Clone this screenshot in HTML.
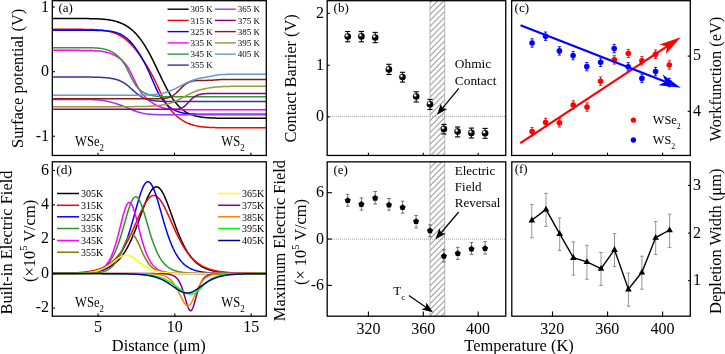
<!DOCTYPE html><html><head><meta charset="utf-8"><style>html,body{margin:0;padding:0;background:#fff;}svg{display:block;will-change:transform;}text{font-family:"Liberation Serif",serif;fill:#000;}</style></head><body>
<svg width="725" height="354" viewBox="0 0 725 354">
<rect width="725" height="354" fill="#fff"/>
<defs><pattern id="hatch" patternUnits="userSpaceOnUse" width="5.90" height="5.90"><path d="M-1.00,-8.80 L-8.80,-1.00 M-1.00,-2.90 L-2.90,-1.00 M-1.00,3.00 L3.00,-1.00 M-1.00,8.90 L8.90,-1.00 M-1.00,14.80 L14.80,-1.00 M-1.00,20.70 L20.70,-1.00" stroke="#3a3a3a" stroke-width="0.75"/></pattern><radialGradient id="ball" cx="0.38" cy="0.36" r="0.62" fx="0.34" fy="0.32"><stop offset="0" stop-color="#fff"/><stop offset="0.16" stop-color="#f4f4f4"/><stop offset="0.36" stop-color="#333"/><stop offset="0.55" stop-color="#000"/></radialGradient></defs>
<clipPath id="ca"><rect x="52.3" y="0.7" width="214.0" height="154.75"/></clipPath>
<g clip-path="url(#ca)" fill="none" stroke-width="1.5">
<path d="M52.30,18.53 L53.01,18.53 L53.73,18.53 L54.44,18.53 L55.15,18.53 L55.87,18.53 L56.58,18.53 L57.29,18.53 L58.01,18.53 L58.72,18.53 L59.43,18.53 L60.15,18.53 L60.86,18.53 L61.57,18.53 L62.29,18.53 L63.00,18.53 L63.71,18.53 L64.43,18.53 L65.14,18.53 L65.85,18.53 L66.57,18.53 L67.28,18.53 L67.99,18.53 L68.71,18.53 L69.42,18.53 L70.13,18.53 L70.85,18.53 L71.56,18.53 L72.27,18.53 L72.99,18.53 L73.70,18.53 L74.41,18.53 L75.13,18.54 L75.84,18.54 L76.55,18.54 L77.27,18.54 L77.98,18.54 L78.69,18.54 L79.41,18.55 L80.12,18.55 L80.83,18.55 L81.55,18.56 L82.26,18.56 L82.97,18.56 L83.69,18.57 L84.40,18.57 L85.11,18.58 L85.83,18.59 L86.54,18.59 L87.25,18.60 L87.97,18.61 L88.68,18.62 L89.39,18.63 L90.11,18.64 L90.82,18.65 L91.53,18.67 L92.25,18.68 L92.96,18.70 L93.67,18.72 L94.39,18.74 L95.10,18.76 L95.81,18.79 L96.53,18.81 L97.24,18.84 L97.95,18.87 L98.67,18.91 L99.38,18.95 L100.09,18.99 L100.81,19.03 L101.52,19.08 L102.23,19.13 L102.95,19.19 L103.66,19.25 L104.37,19.31 L105.09,19.38 L105.80,19.46 L106.51,19.54 L107.23,19.63 L107.94,19.72 L108.65,19.83 L109.37,19.93 L110.08,20.05 L110.79,20.18 L111.51,20.31 L112.22,20.45 L112.93,20.60 L113.65,20.76 L114.36,20.94 L115.07,21.12 L115.79,21.31 L116.50,21.52 L117.21,21.74 L117.93,21.97 L118.64,22.21 L119.35,22.47 L120.07,22.74 L120.78,23.03 L121.49,23.33 L122.21,23.65 L122.92,23.99 L123.63,24.34 L124.35,24.71 L125.06,25.10 L125.77,25.51 L126.49,25.94 L127.20,26.39 L127.91,26.86 L128.63,27.35 L129.34,27.87 L130.05,28.40 L130.77,28.96 L131.48,29.55 L132.19,30.15 L132.91,30.79 L133.62,31.45 L134.33,32.13 L135.05,32.85 L135.76,33.59 L136.47,34.36 L137.19,35.15 L137.90,35.98 L138.61,36.84 L139.33,37.72 L140.04,38.64 L140.75,39.59 L141.47,40.57 L142.18,41.57 L142.89,42.62 L143.61,43.69 L144.32,44.79 L145.03,45.92 L145.75,47.09 L146.46,48.28 L147.17,49.51 L147.89,50.76 L148.60,52.04 L149.31,53.35 L150.03,54.68 L150.74,56.04 L151.45,57.42 L152.17,58.82 L152.88,60.24 L153.59,61.68 L154.31,63.14 L155.02,64.61 L155.73,66.09 L156.45,67.58 L157.16,69.08 L157.87,70.58 L158.59,72.08 L159.30,73.59 L160.01,75.09 L160.73,76.58 L161.44,78.07 L162.15,79.54 L162.87,81.00 L163.58,82.45 L164.29,83.87 L165.01,85.28 L165.72,86.66 L166.43,88.02 L167.15,89.35 L167.86,90.65 L168.57,91.92 L169.29,93.16 L170.00,94.37 L170.71,95.54 L171.43,96.67 L172.14,97.77 L172.85,98.84 L173.57,99.86 L174.28,100.85 L174.99,101.80 L175.71,102.71 L176.42,103.59 L177.13,104.43 L177.85,105.23 L178.56,106.00 L179.27,106.73 L179.99,107.43 L180.70,108.09 L181.41,108.72 L182.13,109.32 L182.84,109.88 L183.55,110.42 L184.27,110.93 L184.98,111.41 L185.69,111.86 L186.41,112.29 L187.12,112.69 L187.83,113.07 L188.55,113.43 L189.26,113.76 L189.97,114.08 L190.69,114.38 L191.40,114.65 L192.11,114.92 L192.83,115.16 L193.54,115.39 L194.25,115.60 L194.97,115.80 L195.68,115.99 L196.39,116.16 L197.11,116.33 L197.82,116.48 L198.53,116.62 L199.25,116.75 L199.96,116.87 L200.67,116.99 L201.39,117.09 L202.10,117.19 L202.81,117.28 L203.53,117.37 L204.24,117.45 L204.95,117.52 L205.67,117.59 L206.38,117.65 L207.09,117.71 L207.81,117.76 L208.52,117.81 L209.23,117.85 L209.95,117.89 L210.66,117.93 L211.37,117.97 L212.09,118.00 L212.80,118.03 L213.51,118.06 L214.23,118.08 L214.94,118.10 L215.65,118.12 L216.37,118.14 L217.08,118.16 L217.79,118.17 L218.51,118.19 L219.22,118.20 L219.93,118.21 L220.65,118.22 L221.36,118.23 L222.07,118.24 L222.79,118.25 L223.50,118.26 L224.21,118.26 L224.93,118.27 L225.64,118.27 L226.35,118.28 L227.07,118.28 L227.78,118.29 L228.49,118.29 L229.21,118.29 L229.92,118.30 L230.63,118.30 L231.35,118.30 L232.06,118.30 L232.77,118.30 L233.49,118.31 L234.20,118.31 L234.91,118.31 L235.63,118.31 L236.34,118.31 L237.05,118.31 L237.77,118.31 L238.48,118.31 L239.19,118.31 L239.91,118.31 L240.62,118.31 L241.33,118.31 L242.05,118.31 L242.76,118.31 L243.47,118.31 L244.19,118.32 L244.90,118.32 L245.61,118.32 L246.33,118.32 L247.04,118.32 L247.75,118.32 L248.47,118.32 L249.18,118.32 L249.89,118.32 L250.61,118.32 L251.32,118.32 L252.03,118.32 L252.75,118.32 L253.46,118.32 L254.17,118.32 L254.89,118.32 L255.60,118.32 L256.31,118.32 L257.03,118.32 L257.74,118.32 L258.45,118.32 L259.17,118.32 L259.88,118.32 L260.59,118.32 L261.31,118.32 L262.02,118.32 L262.73,118.32 L263.45,118.32 L264.16,118.32 L264.87,118.32 L265.59,118.32 L266.30,118.32" stroke="#000000"/>
<path d="M52.30,29.30 L53.01,29.30 L53.73,29.30 L54.44,29.30 L55.15,29.30 L55.87,29.30 L56.58,29.30 L57.29,29.30 L58.01,29.30 L58.72,29.30 L59.43,29.30 L60.15,29.30 L60.86,29.30 L61.57,29.30 L62.29,29.30 L63.00,29.30 L63.71,29.30 L64.43,29.30 L65.14,29.31 L65.85,29.31 L66.57,29.31 L67.28,29.31 L67.99,29.31 L68.71,29.31 L69.42,29.31 L70.13,29.31 L70.85,29.31 L71.56,29.31 L72.27,29.31 L72.99,29.31 L73.70,29.32 L74.41,29.32 L75.13,29.32 L75.84,29.32 L76.55,29.32 L77.27,29.33 L77.98,29.33 L78.69,29.33 L79.41,29.34 L80.12,29.34 L80.83,29.35 L81.55,29.35 L82.26,29.36 L82.97,29.37 L83.69,29.38 L84.40,29.38 L85.11,29.39 L85.83,29.40 L86.54,29.42 L87.25,29.43 L87.97,29.44 L88.68,29.46 L89.39,29.48 L90.11,29.50 L90.82,29.52 L91.53,29.54 L92.25,29.57 L92.96,29.59 L93.67,29.62 L94.39,29.66 L95.10,29.69 L95.81,29.73 L96.53,29.77 L97.24,29.82 L97.95,29.87 L98.67,29.93 L99.38,29.99 L100.09,30.05 L100.81,30.12 L101.52,30.20 L102.23,30.28 L102.95,30.36 L103.66,30.46 L104.37,30.56 L105.09,30.67 L105.80,30.79 L106.51,30.91 L107.23,31.05 L107.94,31.19 L108.65,31.35 L109.37,31.51 L110.08,31.69 L110.79,31.88 L111.51,32.08 L112.22,32.29 L112.93,32.51 L113.65,32.75 L114.36,33.01 L115.07,33.28 L115.79,33.56 L116.50,33.86 L117.21,34.18 L117.93,34.51 L118.64,34.86 L119.35,35.24 L120.07,35.62 L120.78,36.03 L121.49,36.46 L122.21,36.91 L122.92,37.38 L123.63,37.87 L124.35,38.38 L125.06,38.92 L125.77,39.47 L126.49,40.05 L127.20,40.66 L127.91,41.28 L128.63,41.93 L129.34,42.60 L130.05,43.30 L130.77,44.02 L131.48,44.76 L132.19,45.53 L132.91,46.32 L133.62,47.14 L134.33,47.97 L135.05,48.83 L135.76,49.72 L136.47,50.62 L137.19,51.55 L137.90,52.50 L138.61,53.46 L139.33,54.45 L140.04,55.46 L140.75,56.49 L141.47,57.53 L142.18,58.60 L142.89,59.67 L143.61,60.77 L144.32,61.88 L145.03,63.00 L145.75,64.14 L146.46,65.30 L147.17,66.47 L147.89,67.65 L148.60,68.85 L149.31,70.07 L150.03,71.31 L150.74,72.57 L151.45,73.85 L152.17,75.16 L152.88,76.51 L153.59,77.88 L154.31,79.29 L155.02,80.73 L155.73,82.21 L156.45,83.72 L157.16,85.25 L157.87,86.81 L158.59,88.38 L159.30,89.95 L160.01,91.51 L160.73,93.05 L161.44,94.57 L162.15,96.06 L162.87,97.50 L163.58,98.89 L164.29,100.22 L165.01,101.50 L165.72,102.73 L166.43,103.89 L167.15,105.00 L167.86,106.05 L168.57,107.06 L169.29,108.02 L170.00,108.95 L170.71,109.83 L171.43,110.67 L172.14,111.49 L172.85,112.27 L173.57,113.03 L174.28,113.76 L174.99,114.46 L175.71,115.13 L176.42,115.79 L177.13,116.41 L177.85,117.02 L178.56,117.60 L179.27,118.16 L179.99,118.69 L180.70,119.20 L181.41,119.70 L182.13,120.17 L182.84,120.61 L183.55,121.04 L184.27,121.45 L184.98,121.84 L185.69,122.21 L186.41,122.57 L187.12,122.90 L187.83,123.22 L188.55,123.52 L189.26,123.80 L189.97,124.07 L190.69,124.33 L191.40,124.57 L192.11,124.79 L192.83,125.01 L193.54,125.21 L194.25,125.39 L194.97,125.57 L195.68,125.74 L196.39,125.89 L197.11,126.04 L197.82,126.17 L198.53,126.30 L199.25,126.42 L199.96,126.52 L200.67,126.63 L201.39,126.72 L202.10,126.81 L202.81,126.89 L203.53,126.97 L204.24,127.04 L204.95,127.10 L205.67,127.16 L206.38,127.22 L207.09,127.27 L207.81,127.31 L208.52,127.36 L209.23,127.40 L209.95,127.43 L210.66,127.47 L211.37,127.50 L212.09,127.52 L212.80,127.55 L213.51,127.57 L214.23,127.59 L214.94,127.61 L215.65,127.63 L216.37,127.65 L217.08,127.66 L217.79,127.67 L218.51,127.68 L219.22,127.69 L219.93,127.70 L220.65,127.71 L221.36,127.72 L222.07,127.73 L222.79,127.73 L223.50,127.74 L224.21,127.75 L224.93,127.75 L225.64,127.75 L226.35,127.76 L227.07,127.76 L227.78,127.76 L228.49,127.77 L229.21,127.77 L229.92,127.77 L230.63,127.77 L231.35,127.77 L232.06,127.78 L232.77,127.78 L233.49,127.78 L234.20,127.78 L234.91,127.78 L235.63,127.78 L236.34,127.78 L237.05,127.78 L237.77,127.78 L238.48,127.78 L239.19,127.78 L239.91,127.78 L240.62,127.78 L241.33,127.78 L242.05,127.79 L242.76,127.79 L243.47,127.79 L244.19,127.79 L244.90,127.79 L245.61,127.79 L246.33,127.79 L247.04,127.79 L247.75,127.79 L248.47,127.79 L249.18,127.79 L249.89,127.79 L250.61,127.79 L251.32,127.79 L252.03,127.79 L252.75,127.79 L253.46,127.79 L254.17,127.79 L254.89,127.79 L255.60,127.79 L256.31,127.79 L257.03,127.79 L257.74,127.79 L258.45,127.79 L259.17,127.79 L259.88,127.79 L260.59,127.79 L261.31,127.79 L262.02,127.79 L262.73,127.79 L263.45,127.79 L264.16,127.79 L264.87,127.79 L265.59,127.79 L266.30,127.79" stroke="#ff0000"/>
<path d="M52.30,30.31 L53.01,30.31 L53.73,30.31 L54.44,30.31 L55.15,30.31 L55.87,30.31 L56.58,30.31 L57.29,30.31 L58.01,30.31 L58.72,30.31 L59.43,30.31 L60.15,30.31 L60.86,30.31 L61.57,30.31 L62.29,30.31 L63.00,30.31 L63.71,30.31 L64.43,30.31 L65.14,30.31 L65.85,30.31 L66.57,30.31 L67.28,30.31 L67.99,30.31 L68.71,30.31 L69.42,30.31 L70.13,30.31 L70.85,30.31 L71.56,30.31 L72.27,30.31 L72.99,30.31 L73.70,30.31 L74.41,30.31 L75.13,30.31 L75.84,30.31 L76.55,30.31 L77.27,30.31 L77.98,30.31 L78.69,30.31 L79.41,30.31 L80.12,30.31 L80.83,30.31 L81.55,30.31 L82.26,30.31 L82.97,30.31 L83.69,30.31 L84.40,30.31 L85.11,30.31 L85.83,30.32 L86.54,30.32 L87.25,30.32 L87.97,30.32 L88.68,30.32 L89.39,30.33 L90.11,30.33 L90.82,30.33 L91.53,30.34 L92.25,30.34 L92.96,30.35 L93.67,30.35 L94.39,30.36 L95.10,30.37 L95.81,30.38 L96.53,30.39 L97.24,30.40 L97.95,30.42 L98.67,30.44 L99.38,30.45 L100.09,30.48 L100.81,30.50 L101.52,30.53 L102.23,30.56 L102.95,30.59 L103.66,30.63 L104.37,30.67 L105.09,30.72 L105.80,30.77 L106.51,30.83 L107.23,30.90 L107.94,30.97 L108.65,31.05 L109.37,31.14 L110.08,31.24 L110.79,31.35 L111.51,31.47 L112.22,31.60 L112.93,31.74 L113.65,31.90 L114.36,32.07 L115.07,32.25 L115.79,32.45 L116.50,32.67 L117.21,32.91 L117.93,33.16 L118.64,33.44 L119.35,33.73 L120.07,34.05 L120.78,34.39 L121.49,34.76 L122.21,35.15 L122.92,35.57 L123.63,36.01 L124.35,36.48 L125.06,36.99 L125.77,37.52 L126.49,38.08 L127.20,38.67 L127.91,39.30 L128.63,39.96 L129.34,40.65 L130.05,41.37 L130.77,42.12 L131.48,42.91 L132.19,43.74 L132.91,44.59 L133.62,45.48 L134.33,46.40 L135.05,47.36 L135.76,48.34 L136.47,49.36 L137.19,50.41 L137.90,51.48 L138.61,52.59 L139.33,53.72 L140.04,54.88 L140.75,56.07 L141.47,57.29 L142.18,58.53 L142.89,59.81 L143.61,61.11 L144.32,62.45 L145.03,63.82 L145.75,65.23 L146.46,66.67 L147.17,68.15 L147.89,69.67 L148.60,71.22 L149.31,72.81 L150.03,74.43 L150.74,76.08 L151.45,77.75 L152.17,79.43 L152.88,81.11 L153.59,82.78 L154.31,84.43 L155.02,86.05 L155.73,87.64 L156.45,89.17 L157.16,90.65 L157.87,92.07 L158.59,93.42 L159.30,94.70 L160.01,95.92 L160.73,97.07 L161.44,98.16 L162.15,99.19 L162.87,100.15 L163.58,101.07 L164.29,101.93 L165.01,102.74 L165.72,103.52 L166.43,104.24 L167.15,104.93 L167.86,105.59 L168.57,106.20 L169.29,106.79 L170.00,107.34 L170.71,107.86 L171.43,108.34 L172.14,108.80 L172.85,109.24 L173.57,109.64 L174.28,110.02 L174.99,110.38 L175.71,110.71 L176.42,111.01 L177.13,111.30 L177.85,111.57 L178.56,111.81 L179.27,112.04 L179.99,112.25 L180.70,112.44 L181.41,112.62 L182.13,112.78 L182.84,112.93 L183.55,113.07 L184.27,113.19 L184.98,113.31 L185.69,113.41 L186.41,113.50 L187.12,113.59 L187.83,113.67 L188.55,113.74 L189.26,113.80 L189.97,113.86 L190.69,113.91 L191.40,113.95 L192.11,113.99 L192.83,114.03 L193.54,114.06 L194.25,114.09 L194.97,114.12 L195.68,114.14 L196.39,114.16 L197.11,114.18 L197.82,114.19 L198.53,114.20 L199.25,114.22 L199.96,114.23 L200.67,114.24 L201.39,114.25 L202.10,114.25 L202.81,114.26 L203.53,114.26 L204.24,114.27 L204.95,114.27 L205.67,114.28 L206.38,114.28 L207.09,114.28 L207.81,114.28 L208.52,114.29 L209.23,114.29 L209.95,114.29 L210.66,114.29 L211.37,114.29 L212.09,114.29 L212.80,114.29 L213.51,114.29 L214.23,114.29 L214.94,114.29 L215.65,114.29 L216.37,114.29 L217.08,114.29 L217.79,114.30 L218.51,114.30 L219.22,114.30 L219.93,114.30 L220.65,114.30 L221.36,114.30 L222.07,114.30 L222.79,114.30 L223.50,114.30 L224.21,114.30 L224.93,114.30 L225.64,114.30 L226.35,114.30 L227.07,114.30 L227.78,114.30 L228.49,114.30 L229.21,114.30 L229.92,114.30 L230.63,114.30 L231.35,114.30 L232.06,114.30 L232.77,114.30 L233.49,114.30 L234.20,114.30 L234.91,114.30 L235.63,114.30 L236.34,114.30 L237.05,114.30 L237.77,114.30 L238.48,114.30 L239.19,114.30 L239.91,114.30 L240.62,114.30 L241.33,114.30 L242.05,114.30 L242.76,114.30 L243.47,114.30 L244.19,114.30 L244.90,114.30 L245.61,114.30 L246.33,114.30 L247.04,114.30 L247.75,114.30 L248.47,114.30 L249.18,114.30 L249.89,114.30 L250.61,114.30 L251.32,114.30 L252.03,114.30 L252.75,114.30 L253.46,114.30 L254.17,114.30 L254.89,114.30 L255.60,114.30 L256.31,114.30 L257.03,114.30 L257.74,114.30 L258.45,114.30 L259.17,114.30 L259.88,114.30 L260.59,114.30 L261.31,114.30 L262.02,114.30 L262.73,114.30 L263.45,114.30 L264.16,114.30 L264.87,114.30 L265.59,114.30 L266.30,114.30" stroke="#0000ff"/>
<path d="M52.30,50.36 L53.01,50.36 L53.73,50.36 L54.44,50.36 L55.15,50.36 L55.87,50.36 L56.58,50.36 L57.29,50.36 L58.01,50.36 L58.72,50.36 L59.43,50.36 L60.15,50.36 L60.86,50.36 L61.57,50.36 L62.29,50.36 L63.00,50.36 L63.71,50.36 L64.43,50.36 L65.14,50.36 L65.85,50.36 L66.57,50.36 L67.28,50.36 L67.99,50.36 L68.71,50.36 L69.42,50.36 L70.13,50.36 L70.85,50.36 L71.56,50.36 L72.27,50.36 L72.99,50.36 L73.70,50.36 L74.41,50.36 L75.13,50.36 L75.84,50.36 L76.55,50.37 L77.27,50.37 L77.98,50.37 L78.69,50.37 L79.41,50.37 L80.12,50.38 L80.83,50.38 L81.55,50.38 L82.26,50.39 L82.97,50.39 L83.69,50.40 L84.40,50.40 L85.11,50.41 L85.83,50.42 L86.54,50.43 L87.25,50.44 L87.97,50.45 L88.68,50.47 L89.39,50.48 L90.11,50.50 L90.82,50.52 L91.53,50.54 L92.25,50.57 L92.96,50.60 L93.67,50.63 L94.39,50.66 L95.10,50.70 L95.81,50.75 L96.53,50.80 L97.24,50.85 L97.95,50.91 L98.67,50.97 L99.38,51.05 L100.09,51.12 L100.81,51.21 L101.52,51.31 L102.23,51.41 L102.95,51.52 L103.66,51.65 L104.37,51.78 L105.09,51.93 L105.80,52.08 L106.51,52.25 L107.23,52.44 L107.94,52.63 L108.65,52.85 L109.37,53.07 L110.08,53.32 L110.79,53.58 L111.51,53.85 L112.22,54.15 L112.93,54.46 L113.65,54.80 L114.36,55.15 L115.07,55.52 L115.79,55.91 L116.50,56.33 L117.21,56.77 L117.93,57.22 L118.64,57.71 L119.35,58.22 L120.07,58.75 L120.78,59.32 L121.49,59.91 L122.21,60.54 L122.92,61.22 L123.63,61.93 L124.35,62.70 L125.06,63.52 L125.77,64.40 L126.49,65.35 L127.20,66.38 L127.91,67.48 L128.63,68.65 L129.34,69.90 L130.05,71.23 L130.77,72.62 L131.48,74.07 L132.19,75.56 L132.91,77.08 L133.62,78.61 L134.33,80.14 L135.05,81.65 L135.76,83.13 L136.47,84.55 L137.19,85.92 L137.90,87.23 L138.61,88.47 L139.33,89.63 L140.04,90.73 L140.75,91.76 L141.47,92.73 L142.18,93.64 L142.89,94.50 L143.61,95.31 L144.32,96.09 L145.03,96.83 L145.75,97.53 L146.46,98.21 L147.17,98.86 L147.89,99.48 L148.60,100.08 L149.31,100.66 L150.03,101.21 L150.74,101.74 L151.45,102.25 L152.17,102.74 L152.88,103.21 L153.59,103.65 L154.31,104.08 L155.02,104.48 L155.73,104.86 L156.45,105.23 L157.16,105.57 L157.87,105.89 L158.59,106.20 L159.30,106.49 L160.01,106.76 L160.73,107.01 L161.44,107.25 L162.15,107.47 L162.87,107.67 L163.58,107.86 L164.29,108.04 L165.01,108.20 L165.72,108.36 L166.43,108.50 L167.15,108.62 L167.86,108.74 L168.57,108.85 L169.29,108.95 L170.00,109.04 L170.71,109.13 L171.43,109.20 L172.14,109.27 L172.85,109.33 L173.57,109.39 L174.28,109.44 L174.99,109.49 L175.71,109.53 L176.42,109.57 L177.13,109.60 L177.85,109.63 L178.56,109.66 L179.27,109.68 L179.99,109.70 L180.70,109.72 L181.41,109.74 L182.13,109.76 L182.84,109.77 L183.55,109.78 L184.27,109.79 L184.98,109.80 L185.69,109.81 L186.41,109.81 L187.12,109.82 L187.83,109.83 L188.55,109.83 L189.26,109.83 L189.97,109.84 L190.69,109.84 L191.40,109.84 L192.11,109.85 L192.83,109.85 L193.54,109.85 L194.25,109.85 L194.97,109.85 L195.68,109.85 L196.39,109.85 L197.11,109.85 L197.82,109.86 L198.53,109.86 L199.25,109.86 L199.96,109.86 L200.67,109.86 L201.39,109.86 L202.10,109.86 L202.81,109.86 L203.53,109.86 L204.24,109.86 L204.95,109.86 L205.67,109.86 L206.38,109.86 L207.09,109.86 L207.81,109.86 L208.52,109.86 L209.23,109.86 L209.95,109.86 L210.66,109.86 L211.37,109.86 L212.09,109.86 L212.80,109.86 L213.51,109.86 L214.23,109.86 L214.94,109.86 L215.65,109.86 L216.37,109.86 L217.08,109.86 L217.79,109.86 L218.51,109.86 L219.22,109.86 L219.93,109.86 L220.65,109.86 L221.36,109.86 L222.07,109.86 L222.79,109.86 L223.50,109.86 L224.21,109.86 L224.93,109.86 L225.64,109.86 L226.35,109.86 L227.07,109.86 L227.78,109.86 L228.49,109.86 L229.21,109.86 L229.92,109.86 L230.63,109.86 L231.35,109.86 L232.06,109.86 L232.77,109.86 L233.49,109.86 L234.20,109.86 L234.91,109.86 L235.63,109.86 L236.34,109.86 L237.05,109.86 L237.77,109.86 L238.48,109.86 L239.19,109.86 L239.91,109.86 L240.62,109.86 L241.33,109.86 L242.05,109.86 L242.76,109.86 L243.47,109.86 L244.19,109.86 L244.90,109.86 L245.61,109.86 L246.33,109.86 L247.04,109.86 L247.75,109.86 L248.47,109.86 L249.18,109.86 L249.89,109.86 L250.61,109.86 L251.32,109.86 L252.03,109.86 L252.75,109.86 L253.46,109.86 L254.17,109.86 L254.89,109.86 L255.60,109.86 L256.31,109.86 L257.03,109.86 L257.74,109.86 L258.45,109.86 L259.17,109.86 L259.88,109.86 L260.59,109.86 L261.31,109.86 L262.02,109.86 L262.73,109.86 L263.45,109.86 L264.16,109.86 L264.87,109.86 L265.59,109.86 L266.30,109.86" stroke="#ff00ff"/>
<path d="M52.30,47.67 L53.01,47.67 L53.73,47.67 L54.44,47.67 L55.15,47.67 L55.87,47.67 L56.58,47.67 L57.29,47.67 L58.01,47.67 L58.72,47.67 L59.43,47.67 L60.15,47.67 L60.86,47.67 L61.57,47.67 L62.29,47.67 L63.00,47.67 L63.71,47.67 L64.43,47.67 L65.14,47.67 L65.85,47.67 L66.57,47.67 L67.28,47.67 L67.99,47.67 L68.71,47.67 L69.42,47.67 L70.13,47.67 L70.85,47.67 L71.56,47.67 L72.27,47.67 L72.99,47.67 L73.70,47.67 L74.41,47.67 L75.13,47.68 L75.84,47.68 L76.55,47.68 L77.27,47.68 L77.98,47.68 L78.69,47.68 L79.41,47.68 L80.12,47.68 L80.83,47.68 L81.55,47.68 L82.26,47.69 L82.97,47.69 L83.69,47.69 L84.40,47.69 L85.11,47.70 L85.83,47.70 L86.54,47.71 L87.25,47.72 L87.97,47.73 L88.68,47.73 L89.39,47.75 L90.11,47.76 L90.82,47.77 L91.53,47.79 L92.25,47.81 L92.96,47.84 L93.67,47.86 L94.39,47.90 L95.10,47.93 L95.81,47.97 L96.53,48.02 L97.24,48.07 L97.95,48.13 L98.67,48.20 L99.38,48.28 L100.09,48.36 L100.81,48.46 L101.52,48.56 L102.23,48.68 L102.95,48.81 L103.66,48.95 L104.37,49.11 L105.09,49.28 L105.80,49.47 L106.51,49.68 L107.23,49.91 L107.94,50.15 L108.65,50.42 L109.37,50.71 L110.08,51.02 L110.79,51.35 L111.51,51.71 L112.22,52.09 L112.93,52.49 L113.65,52.93 L114.36,53.38 L115.07,53.87 L115.79,54.39 L116.50,54.94 L117.21,55.52 L117.93,56.13 L118.64,56.79 L119.35,57.48 L120.07,58.23 L120.78,59.02 L121.49,59.88 L122.21,60.79 L122.92,61.77 L123.63,62.83 L124.35,63.95 L125.06,65.15 L125.77,66.42 L126.49,67.75 L127.20,69.14 L127.91,70.58 L128.63,72.05 L129.34,73.54 L130.05,75.03 L130.77,76.50 L131.48,77.94 L132.19,79.34 L132.91,80.67 L133.62,81.94 L134.33,83.12 L135.05,84.23 L135.76,85.26 L136.47,86.21 L137.19,87.08 L137.90,87.88 L138.61,88.61 L139.33,89.28 L140.04,89.90 L140.75,90.47 L141.47,91.00 L142.18,91.48 L142.89,91.93 L143.61,92.35 L144.32,92.74 L145.03,93.10 L145.75,93.44 L146.46,93.75 L147.17,94.04 L147.89,94.30 L148.60,94.55 L149.31,94.77 L150.03,94.98 L150.74,95.17 L151.45,95.34 L152.17,95.50 L152.88,95.64 L153.59,95.77 L154.31,95.89 L155.02,95.99 L155.73,96.09 L156.45,96.17 L157.16,96.25 L157.87,96.31 L158.59,96.37 L159.30,96.42 L160.01,96.47 L160.73,96.51 L161.44,96.55 L162.15,96.58 L162.87,96.61 L163.58,96.63 L164.29,96.65 L165.01,96.67 L165.72,96.68 L166.43,96.70 L167.15,96.71 L167.86,96.72 L168.57,96.72 L169.29,96.73 L170.00,96.74 L170.71,96.74 L171.43,96.75 L172.14,96.75 L172.85,96.75 L173.57,96.76 L174.28,96.76 L174.99,96.76 L175.71,96.76 L176.42,96.76 L177.13,96.76 L177.85,96.76 L178.56,96.76 L179.27,96.77 L179.99,96.77 L180.70,96.77 L181.41,96.77 L182.13,96.77 L182.84,96.77 L183.55,96.77 L184.27,96.77 L184.98,96.77 L185.69,96.77 L186.41,96.77 L187.12,96.77 L187.83,96.77 L188.55,96.77 L189.26,96.77 L189.97,96.77 L190.69,96.77 L191.40,96.77 L192.11,96.77 L192.83,96.77 L193.54,96.77 L194.25,96.77 L194.97,96.77 L195.68,96.77 L196.39,96.77 L197.11,96.77 L197.82,96.77 L198.53,96.77 L199.25,96.77 L199.96,96.77 L200.67,96.77 L201.39,96.77 L202.10,96.77 L202.81,96.77 L203.53,96.77 L204.24,96.77 L204.95,96.77 L205.67,96.77 L206.38,96.77 L207.09,96.77 L207.81,96.77 L208.52,96.77 L209.23,96.77 L209.95,96.77 L210.66,96.77 L211.37,96.77 L212.09,96.77 L212.80,96.77 L213.51,96.77 L214.23,96.77 L214.94,96.77 L215.65,96.77 L216.37,96.77 L217.08,96.77 L217.79,96.77 L218.51,96.77 L219.22,96.77 L219.93,96.77 L220.65,96.77 L221.36,96.77 L222.07,96.77 L222.79,96.77 L223.50,96.77 L224.21,96.77 L224.93,96.77 L225.64,96.77 L226.35,96.77 L227.07,96.77 L227.78,96.77 L228.49,96.77 L229.21,96.77 L229.92,96.77 L230.63,96.77 L231.35,96.77 L232.06,96.77 L232.77,96.77 L233.49,96.77 L234.20,96.77 L234.91,96.77 L235.63,96.77 L236.34,96.77 L237.05,96.77 L237.77,96.77 L238.48,96.77 L239.19,96.77 L239.91,96.77 L240.62,96.77 L241.33,96.77 L242.05,96.77 L242.76,96.77 L243.47,96.77 L244.19,96.77 L244.90,96.77 L245.61,96.77 L246.33,96.77 L247.04,96.77 L247.75,96.77 L248.47,96.77 L249.18,96.77 L249.89,96.77 L250.61,96.77 L251.32,96.77 L252.03,96.77 L252.75,96.77 L253.46,96.77 L254.17,96.77 L254.89,96.77 L255.60,96.77 L256.31,96.77 L257.03,96.77 L257.74,96.77 L258.45,96.77 L259.17,96.77 L259.88,96.77 L260.59,96.77 L261.31,96.77 L262.02,96.77 L262.73,96.77 L263.45,96.77 L264.16,96.77 L264.87,96.77 L265.59,96.77 L266.30,96.77" stroke="#339933"/>
<path d="M52.30,77.04 L53.01,77.04 L53.73,77.04 L54.44,77.04 L55.15,77.04 L55.87,77.04 L56.58,77.04 L57.29,77.04 L58.01,77.04 L58.72,77.04 L59.43,77.04 L60.15,77.04 L60.86,77.04 L61.57,77.04 L62.29,77.04 L63.00,77.04 L63.71,77.04 L64.43,77.04 L65.14,77.04 L65.85,77.04 L66.57,77.04 L67.28,77.04 L67.99,77.04 L68.71,77.04 L69.42,77.04 L70.13,77.04 L70.85,77.04 L71.56,77.04 L72.27,77.04 L72.99,77.04 L73.70,77.04 L74.41,77.04 L75.13,77.04 L75.84,77.04 L76.55,77.04 L77.27,77.04 L77.98,77.04 L78.69,77.04 L79.41,77.04 L80.12,77.04 L80.83,77.04 L81.55,77.05 L82.26,77.05 L82.97,77.05 L83.69,77.05 L84.40,77.05 L85.11,77.06 L85.83,77.06 L86.54,77.06 L87.25,77.07 L87.97,77.07 L88.68,77.08 L89.39,77.08 L90.11,77.09 L90.82,77.10 L91.53,77.11 L92.25,77.12 L92.96,77.13 L93.67,77.14 L94.39,77.15 L95.10,77.17 L95.81,77.19 L96.53,77.21 L97.24,77.23 L97.95,77.25 L98.67,77.28 L99.38,77.31 L100.09,77.34 L100.81,77.37 L101.52,77.41 L102.23,77.45 L102.95,77.49 L103.66,77.54 L104.37,77.59 L105.09,77.65 L105.80,77.71 L106.51,77.78 L107.23,77.86 L107.94,77.93 L108.65,78.02 L109.37,78.11 L110.08,78.21 L110.79,78.32 L111.51,78.44 L112.22,78.57 L112.93,78.70 L113.65,78.85 L114.36,79.01 L115.07,79.19 L115.79,79.37 L116.50,79.58 L117.21,79.80 L117.93,80.03 L118.64,80.29 L119.35,80.57 L120.07,80.87 L120.78,81.19 L121.49,81.53 L122.21,81.90 L122.92,82.30 L123.63,82.72 L124.35,83.17 L125.06,83.64 L125.77,84.14 L126.49,84.66 L127.20,85.20 L127.91,85.77 L128.63,86.35 L129.34,86.95 L130.05,87.57 L130.77,88.20 L131.48,88.83 L132.19,89.47 L132.91,90.12 L133.62,90.76 L134.33,91.39 L135.05,92.01 L135.76,92.63 L136.47,93.22 L137.19,93.80 L137.90,94.36 L138.61,94.90 L139.33,95.41 L140.04,95.90 L140.75,96.35 L141.47,96.79 L142.18,97.19 L142.89,97.57 L143.61,97.92 L144.32,98.25 L145.03,98.55 L145.75,98.82 L146.46,99.07 L147.17,99.31 L147.89,99.52 L148.60,99.71 L149.31,99.88 L150.03,100.04 L150.74,100.19 L151.45,100.32 L152.17,100.44 L152.88,100.55 L153.59,100.65 L154.31,100.74 L155.02,100.82 L155.73,100.89 L156.45,100.96 L157.16,101.02 L157.87,101.07 L158.59,101.12 L159.30,101.17 L160.01,101.21 L160.73,101.25 L161.44,101.28 L162.15,101.31 L162.87,101.34 L163.58,101.37 L164.29,101.39 L165.01,101.41 L165.72,101.43 L166.43,101.45 L167.15,101.46 L167.86,101.47 L168.57,101.49 L169.29,101.50 L170.00,101.51 L170.71,101.51 L171.43,101.52 L172.14,101.53 L172.85,101.53 L173.57,101.54 L174.28,101.54 L174.99,101.55 L175.71,101.55 L176.42,101.55 L177.13,101.56 L177.85,101.56 L178.56,101.56 L179.27,101.56 L179.99,101.56 L180.70,101.57 L181.41,101.57 L182.13,101.57 L182.84,101.57 L183.55,101.57 L184.27,101.57 L184.98,101.57 L185.69,101.57 L186.41,101.57 L187.12,101.57 L187.83,101.57 L188.55,101.57 L189.26,101.57 L189.97,101.57 L190.69,101.57 L191.40,101.57 L192.11,101.57 L192.83,101.57 L193.54,101.57 L194.25,101.57 L194.97,101.57 L195.68,101.57 L196.39,101.57 L197.11,101.57 L197.82,101.57 L198.53,101.57 L199.25,101.57 L199.96,101.57 L200.67,101.57 L201.39,101.57 L202.10,101.57 L202.81,101.57 L203.53,101.57 L204.24,101.57 L204.95,101.57 L205.67,101.57 L206.38,101.57 L207.09,101.57 L207.81,101.57 L208.52,101.57 L209.23,101.57 L209.95,101.57 L210.66,101.57 L211.37,101.57 L212.09,101.57 L212.80,101.57 L213.51,101.57 L214.23,101.57 L214.94,101.57 L215.65,101.57 L216.37,101.57 L217.08,101.57 L217.79,101.57 L218.51,101.57 L219.22,101.57 L219.93,101.57 L220.65,101.57 L221.36,101.57 L222.07,101.57 L222.79,101.57 L223.50,101.57 L224.21,101.57 L224.93,101.57 L225.64,101.57 L226.35,101.57 L227.07,101.57 L227.78,101.57 L228.49,101.57 L229.21,101.57 L229.92,101.57 L230.63,101.57 L231.35,101.57 L232.06,101.57 L232.77,101.57 L233.49,101.57 L234.20,101.57 L234.91,101.57 L235.63,101.57 L236.34,101.57 L237.05,101.57 L237.77,101.57 L238.48,101.57 L239.19,101.57 L239.91,101.57 L240.62,101.57 L241.33,101.57 L242.05,101.57 L242.76,101.57 L243.47,101.57 L244.19,101.57 L244.90,101.57 L245.61,101.57 L246.33,101.57 L247.04,101.57 L247.75,101.57 L248.47,101.57 L249.18,101.57 L249.89,101.57 L250.61,101.57 L251.32,101.57 L252.03,101.57 L252.75,101.57 L253.46,101.57 L254.17,101.57 L254.89,101.57 L255.60,101.57 L256.31,101.57 L257.03,101.57 L257.74,101.57 L258.45,101.57 L259.17,101.57 L259.88,101.57 L260.59,101.57 L261.31,101.57 L262.02,101.57 L262.73,101.57 L263.45,101.57 L264.16,101.57 L264.87,101.57 L265.59,101.57 L266.30,101.57" stroke="#33339a"/>
<path d="M52.30,99.51 L53.01,99.51 L53.73,99.51 L54.44,99.51 L55.15,99.51 L55.87,99.51 L56.58,99.51 L57.29,99.51 L58.01,99.51 L58.72,99.51 L59.43,99.51 L60.15,99.51 L60.86,99.51 L61.57,99.51 L62.29,99.51 L63.00,99.51 L63.71,99.51 L64.43,99.51 L65.14,99.51 L65.85,99.51 L66.57,99.51 L67.28,99.51 L67.99,99.51 L68.71,99.51 L69.42,99.51 L70.13,99.51 L70.85,99.51 L71.56,99.51 L72.27,99.51 L72.99,99.51 L73.70,99.51 L74.41,99.51 L75.13,99.51 L75.84,99.51 L76.55,99.51 L77.27,99.51 L77.98,99.51 L78.69,99.51 L79.41,99.51 L80.12,99.51 L80.83,99.51 L81.55,99.51 L82.26,99.51 L82.97,99.51 L83.69,99.51 L84.40,99.52 L85.11,99.52 L85.83,99.52 L86.54,99.53 L87.25,99.53 L87.97,99.54 L88.68,99.55 L89.39,99.56 L90.11,99.57 L90.82,99.58 L91.53,99.60 L92.25,99.62 L92.96,99.64 L93.67,99.67 L94.39,99.70 L95.10,99.73 L95.81,99.77 L96.53,99.82 L97.24,99.87 L97.95,99.92 L98.67,99.98 L99.38,100.05 L100.09,100.13 L100.81,100.21 L101.52,100.30 L102.23,100.39 L102.95,100.50 L103.66,100.61 L104.37,100.73 L105.09,100.85 L105.80,100.99 L106.51,101.13 L107.23,101.28 L107.94,101.43 L108.65,101.59 L109.37,101.76 L110.08,101.94 L110.79,102.12 L111.51,102.30 L112.22,102.50 L112.93,102.69 L113.65,102.90 L114.36,103.11 L115.07,103.32 L115.79,103.54 L116.50,103.77 L117.21,104.00 L117.93,104.24 L118.64,104.48 L119.35,104.73 L120.07,104.99 L120.78,105.25 L121.49,105.52 L122.21,105.79 L122.92,106.07 L123.63,106.35 L124.35,106.63 L125.06,106.92 L125.77,107.22 L126.49,107.51 L127.20,107.81 L127.91,108.11 L128.63,108.41 L129.34,108.71 L130.05,109.01 L130.77,109.31 L131.48,109.60 L132.19,109.89 L132.91,110.18 L133.62,110.46 L134.33,110.73 L135.05,110.99 L135.76,111.25 L136.47,111.50 L137.19,111.74 L137.90,111.96 L138.61,112.18 L139.33,112.39 L140.04,112.59 L140.75,112.77 L141.47,112.95 L142.18,113.11 L142.89,113.27 L143.61,113.41 L144.32,113.54 L145.03,113.66 L145.75,113.78 L146.46,113.88 L147.17,113.97 L147.89,114.06 L148.60,114.14 L149.31,114.21 L150.03,114.27 L150.74,114.32 L151.45,114.37 L152.17,114.42 L152.88,114.46 L153.59,114.49 L154.31,114.52 L155.02,114.55 L155.73,114.57 L156.45,114.59 L157.16,114.61 L157.87,114.63 L158.59,114.64 L159.30,114.65 L160.01,114.66 L160.73,114.67 L161.44,114.67 L162.15,114.68 L162.87,114.69 L163.58,114.69 L164.29,114.69 L165.01,114.70 L165.72,114.70 L166.43,114.70 L167.15,114.70 L167.86,114.70 L168.57,114.70 L169.29,114.70 L170.00,114.70 L170.71,114.71 L171.43,114.71 L172.14,114.71 L172.85,114.71 L173.57,114.71 L174.28,114.71 L174.99,114.71 L175.71,114.71 L176.42,114.71 L177.13,114.71 L177.85,114.71 L178.56,114.71 L179.27,114.71 L179.99,114.71 L180.70,114.71 L181.41,114.71 L182.13,114.71 L182.84,114.71 L183.55,114.71 L184.27,114.71 L184.98,114.71 L185.69,114.71 L186.41,114.71 L187.12,114.71 L187.83,114.71 L188.55,114.71 L189.26,114.71 L189.97,114.71 L190.69,114.71 L191.40,114.71 L192.11,114.71 L192.83,114.71 L193.54,114.71 L194.25,114.71 L194.97,114.71 L195.68,114.71 L196.39,114.71 L197.11,114.71 L197.82,114.71 L198.53,114.71 L199.25,114.71 L199.96,114.71 L200.67,114.71 L201.39,114.71 L202.10,114.71 L202.81,114.71 L203.53,114.71 L204.24,114.71 L204.95,114.71 L205.67,114.71 L206.38,114.71 L207.09,114.71 L207.81,114.71 L208.52,114.71 L209.23,114.71 L209.95,114.71 L210.66,114.71 L211.37,114.71 L212.09,114.71 L212.80,114.71 L213.51,114.71 L214.23,114.71 L214.94,114.71 L215.65,114.71 L216.37,114.71 L217.08,114.71 L217.79,114.71 L218.51,114.71 L219.22,114.71 L219.93,114.71 L220.65,114.71 L221.36,114.71 L222.07,114.71 L222.79,114.71 L223.50,114.71 L224.21,114.71 L224.93,114.71 L225.64,114.71 L226.35,114.71 L227.07,114.71 L227.78,114.71 L228.49,114.71 L229.21,114.71 L229.92,114.71 L230.63,114.71 L231.35,114.71 L232.06,114.71 L232.77,114.71 L233.49,114.71 L234.20,114.71 L234.91,114.71 L235.63,114.71 L236.34,114.71 L237.05,114.71 L237.77,114.71 L238.48,114.71 L239.19,114.71 L239.91,114.71 L240.62,114.71 L241.33,114.71 L242.05,114.71 L242.76,114.71 L243.47,114.71 L244.19,114.71 L244.90,114.71 L245.61,114.71 L246.33,114.71 L247.04,114.71 L247.75,114.71 L248.47,114.71 L249.18,114.71 L249.89,114.71 L250.61,114.71 L251.32,114.71 L252.03,114.71 L252.75,114.71 L253.46,114.71 L254.17,114.71 L254.89,114.71 L255.60,114.71 L256.31,114.71 L257.03,114.71 L257.74,114.71 L258.45,114.71 L259.17,114.71 L259.88,114.71 L260.59,114.71 L261.31,114.71 L262.02,114.71 L262.73,114.71 L263.45,114.71 L264.16,114.71 L264.87,114.71 L265.59,114.71 L266.30,114.71" stroke="#9933ff"/>
<path d="M52.30,109.37 L53.01,109.37 L53.73,109.37 L54.44,109.37 L55.15,109.37 L55.87,109.37 L56.58,109.37 L57.29,109.37 L58.01,109.37 L58.72,109.37 L59.43,109.37 L60.15,109.37 L60.86,109.37 L61.57,109.37 L62.29,109.37 L63.00,109.37 L63.71,109.37 L64.43,109.37 L65.14,109.37 L65.85,109.37 L66.57,109.37 L67.28,109.37 L67.99,109.37 L68.71,109.37 L69.42,109.37 L70.13,109.37 L70.85,109.37 L71.56,109.37 L72.27,109.37 L72.99,109.37 L73.70,109.37 L74.41,109.37 L75.13,109.37 L75.84,109.37 L76.55,109.37 L77.27,109.37 L77.98,109.37 L78.69,109.37 L79.41,109.37 L80.12,109.37 L80.83,109.37 L81.55,109.37 L82.26,109.37 L82.97,109.37 L83.69,109.37 L84.40,109.37 L85.11,109.37 L85.83,109.37 L86.54,109.37 L87.25,109.37 L87.97,109.37 L88.68,109.37 L89.39,109.37 L90.11,109.37 L90.82,109.37 L91.53,109.37 L92.25,109.37 L92.96,109.37 L93.67,109.37 L94.39,109.37 L95.10,109.37 L95.81,109.37 L96.53,109.37 L97.24,109.37 L97.95,109.37 L98.67,109.37 L99.38,109.37 L100.09,109.37 L100.81,109.37 L101.52,109.37 L102.23,109.37 L102.95,109.37 L103.66,109.37 L104.37,109.37 L105.09,109.37 L105.80,109.37 L106.51,109.37 L107.23,109.37 L107.94,109.37 L108.65,109.37 L109.37,109.37 L110.08,109.37 L110.79,109.37 L111.51,109.37 L112.22,109.37 L112.93,109.37 L113.65,109.37 L114.36,109.37 L115.07,109.37 L115.79,109.37 L116.50,109.37 L117.21,109.37 L117.93,109.37 L118.64,109.37 L119.35,109.37 L120.07,109.37 L120.78,109.37 L121.49,109.37 L122.21,109.37 L122.92,109.37 L123.63,109.37 L124.35,109.37 L125.06,109.37 L125.77,109.37 L126.49,109.37 L127.20,109.37 L127.91,109.37 L128.63,109.37 L129.34,109.37 L130.05,109.37 L130.77,109.37 L131.48,109.37 L132.19,109.37 L132.91,109.37 L133.62,109.37 L134.33,109.37 L135.05,109.37 L135.76,109.37 L136.47,109.37 L137.19,109.37 L137.90,109.37 L138.61,109.37 L139.33,109.37 L140.04,109.37 L140.75,109.37 L141.47,109.37 L142.18,109.37 L142.89,109.37 L143.61,109.37 L144.32,109.37 L145.03,109.37 L145.75,109.37 L146.46,109.37 L147.17,109.37 L147.89,109.37 L148.60,109.37 L149.31,109.37 L150.03,109.37 L150.74,109.37 L151.45,109.37 L152.17,109.37 L152.88,109.37 L153.59,109.37 L154.31,109.37 L155.02,109.37 L155.73,109.37 L156.45,109.37 L157.16,109.37 L157.87,109.37 L158.59,109.37 L159.30,109.37 L160.01,109.37 L160.73,109.37 L161.44,109.37 L162.15,109.37 L162.87,109.37 L163.58,109.37 L164.29,109.37 L165.01,109.37 L165.72,109.37 L166.43,109.37 L167.15,109.37 L167.86,109.37 L168.57,109.37 L169.29,109.37 L170.00,109.37 L170.71,109.37 L171.43,109.37 L172.14,109.36 L172.85,109.36 L173.57,109.35 L174.28,109.33 L174.99,109.31 L175.71,109.28 L176.42,109.24 L177.13,109.18 L177.85,109.10 L178.56,109.00 L179.27,108.86 L179.99,108.68 L180.70,108.45 L181.41,108.17 L182.13,107.83 L182.84,107.42 L183.55,106.95 L184.27,106.42 L184.98,105.83 L185.69,105.18 L186.41,104.48 L187.12,103.74 L187.83,102.98 L188.55,102.21 L189.26,101.44 L189.97,100.69 L190.69,99.96 L191.40,99.26 L192.11,98.61 L192.83,98.00 L193.54,97.44 L194.25,96.93 L194.97,96.47 L195.68,96.06 L196.39,95.69 L197.11,95.36 L197.82,95.07 L198.53,94.82 L199.25,94.59 L199.96,94.40 L200.67,94.23 L201.39,94.09 L202.10,93.98 L202.81,93.88 L203.53,93.80 L204.24,93.74 L204.95,93.69 L205.67,93.65 L206.38,93.62 L207.09,93.60 L207.81,93.59 L208.52,93.58 L209.23,93.57 L209.95,93.56 L210.66,93.56 L211.37,93.56 L212.09,93.55 L212.80,93.55 L213.51,93.55 L214.23,93.55 L214.94,93.55 L215.65,93.55 L216.37,93.55 L217.08,93.55 L217.79,93.55 L218.51,93.55 L219.22,93.55 L219.93,93.55 L220.65,93.55 L221.36,93.55 L222.07,93.55 L222.79,93.55 L223.50,93.55 L224.21,93.55 L224.93,93.55 L225.64,93.55 L226.35,93.55 L227.07,93.55 L227.78,93.55 L228.49,93.55 L229.21,93.55 L229.92,93.55 L230.63,93.55 L231.35,93.55 L232.06,93.55 L232.77,93.55 L233.49,93.55 L234.20,93.55 L234.91,93.55 L235.63,93.55 L236.34,93.55 L237.05,93.55 L237.77,93.55 L238.48,93.55 L239.19,93.55 L239.91,93.55 L240.62,93.55 L241.33,93.55 L242.05,93.55 L242.76,93.55 L243.47,93.55 L244.19,93.55 L244.90,93.55 L245.61,93.55 L246.33,93.55 L247.04,93.55 L247.75,93.55 L248.47,93.55 L249.18,93.55 L249.89,93.55 L250.61,93.55 L251.32,93.55 L252.03,93.55 L252.75,93.55 L253.46,93.55 L254.17,93.55 L254.89,93.55 L255.60,93.55 L256.31,93.55 L257.03,93.55 L257.74,93.55 L258.45,93.55 L259.17,93.55 L259.88,93.55 L260.59,93.55 L261.31,93.55 L262.02,93.55 L262.73,93.55 L263.45,93.55 L264.16,93.55 L264.87,93.55 L265.59,93.55 L266.30,93.55" stroke="#880088"/>
<path d="M52.30,98.68 L53.01,98.68 L53.73,98.68 L54.44,98.68 L55.15,98.68 L55.87,98.68 L56.58,98.68 L57.29,98.68 L58.01,98.68 L58.72,98.68 L59.43,98.68 L60.15,98.68 L60.86,98.68 L61.57,98.68 L62.29,98.68 L63.00,98.68 L63.71,98.68 L64.43,98.68 L65.14,98.68 L65.85,98.68 L66.57,98.68 L67.28,98.68 L67.99,98.68 L68.71,98.68 L69.42,98.68 L70.13,98.68 L70.85,98.68 L71.56,98.68 L72.27,98.68 L72.99,98.68 L73.70,98.68 L74.41,98.68 L75.13,98.68 L75.84,98.68 L76.55,98.68 L77.27,98.68 L77.98,98.68 L78.69,98.68 L79.41,98.68 L80.12,98.68 L80.83,98.68 L81.55,98.68 L82.26,98.68 L82.97,98.68 L83.69,98.68 L84.40,98.68 L85.11,98.68 L85.83,98.68 L86.54,98.68 L87.25,98.68 L87.97,98.68 L88.68,98.68 L89.39,98.68 L90.11,98.68 L90.82,98.68 L91.53,98.68 L92.25,98.68 L92.96,98.68 L93.67,98.68 L94.39,98.68 L95.10,98.68 L95.81,98.68 L96.53,98.68 L97.24,98.68 L97.95,98.68 L98.67,98.68 L99.38,98.68 L100.09,98.68 L100.81,98.68 L101.52,98.68 L102.23,98.68 L102.95,98.68 L103.66,98.68 L104.37,98.68 L105.09,98.68 L105.80,98.68 L106.51,98.68 L107.23,98.68 L107.94,98.68 L108.65,98.68 L109.37,98.68 L110.08,98.68 L110.79,98.68 L111.51,98.68 L112.22,98.68 L112.93,98.68 L113.65,98.68 L114.36,98.68 L115.07,98.68 L115.79,98.68 L116.50,98.68 L117.21,98.68 L117.93,98.68 L118.64,98.68 L119.35,98.68 L120.07,98.68 L120.78,98.68 L121.49,98.68 L122.21,98.68 L122.92,98.68 L123.63,98.68 L124.35,98.68 L125.06,98.68 L125.77,98.68 L126.49,98.68 L127.20,98.68 L127.91,98.68 L128.63,98.68 L129.34,98.68 L130.05,98.68 L130.77,98.68 L131.48,98.68 L132.19,98.68 L132.91,98.68 L133.62,98.68 L134.33,98.68 L135.05,98.68 L135.76,98.68 L136.47,98.68 L137.19,98.68 L137.90,98.68 L138.61,98.68 L139.33,98.68 L140.04,98.68 L140.75,98.68 L141.47,98.68 L142.18,98.68 L142.89,98.68 L143.61,98.68 L144.32,98.68 L145.03,98.68 L145.75,98.68 L146.46,98.68 L147.17,98.68 L147.89,98.68 L148.60,98.68 L149.31,98.68 L150.03,98.68 L150.74,98.68 L151.45,98.68 L152.17,98.68 L152.88,98.68 L153.59,98.68 L154.31,98.68 L155.02,98.68 L155.73,98.67 L156.45,98.67 L157.16,98.67 L157.87,98.66 L158.59,98.65 L159.30,98.64 L160.01,98.62 L160.73,98.60 L161.44,98.58 L162.15,98.54 L162.87,98.50 L163.58,98.45 L164.29,98.38 L165.01,98.30 L165.72,98.20 L166.43,98.07 L167.15,97.93 L167.86,97.75 L168.57,97.55 L169.29,97.31 L170.00,97.04 L170.71,96.73 L171.43,96.37 L172.14,95.98 L172.85,95.54 L173.57,95.06 L174.28,94.54 L174.99,93.98 L175.71,93.38 L176.42,92.75 L177.13,92.09 L177.85,91.40 L178.56,90.70 L179.27,89.98 L179.99,89.27 L180.70,88.55 L181.41,87.85 L182.13,87.16 L182.84,86.49 L183.55,85.85 L184.27,85.25 L184.98,84.68 L185.69,84.15 L186.41,83.66 L187.12,83.21 L187.83,82.81 L188.55,82.45 L189.26,82.13 L189.97,81.85 L190.69,81.61 L191.40,81.40 L192.11,81.22 L192.83,81.07 L193.54,80.94 L194.25,80.83 L194.97,80.75 L195.68,80.68 L196.39,80.62 L197.11,80.58 L197.82,80.54 L198.53,80.52 L199.25,80.49 L199.96,80.48 L200.67,80.46 L201.39,80.45 L202.10,80.45 L202.81,80.44 L203.53,80.43 L204.24,80.43 L204.95,80.42 L205.67,80.41 L206.38,80.40 L207.09,80.39 L207.81,80.37 L208.52,80.35 L209.23,80.33 L209.95,80.30 L210.66,80.26 L211.37,80.23 L212.09,80.18 L212.80,80.14 L213.51,80.09 L214.23,80.04 L214.94,79.98 L215.65,79.93 L216.37,79.88 L217.08,79.82 L217.79,79.77 L218.51,79.73 L219.22,79.69 L219.93,79.65 L220.65,79.62 L221.36,79.59 L222.07,79.57 L222.79,79.55 L223.50,79.53 L224.21,79.52 L224.93,79.51 L225.64,79.50 L226.35,79.50 L227.07,79.50 L227.78,79.49 L228.49,79.49 L229.21,79.49 L229.92,79.49 L230.63,79.49 L231.35,79.49 L232.06,79.49 L232.77,79.49 L233.49,79.49 L234.20,79.49 L234.91,79.49 L235.63,79.49 L236.34,79.49 L237.05,79.49 L237.77,79.49 L238.48,79.49 L239.19,79.49 L239.91,79.49 L240.62,79.49 L241.33,79.49 L242.05,79.49 L242.76,79.49 L243.47,79.49 L244.19,79.49 L244.90,79.49 L245.61,79.49 L246.33,79.49 L247.04,79.49 L247.75,79.49 L248.47,79.49 L249.18,79.49 L249.89,79.49 L250.61,79.49 L251.32,79.49 L252.03,79.49 L252.75,79.49 L253.46,79.49 L254.17,79.49 L254.89,79.49 L255.60,79.49 L256.31,79.49 L257.03,79.49 L257.74,79.49 L258.45,79.49 L259.17,79.49 L259.88,79.49 L260.59,79.49 L261.31,79.49 L262.02,79.49 L262.73,79.49 L263.45,79.49 L264.16,79.49 L264.87,79.49 L265.59,79.49 L266.30,79.49" stroke="#8b1a1a"/>
<path d="M52.30,106.68 L53.01,106.68 L53.73,106.68 L54.44,106.68 L55.15,106.68 L55.87,106.68 L56.58,106.68 L57.29,106.68 L58.01,106.68 L58.72,106.68 L59.43,106.68 L60.15,106.68 L60.86,106.68 L61.57,106.68 L62.29,106.68 L63.00,106.68 L63.71,106.68 L64.43,106.68 L65.14,106.68 L65.85,106.68 L66.57,106.68 L67.28,106.68 L67.99,106.68 L68.71,106.68 L69.42,106.68 L70.13,106.68 L70.85,106.68 L71.56,106.68 L72.27,106.68 L72.99,106.68 L73.70,106.68 L74.41,106.68 L75.13,106.68 L75.84,106.68 L76.55,106.68 L77.27,106.68 L77.98,106.68 L78.69,106.68 L79.41,106.68 L80.12,106.68 L80.83,106.68 L81.55,106.68 L82.26,106.68 L82.97,106.68 L83.69,106.68 L84.40,106.68 L85.11,106.68 L85.83,106.68 L86.54,106.68 L87.25,106.68 L87.97,106.68 L88.68,106.68 L89.39,106.68 L90.11,106.68 L90.82,106.68 L91.53,106.68 L92.25,106.68 L92.96,106.68 L93.67,106.68 L94.39,106.68 L95.10,106.68 L95.81,106.68 L96.53,106.68 L97.24,106.68 L97.95,106.68 L98.67,106.68 L99.38,106.68 L100.09,106.68 L100.81,106.68 L101.52,106.68 L102.23,106.68 L102.95,106.68 L103.66,106.68 L104.37,106.68 L105.09,106.68 L105.80,106.68 L106.51,106.68 L107.23,106.68 L107.94,106.68 L108.65,106.68 L109.37,106.68 L110.08,106.68 L110.79,106.68 L111.51,106.68 L112.22,106.68 L112.93,106.68 L113.65,106.68 L114.36,106.68 L115.07,106.68 L115.79,106.68 L116.50,106.68 L117.21,106.68 L117.93,106.68 L118.64,106.67 L119.35,106.67 L120.07,106.67 L120.78,106.67 L121.49,106.67 L122.21,106.67 L122.92,106.67 L123.63,106.67 L124.35,106.67 L125.06,106.67 L125.77,106.67 L126.49,106.66 L127.20,106.66 L127.91,106.66 L128.63,106.66 L129.34,106.66 L130.05,106.65 L130.77,106.65 L131.48,106.65 L132.19,106.64 L132.91,106.64 L133.62,106.63 L134.33,106.63 L135.05,106.62 L135.76,106.62 L136.47,106.61 L137.19,106.60 L137.90,106.59 L138.61,106.58 L139.33,106.57 L140.04,106.56 L140.75,106.55 L141.47,106.54 L142.18,106.52 L142.89,106.50 L143.61,106.49 L144.32,106.47 L145.03,106.45 L145.75,106.43 L146.46,106.40 L147.17,106.38 L147.89,106.35 L148.60,106.32 L149.31,106.29 L150.03,106.25 L150.74,106.21 L151.45,106.17 L152.17,106.13 L152.88,106.08 L153.59,106.03 L154.31,105.98 L155.02,105.92 L155.73,105.86 L156.45,105.79 L157.16,105.72 L157.87,105.65 L158.59,105.57 L159.30,105.48 L160.01,105.39 L160.73,105.29 L161.44,105.19 L162.15,105.07 L162.87,104.95 L163.58,104.83 L164.29,104.69 L165.01,104.55 L165.72,104.39 L166.43,104.23 L167.15,104.05 L167.86,103.87 L168.57,103.68 L169.29,103.47 L170.00,103.25 L170.71,103.02 L171.43,102.78 L172.14,102.53 L172.85,102.26 L173.57,101.98 L174.28,101.69 L174.99,101.39 L175.71,101.08 L176.42,100.76 L177.13,100.42 L177.85,100.08 L178.56,99.73 L179.27,99.37 L179.99,99.00 L180.70,98.63 L181.41,98.25 L182.13,97.87 L182.84,97.49 L183.55,97.10 L184.27,96.71 L184.98,96.33 L185.69,95.94 L186.41,95.56 L187.12,95.19 L187.83,94.82 L188.55,94.45 L189.26,94.09 L189.97,93.74 L190.69,93.40 L191.40,93.07 L192.11,92.75 L192.83,92.43 L193.54,92.13 L194.25,91.84 L194.97,91.56 L195.68,91.29 L196.39,91.03 L197.11,90.78 L197.82,90.54 L198.53,90.31 L199.25,90.09 L199.96,89.88 L200.67,89.68 L201.39,89.49 L202.10,89.30 L202.81,89.13 L203.53,88.96 L204.24,88.81 L204.95,88.66 L205.67,88.51 L206.38,88.38 L207.09,88.25 L207.81,88.12 L208.52,88.00 L209.23,87.89 L209.95,87.79 L210.66,87.69 L211.37,87.59 L212.09,87.50 L212.80,87.41 L213.51,87.33 L214.23,87.26 L214.94,87.18 L215.65,87.12 L216.37,87.05 L217.08,86.99 L217.79,86.93 L218.51,86.88 L219.22,86.83 L219.93,86.78 L220.65,86.74 L221.36,86.69 L222.07,86.65 L222.79,86.62 L223.50,86.58 L224.21,86.55 L224.93,86.52 L225.64,86.50 L226.35,86.47 L227.07,86.45 L227.78,86.43 L228.49,86.41 L229.21,86.39 L229.92,86.37 L230.63,86.35 L231.35,86.34 L232.06,86.33 L232.77,86.31 L233.49,86.30 L234.20,86.29 L234.91,86.28 L235.63,86.28 L236.34,86.27 L237.05,86.26 L237.77,86.25 L238.48,86.25 L239.19,86.24 L239.91,86.24 L240.62,86.23 L241.33,86.23 L242.05,86.23 L242.76,86.22 L243.47,86.22 L244.19,86.22 L244.90,86.22 L245.61,86.21 L246.33,86.21 L247.04,86.21 L247.75,86.21 L248.47,86.21 L249.18,86.21 L249.89,86.21 L250.61,86.21 L251.32,86.21 L252.03,86.20 L252.75,86.20 L253.46,86.20 L254.17,86.20 L254.89,86.20 L255.60,86.20 L256.31,86.20 L257.03,86.20 L257.74,86.20 L258.45,86.20 L259.17,86.20 L259.88,86.20 L260.59,86.20 L261.31,86.20 L262.02,86.20 L262.73,86.20 L263.45,86.20 L264.16,86.20 L264.87,86.20 L265.59,86.20 L266.30,86.20" stroke="#999933"/>
<path d="M52.30,95.16 L53.01,95.16 L53.73,95.16 L54.44,95.16 L55.15,95.16 L55.87,95.16 L56.58,95.16 L57.29,95.16 L58.01,95.16 L58.72,95.16 L59.43,95.16 L60.15,95.16 L60.86,95.16 L61.57,95.16 L62.29,95.16 L63.00,95.16 L63.71,95.16 L64.43,95.16 L65.14,95.16 L65.85,95.16 L66.57,95.16 L67.28,95.16 L67.99,95.16 L68.71,95.16 L69.42,95.16 L70.13,95.16 L70.85,95.16 L71.56,95.16 L72.27,95.16 L72.99,95.16 L73.70,95.16 L74.41,95.16 L75.13,95.16 L75.84,95.16 L76.55,95.16 L77.27,95.16 L77.98,95.16 L78.69,95.16 L79.41,95.16 L80.12,95.16 L80.83,95.16 L81.55,95.16 L82.26,95.16 L82.97,95.16 L83.69,95.16 L84.40,95.16 L85.11,95.16 L85.83,95.16 L86.54,95.16 L87.25,95.16 L87.97,95.16 L88.68,95.16 L89.39,95.16 L90.11,95.16 L90.82,95.16 L91.53,95.16 L92.25,95.16 L92.96,95.16 L93.67,95.16 L94.39,95.16 L95.10,95.16 L95.81,95.16 L96.53,95.16 L97.24,95.16 L97.95,95.16 L98.67,95.16 L99.38,95.16 L100.09,95.16 L100.81,95.16 L101.52,95.16 L102.23,95.16 L102.95,95.16 L103.66,95.16 L104.37,95.16 L105.09,95.16 L105.80,95.16 L106.51,95.16 L107.23,95.16 L107.94,95.16 L108.65,95.16 L109.37,95.16 L110.08,95.16 L110.79,95.16 L111.51,95.16 L112.22,95.16 L112.93,95.16 L113.65,95.16 L114.36,95.16 L115.07,95.16 L115.79,95.16 L116.50,95.16 L117.21,95.16 L117.93,95.16 L118.64,95.16 L119.35,95.16 L120.07,95.16 L120.78,95.16 L121.49,95.16 L122.21,95.16 L122.92,95.16 L123.63,95.16 L124.35,95.16 L125.06,95.16 L125.77,95.16 L126.49,95.16 L127.20,95.16 L127.91,95.16 L128.63,95.16 L129.34,95.16 L130.05,95.16 L130.77,95.16 L131.48,95.16 L132.19,95.16 L132.91,95.15 L133.62,95.15 L134.33,95.15 L135.05,95.15 L135.76,95.15 L136.47,95.14 L137.19,95.14 L137.90,95.14 L138.61,95.13 L139.33,95.13 L140.04,95.12 L140.75,95.12 L141.47,95.11 L142.18,95.10 L142.89,95.09 L143.61,95.08 L144.32,95.07 L145.03,95.05 L145.75,95.03 L146.46,95.01 L147.17,94.99 L147.89,94.97 L148.60,94.94 L149.31,94.91 L150.03,94.88 L150.74,94.84 L151.45,94.79 L152.17,94.75 L152.88,94.70 L153.59,94.64 L154.31,94.57 L155.02,94.50 L155.73,94.43 L156.45,94.34 L157.16,94.25 L157.87,94.16 L158.59,94.05 L159.30,93.93 L160.01,93.81 L160.73,93.67 L161.44,93.53 L162.15,93.37 L162.87,93.21 L163.58,93.03 L164.29,92.85 L165.01,92.65 L165.72,92.44 L166.43,92.22 L167.15,91.99 L167.86,91.75 L168.57,91.49 L169.29,91.23 L170.00,90.95 L170.71,90.66 L171.43,90.37 L172.14,90.06 L172.85,89.74 L173.57,89.42 L174.28,89.08 L174.99,88.74 L175.71,88.39 L176.42,88.04 L177.13,87.68 L177.85,87.32 L178.56,86.95 L179.27,86.58 L179.99,86.21 L180.70,85.83 L181.41,85.46 L182.13,85.09 L182.84,84.72 L183.55,84.35 L184.27,83.99 L184.98,83.63 L185.69,83.28 L186.41,82.93 L187.12,82.59 L187.83,82.26 L188.55,81.93 L189.26,81.62 L189.97,81.31 L190.69,81.02 L191.40,80.73 L192.11,80.46 L192.83,80.20 L193.54,79.94 L194.25,79.70 L194.97,79.47 L195.68,79.26 L196.39,79.05 L197.11,78.85 L197.82,78.67 L198.53,78.49 L199.25,78.33 L199.96,78.18 L200.67,78.03 L201.39,77.90 L202.10,77.77 L202.81,77.64 L203.53,77.53 L204.24,77.41 L204.95,77.30 L205.67,77.19 L206.38,77.08 L207.09,76.97 L207.81,76.86 L208.52,76.74 L209.23,76.61 L209.95,76.48 L210.66,76.34 L211.37,76.19 L212.09,76.04 L212.80,75.89 L213.51,75.74 L214.23,75.59 L214.94,75.44 L215.65,75.30 L216.37,75.16 L217.08,75.04 L217.79,74.92 L218.51,74.82 L219.22,74.73 L219.93,74.66 L220.65,74.59 L221.36,74.54 L222.07,74.49 L222.79,74.46 L223.50,74.43 L224.21,74.41 L224.93,74.40 L225.64,74.38 L226.35,74.37 L227.07,74.37 L227.78,74.36 L228.49,74.36 L229.21,74.36 L229.92,74.35 L230.63,74.35 L231.35,74.35 L232.06,74.35 L232.77,74.35 L233.49,74.35 L234.20,74.35 L234.91,74.35 L235.63,74.35 L236.34,74.35 L237.05,74.35 L237.77,74.35 L238.48,74.35 L239.19,74.35 L239.91,74.35 L240.62,74.35 L241.33,74.35 L242.05,74.35 L242.76,74.35 L243.47,74.35 L244.19,74.35 L244.90,74.35 L245.61,74.35 L246.33,74.35 L247.04,74.35 L247.75,74.35 L248.47,74.35 L249.18,74.35 L249.89,74.35 L250.61,74.35 L251.32,74.35 L252.03,74.35 L252.75,74.35 L253.46,74.35 L254.17,74.35 L254.89,74.35 L255.60,74.35 L256.31,74.35 L257.03,74.35 L257.74,74.35 L258.45,74.35 L259.17,74.35 L259.88,74.35 L260.59,74.35 L261.31,74.35 L262.02,74.35 L262.73,74.35 L263.45,74.35 L264.16,74.35 L264.87,74.35 L265.59,74.35 L266.30,74.35" stroke="#6699cc"/>
</g>
<rect x="52.3" y="0.7" width="214.0" height="154.75" fill="none" stroke="#000" stroke-width="1.3"/>
<line x1="52.3" y1="7.0" x2="54.9" y2="7.0" stroke="#000" stroke-width="1.1"/>
<line x1="52.3" y1="71.7" x2="54.9" y2="71.7" stroke="#000" stroke-width="1.1"/>
<line x1="52.3" y1="136.25" x2="54.9" y2="136.25" stroke="#000" stroke-width="1.1"/>
<line x1="98.05" y1="155.45" x2="98.05" y2="152.64999999999998" stroke="#000" stroke-width="1.1"/>
<line x1="174.5" y1="155.45" x2="174.5" y2="152.64999999999998" stroke="#000" stroke-width="1.1"/>
<line x1="250.9" y1="155.45" x2="250.9" y2="152.64999999999998" stroke="#000" stroke-width="1.1"/>
<text x="58.4" y="11.8" font-size="13" text-anchor="start" >(a)</text>
<text x="49.099999999999994" y="11.5" font-size="16" text-anchor="end" >1</text>
<text x="49.099999999999994" y="76.2" font-size="16" text-anchor="end" >0</text>
<text x="49.099999999999994" y="140.75" font-size="16" text-anchor="end" >-1</text>
<text x="0" y="0" font-size="16.5" text-anchor="middle" transform="translate(22.9,78.3) rotate(-90)" >Surface potential (V)</text>
<line x1="167.5" y1="9.2" x2="188.7" y2="9.2" stroke="#000000" stroke-width="1.4"/>
<text x="190.5" y="12.299999999999999" font-size="9" text-anchor="start" >305 K</text>
<line x1="167.5" y1="20.4" x2="188.7" y2="20.4" stroke="#ff0000" stroke-width="1.4"/>
<text x="190.5" y="23.5" font-size="9" text-anchor="start" >315 K</text>
<line x1="167.5" y1="31.6" x2="188.7" y2="31.6" stroke="#0000ff" stroke-width="1.4"/>
<text x="190.5" y="34.7" font-size="9" text-anchor="start" >325 K</text>
<line x1="167.5" y1="42.9" x2="188.7" y2="42.9" stroke="#ff00ff" stroke-width="1.4"/>
<text x="190.5" y="46.0" font-size="9" text-anchor="start" >335 K</text>
<line x1="167.5" y1="54.1" x2="188.7" y2="54.1" stroke="#339933" stroke-width="1.4"/>
<text x="190.5" y="57.2" font-size="9" text-anchor="start" >345 K</text>
<line x1="167.5" y1="65.1" x2="188.7" y2="65.1" stroke="#33339a" stroke-width="1.4"/>
<text x="190.5" y="68.19999999999999" font-size="9" text-anchor="start" >355 K</text>
<line x1="214.8" y1="9.2" x2="235.8" y2="9.2" stroke="#9933ff" stroke-width="1.4"/>
<text x="237.8" y="12.299999999999999" font-size="9" text-anchor="start" >365 K</text>
<line x1="214.8" y1="20.4" x2="235.8" y2="20.4" stroke="#880088" stroke-width="1.4"/>
<text x="237.8" y="23.5" font-size="9" text-anchor="start" >375 K</text>
<line x1="214.8" y1="31.6" x2="235.8" y2="31.6" stroke="#8b1a1a" stroke-width="1.4"/>
<text x="237.8" y="34.7" font-size="9" text-anchor="start" >385 K</text>
<line x1="214.8" y1="42.9" x2="235.8" y2="42.9" stroke="#999933" stroke-width="1.4"/>
<text x="237.8" y="46.0" font-size="9" text-anchor="start" >395 K</text>
<line x1="214.8" y1="54.1" x2="235.8" y2="54.1" stroke="#6699cc" stroke-width="1.4"/>
<text x="237.8" y="57.2" font-size="9" text-anchor="start" >405 K</text>
<text x="0" y="0" font-size="13.7" transform="translate(75.0,145.9) scale(0.92,1)">WSe<tspan font-size="9.6" dy="5.2">2</tspan></text>
<text x="0" y="0" font-size="13.7" transform="translate(221.3,145.9) scale(0.92,1)">WS<tspan font-size="9.6" dy="5.2">2</tspan></text>
<rect x="430" y="0.7" width="14.8" height="154.75" fill="url(#hatch)" stroke="#999" stroke-width="0.7"/>
<line x1="328" y1="116.4" x2="505.75" y2="116.4" stroke="#9a9a9a" stroke-width="0.9" stroke-dasharray="1,1"/>
<line x1="347.7" y1="31.5" x2="347.7" y2="41.8" stroke="#000" stroke-width="1"/>
<line x1="345.09999999999997" y1="31.5" x2="350.3" y2="31.5" stroke="#000" stroke-width="1.1"/>
<line x1="345.09999999999997" y1="41.8" x2="350.3" y2="41.8" stroke="#000" stroke-width="1.1"/>
<circle cx="347.7" cy="36.6" r="3.3" fill="url(#ball)"/>
<line x1="361.4" y1="31.5" x2="361.4" y2="41.8" stroke="#000" stroke-width="1"/>
<line x1="358.79999999999995" y1="31.5" x2="364.0" y2="31.5" stroke="#000" stroke-width="1.1"/>
<line x1="358.79999999999995" y1="41.8" x2="364.0" y2="41.8" stroke="#000" stroke-width="1.1"/>
<circle cx="361.4" cy="36.4" r="3.3" fill="url(#ball)"/>
<line x1="375.2" y1="32.4" x2="375.2" y2="42.7" stroke="#000" stroke-width="1"/>
<line x1="372.59999999999997" y1="32.4" x2="377.8" y2="32.4" stroke="#000" stroke-width="1.1"/>
<line x1="372.59999999999997" y1="42.7" x2="377.8" y2="42.7" stroke="#000" stroke-width="1.1"/>
<circle cx="375.2" cy="37.5" r="3.3" fill="url(#ball)"/>
<line x1="388.9" y1="64.3" x2="388.9" y2="74.5" stroke="#000" stroke-width="1"/>
<line x1="386.29999999999995" y1="64.3" x2="391.5" y2="64.3" stroke="#000" stroke-width="1.1"/>
<line x1="386.29999999999995" y1="74.5" x2="391.5" y2="74.5" stroke="#000" stroke-width="1.1"/>
<circle cx="388.9" cy="69.4" r="3.3" fill="url(#ball)"/>
<line x1="402.5" y1="72.3" x2="402.5" y2="82.1" stroke="#000" stroke-width="1"/>
<line x1="399.9" y1="72.3" x2="405.1" y2="72.3" stroke="#000" stroke-width="1.1"/>
<line x1="399.9" y1="82.1" x2="405.1" y2="82.1" stroke="#000" stroke-width="1.1"/>
<circle cx="402.5" cy="77.1" r="3.3" fill="url(#ball)"/>
<line x1="416.2" y1="91.8" x2="416.2" y2="102" stroke="#000" stroke-width="1"/>
<line x1="413.59999999999997" y1="91.8" x2="418.8" y2="91.8" stroke="#000" stroke-width="1.1"/>
<line x1="413.59999999999997" y1="102" x2="418.8" y2="102" stroke="#000" stroke-width="1.1"/>
<circle cx="416.2" cy="96.5" r="3.3" fill="url(#ball)"/>
<line x1="430" y1="99.4" x2="430" y2="109.5" stroke="#000" stroke-width="1"/>
<line x1="427.4" y1="99.4" x2="432.6" y2="99.4" stroke="#000" stroke-width="1.1"/>
<line x1="427.4" y1="109.5" x2="432.6" y2="109.5" stroke="#000" stroke-width="1.1"/>
<circle cx="430" cy="104.2" r="3.3" fill="url(#ball)"/>
<line x1="443.9" y1="124.4" x2="443.9" y2="134" stroke="#000" stroke-width="1"/>
<line x1="441.29999999999995" y1="124.4" x2="446.5" y2="124.4" stroke="#000" stroke-width="1.1"/>
<line x1="441.29999999999995" y1="134" x2="446.5" y2="134" stroke="#000" stroke-width="1.1"/>
<circle cx="443.9" cy="129" r="3.3" fill="url(#ball)"/>
<line x1="457.6" y1="127" x2="457.6" y2="136.9" stroke="#000" stroke-width="1"/>
<line x1="455.0" y1="127" x2="460.20000000000005" y2="127" stroke="#000" stroke-width="1.1"/>
<line x1="455.0" y1="136.9" x2="460.20000000000005" y2="136.9" stroke="#000" stroke-width="1.1"/>
<circle cx="457.6" cy="131.6" r="3.3" fill="url(#ball)"/>
<line x1="471.4" y1="128.1" x2="471.4" y2="138" stroke="#000" stroke-width="1"/>
<line x1="468.79999999999995" y1="128.1" x2="474.0" y2="128.1" stroke="#000" stroke-width="1.1"/>
<line x1="468.79999999999995" y1="138" x2="474.0" y2="138" stroke="#000" stroke-width="1.1"/>
<circle cx="471.4" cy="132.9" r="3.3" fill="url(#ball)"/>
<line x1="485.1" y1="128.4" x2="485.1" y2="138.3" stroke="#000" stroke-width="1"/>
<line x1="482.5" y1="128.4" x2="487.70000000000005" y2="128.4" stroke="#000" stroke-width="1.1"/>
<line x1="482.5" y1="138.3" x2="487.70000000000005" y2="138.3" stroke="#000" stroke-width="1.1"/>
<circle cx="485.1" cy="133.3" r="3.3" fill="url(#ball)"/>
<rect x="327.2" y="0.7" width="178.55" height="154.75" fill="none" stroke="#000" stroke-width="1.3"/>
<line x1="327.2" y1="13.4" x2="329.8" y2="13.4" stroke="#000" stroke-width="1.1"/>
<line x1="327.2" y1="65.25" x2="329.8" y2="65.25" stroke="#000" stroke-width="1.1"/>
<line x1="327.2" y1="116.9" x2="329.8" y2="116.9" stroke="#000" stroke-width="1.1"/>
<line x1="368.4" y1="155.45" x2="368.4" y2="152.64999999999998" stroke="#000" stroke-width="1.1"/>
<line x1="423.3" y1="155.45" x2="423.3" y2="152.64999999999998" stroke="#000" stroke-width="1.1"/>
<line x1="478.2" y1="155.45" x2="478.2" y2="152.64999999999998" stroke="#000" stroke-width="1.1"/>
<text x="333.6" y="12.4" font-size="13" text-anchor="start" >(b)</text>
<text x="324.0" y="17.8" font-size="16" text-anchor="end" >2</text>
<text x="324.0" y="69.65" font-size="16" text-anchor="end" >1</text>
<text x="324.0" y="121.30000000000001" font-size="16" text-anchor="end" >0</text>
<text x="0" y="0" font-size="16.4" text-anchor="middle" transform="translate(296.2,78.4) rotate(-90)" >Contact Barrier (V)</text>
<text x="454.8" y="68.3" font-size="13.4" text-anchor="start" >Ohmic</text>
<text x="454.8" y="84.7" font-size="13.4" text-anchor="start" >Contact</text>
<line x1="458.8" y1="88.3" x2="442.55" y2="108.15" stroke="#000" stroke-width="1.2"/>
<path d="M437.10,114.80 L440.82,103.63 L442.55,108.15 L447.32,108.95 Z" fill="#000"/>
<line x1="532.1" y1="38.8" x2="532.1" y2="47.2" stroke="#0000ff" stroke-width="0.9"/>
<line x1="530.5" y1="38.8" x2="533.7" y2="38.8" stroke="#0000ff" stroke-width="0.9"/>
<line x1="530.5" y1="47.2" x2="533.7" y2="47.2" stroke="#0000ff" stroke-width="0.9"/>
<circle cx="532.1" cy="43" r="2.8" fill="#0000ff"/>
<line x1="545.6" y1="32.0" x2="545.6" y2="40.400000000000006" stroke="#0000ff" stroke-width="0.9"/>
<line x1="544.0" y1="32.0" x2="547.2" y2="32.0" stroke="#0000ff" stroke-width="0.9"/>
<line x1="544.0" y1="40.400000000000006" x2="547.2" y2="40.400000000000006" stroke="#0000ff" stroke-width="0.9"/>
<circle cx="545.6" cy="36.2" r="2.8" fill="#0000ff"/>
<line x1="559.4" y1="46.699999999999996" x2="559.4" y2="55.1" stroke="#0000ff" stroke-width="0.9"/>
<line x1="557.8" y1="46.699999999999996" x2="561.0" y2="46.699999999999996" stroke="#0000ff" stroke-width="0.9"/>
<line x1="557.8" y1="55.1" x2="561.0" y2="55.1" stroke="#0000ff" stroke-width="0.9"/>
<circle cx="559.4" cy="50.9" r="2.8" fill="#0000ff"/>
<line x1="573.1" y1="51.4" x2="573.1" y2="59.800000000000004" stroke="#0000ff" stroke-width="0.9"/>
<line x1="571.5" y1="51.4" x2="574.7" y2="51.4" stroke="#0000ff" stroke-width="0.9"/>
<line x1="571.5" y1="59.800000000000004" x2="574.7" y2="59.800000000000004" stroke="#0000ff" stroke-width="0.9"/>
<circle cx="573.1" cy="55.6" r="2.8" fill="#0000ff"/>
<line x1="586.8" y1="62.39999999999999" x2="586.8" y2="70.8" stroke="#0000ff" stroke-width="0.9"/>
<line x1="585.1999999999999" y1="62.39999999999999" x2="588.4" y2="62.39999999999999" stroke="#0000ff" stroke-width="0.9"/>
<line x1="585.1999999999999" y1="70.8" x2="588.4" y2="70.8" stroke="#0000ff" stroke-width="0.9"/>
<circle cx="586.8" cy="66.6" r="2.8" fill="#0000ff"/>
<line x1="600.6" y1="58.099999999999994" x2="600.6" y2="66.5" stroke="#0000ff" stroke-width="0.9"/>
<line x1="599.0" y1="58.099999999999994" x2="602.2" y2="58.099999999999994" stroke="#0000ff" stroke-width="0.9"/>
<line x1="599.0" y1="66.5" x2="602.2" y2="66.5" stroke="#0000ff" stroke-width="0.9"/>
<circle cx="600.6" cy="62.3" r="2.8" fill="#0000ff"/>
<line x1="614.2" y1="44.4" x2="614.2" y2="52.800000000000004" stroke="#0000ff" stroke-width="0.9"/>
<line x1="612.6" y1="44.4" x2="615.8000000000001" y2="44.4" stroke="#0000ff" stroke-width="0.9"/>
<line x1="612.6" y1="52.800000000000004" x2="615.8000000000001" y2="52.800000000000004" stroke="#0000ff" stroke-width="0.9"/>
<circle cx="614.2" cy="48.6" r="2.8" fill="#0000ff"/>
<line x1="628.2" y1="62.599999999999994" x2="628.2" y2="71.0" stroke="#0000ff" stroke-width="0.9"/>
<line x1="626.6" y1="62.599999999999994" x2="629.8000000000001" y2="62.599999999999994" stroke="#0000ff" stroke-width="0.9"/>
<line x1="626.6" y1="71.0" x2="629.8000000000001" y2="71.0" stroke="#0000ff" stroke-width="0.9"/>
<circle cx="628.2" cy="66.8" r="2.8" fill="#0000ff"/>
<line x1="641.9" y1="74.2" x2="641.9" y2="82.60000000000001" stroke="#0000ff" stroke-width="0.9"/>
<line x1="640.3" y1="74.2" x2="643.5" y2="74.2" stroke="#0000ff" stroke-width="0.9"/>
<line x1="640.3" y1="82.60000000000001" x2="643.5" y2="82.60000000000001" stroke="#0000ff" stroke-width="0.9"/>
<circle cx="641.9" cy="78.4" r="2.8" fill="#0000ff"/>
<line x1="655.6" y1="67.39999999999999" x2="655.6" y2="75.8" stroke="#0000ff" stroke-width="0.9"/>
<line x1="654.0" y1="67.39999999999999" x2="657.2" y2="67.39999999999999" stroke="#0000ff" stroke-width="0.9"/>
<line x1="654.0" y1="75.8" x2="657.2" y2="75.8" stroke="#0000ff" stroke-width="0.9"/>
<circle cx="655.6" cy="71.6" r="2.8" fill="#0000ff"/>
<line x1="669.3" y1="78.3" x2="669.3" y2="86.7" stroke="#0000ff" stroke-width="0.9"/>
<line x1="667.6999999999999" y1="78.3" x2="670.9" y2="78.3" stroke="#0000ff" stroke-width="0.9"/>
<line x1="667.6999999999999" y1="86.7" x2="670.9" y2="86.7" stroke="#0000ff" stroke-width="0.9"/>
<circle cx="669.3" cy="82.5" r="2.8" fill="#0000ff"/>
<line x1="532.1" y1="127.39999999999999" x2="532.1" y2="135.79999999999998" stroke="#ff0000" stroke-width="0.9"/>
<line x1="530.5" y1="127.39999999999999" x2="533.7" y2="127.39999999999999" stroke="#ff0000" stroke-width="0.9"/>
<line x1="530.5" y1="135.79999999999998" x2="533.7" y2="135.79999999999998" stroke="#ff0000" stroke-width="0.9"/>
<circle cx="532.1" cy="131.6" r="2.8" fill="#ff0000"/>
<line x1="545.6" y1="118.3" x2="545.6" y2="126.7" stroke="#ff0000" stroke-width="0.9"/>
<line x1="544.0" y1="118.3" x2="547.2" y2="118.3" stroke="#ff0000" stroke-width="0.9"/>
<line x1="544.0" y1="126.7" x2="547.2" y2="126.7" stroke="#ff0000" stroke-width="0.9"/>
<circle cx="545.6" cy="122.5" r="2.8" fill="#ff0000"/>
<line x1="559.4" y1="118.6" x2="559.4" y2="127.0" stroke="#ff0000" stroke-width="0.9"/>
<line x1="557.8" y1="118.6" x2="561.0" y2="118.6" stroke="#ff0000" stroke-width="0.9"/>
<line x1="557.8" y1="127.0" x2="561.0" y2="127.0" stroke="#ff0000" stroke-width="0.9"/>
<circle cx="559.4" cy="122.8" r="2.8" fill="#ff0000"/>
<line x1="573.2" y1="100.8" x2="573.2" y2="109.2" stroke="#ff0000" stroke-width="0.9"/>
<line x1="571.6" y1="100.8" x2="574.8000000000001" y2="100.8" stroke="#ff0000" stroke-width="0.9"/>
<line x1="571.6" y1="109.2" x2="574.8000000000001" y2="109.2" stroke="#ff0000" stroke-width="0.9"/>
<circle cx="573.2" cy="105" r="2.8" fill="#ff0000"/>
<line x1="587" y1="102.89999999999999" x2="587" y2="111.3" stroke="#ff0000" stroke-width="0.9"/>
<line x1="585.4" y1="102.89999999999999" x2="588.6" y2="102.89999999999999" stroke="#ff0000" stroke-width="0.9"/>
<line x1="585.4" y1="111.3" x2="588.6" y2="111.3" stroke="#ff0000" stroke-width="0.9"/>
<circle cx="587" cy="107.1" r="2.8" fill="#ff0000"/>
<line x1="600.6" y1="77.0" x2="600.6" y2="85.4" stroke="#ff0000" stroke-width="0.9"/>
<line x1="599.0" y1="77.0" x2="602.2" y2="77.0" stroke="#ff0000" stroke-width="0.9"/>
<line x1="599.0" y1="85.4" x2="602.2" y2="85.4" stroke="#ff0000" stroke-width="0.9"/>
<circle cx="600.6" cy="81.2" r="2.8" fill="#ff0000"/>
<line x1="614.3" y1="55.699999999999996" x2="614.3" y2="64.1" stroke="#ff0000" stroke-width="0.9"/>
<line x1="612.6999999999999" y1="55.699999999999996" x2="615.9" y2="55.699999999999996" stroke="#ff0000" stroke-width="0.9"/>
<line x1="612.6999999999999" y1="64.1" x2="615.9" y2="64.1" stroke="#ff0000" stroke-width="0.9"/>
<circle cx="614.3" cy="59.9" r="2.8" fill="#ff0000"/>
<line x1="628.3" y1="49.3" x2="628.3" y2="57.7" stroke="#ff0000" stroke-width="0.9"/>
<line x1="626.6999999999999" y1="49.3" x2="629.9" y2="49.3" stroke="#ff0000" stroke-width="0.9"/>
<line x1="626.6999999999999" y1="57.7" x2="629.9" y2="57.7" stroke="#ff0000" stroke-width="0.9"/>
<circle cx="628.3" cy="53.5" r="2.8" fill="#ff0000"/>
<line x1="641.9" y1="56.599999999999994" x2="641.9" y2="65.0" stroke="#ff0000" stroke-width="0.9"/>
<line x1="640.3" y1="56.599999999999994" x2="643.5" y2="56.599999999999994" stroke="#ff0000" stroke-width="0.9"/>
<line x1="640.3" y1="65.0" x2="643.5" y2="65.0" stroke="#ff0000" stroke-width="0.9"/>
<circle cx="641.9" cy="60.8" r="2.8" fill="#ff0000"/>
<line x1="655.6" y1="50.0" x2="655.6" y2="58.400000000000006" stroke="#ff0000" stroke-width="0.9"/>
<line x1="654.0" y1="50.0" x2="657.2" y2="50.0" stroke="#ff0000" stroke-width="0.9"/>
<line x1="654.0" y1="58.400000000000006" x2="657.2" y2="58.400000000000006" stroke="#ff0000" stroke-width="0.9"/>
<circle cx="655.6" cy="54.2" r="2.8" fill="#ff0000"/>
<line x1="669.3" y1="60.8" x2="669.3" y2="69.2" stroke="#ff0000" stroke-width="0.9"/>
<line x1="667.6999999999999" y1="60.8" x2="670.9" y2="60.8" stroke="#ff0000" stroke-width="0.9"/>
<line x1="667.6999999999999" y1="69.2" x2="670.9" y2="69.2" stroke="#ff0000" stroke-width="0.9"/>
<circle cx="669.3" cy="65" r="2.8" fill="#ff0000"/>
<line x1="520.3" y1="143.2" x2="667.03" y2="46.39" stroke="#ff0000" stroke-width="2.2"/>
<path d="M680.80,37.30 L665.88,54.09 L667.03,46.39 L659.49,44.41 Z" fill="#ff0000"/>
<line x1="520.5" y1="25.2" x2="665.43" y2="81.80" stroke="#0000ff" stroke-width="2.2"/>
<path d="M680.80,87.80 L658.48,85.31 L665.43,81.80 L662.70,74.50 Z" fill="#0000ff"/>
<rect x="511.65" y="0.7" width="178.64999999999998" height="154.75" fill="none" stroke="#000" stroke-width="1.3"/>
<line x1="690.3" y1="56.1" x2="687.6999999999999" y2="56.1" stroke="#000" stroke-width="1.1"/>
<line x1="690.3" y1="111.3" x2="687.6999999999999" y2="111.3" stroke="#000" stroke-width="1.1"/>
<line x1="552.5" y1="155.45" x2="552.5" y2="152.64999999999998" stroke="#000" stroke-width="1.1"/>
<line x1="607.5" y1="155.45" x2="607.5" y2="152.64999999999998" stroke="#000" stroke-width="1.1"/>
<line x1="662.6" y1="155.45" x2="662.6" y2="152.64999999999998" stroke="#000" stroke-width="1.1"/>
<text x="514.6" y="11.6" font-size="13" text-anchor="start" >(c)</text>
<text x="693.0999999999999" y="60.300000000000004" font-size="16" text-anchor="start" >5</text>
<text x="693.0999999999999" y="115.5" font-size="16" text-anchor="start" >4</text>
<text x="0" y="0" font-size="16.4" text-anchor="middle" transform="translate(720.6,79.1) rotate(-90)" >Workfunction (eV)</text>
<circle cx="633.4" cy="120.1" r="2.7" fill="#ff0000"/>
<circle cx="633.4" cy="140.0" r="2.7" fill="#0000ff"/>
<text x="0" y="0" font-size="13.4" transform="translate(652.8,124) scale(0.92,1)">WSe<tspan font-size="8.6" dy="5.3">2</tspan></text>
<text x="0" y="0" font-size="13.4" transform="translate(652.8,143.9) scale(0.92,1)">WS<tspan font-size="8.6" dy="5.3">2</tspan></text>
<clipPath id="cd"><rect x="52.3" y="161.8" width="214.0" height="154.39999999999998"/></clipPath>
<g clip-path="url(#cd)" fill="none" stroke-width="1.5">
<path d="M52.30,273.54 L52.83,273.54 L53.37,273.54 L53.90,273.53 L54.44,273.53 L54.97,273.53 L55.51,273.52 L56.04,273.52 L56.58,273.52 L57.11,273.51 L57.65,273.51 L58.18,273.50 L58.72,273.50 L59.25,273.49 L59.79,273.49 L60.32,273.48 L60.86,273.48 L61.39,273.47 L61.93,273.47 L62.46,273.46 L63.00,273.46 L63.53,273.45 L64.07,273.44 L64.60,273.43 L65.14,273.43 L65.67,273.42 L66.21,273.41 L66.75,273.40 L67.28,273.39 L67.81,273.38 L68.35,273.37 L68.88,273.36 L69.42,273.35 L69.95,273.34 L70.49,273.33 L71.03,273.32 L71.56,273.31 L72.09,273.29 L72.63,273.28 L73.16,273.26 L73.70,273.25 L74.23,273.23 L74.77,273.22 L75.30,273.20 L75.84,273.18 L76.38,273.16 L76.91,273.14 L77.44,273.12 L77.98,273.10 L78.52,273.07 L79.05,273.05 L79.58,273.03 L80.12,273.00 L80.66,272.97 L81.19,272.94 L81.72,272.91 L82.26,272.88 L82.80,272.85 L83.33,272.82 L83.86,272.78 L84.40,272.74 L84.94,272.70 L85.47,272.66 L86.00,272.62 L86.54,272.58 L87.07,272.53 L87.61,272.48 L88.14,272.43 L88.68,272.38 L89.22,272.32 L89.75,272.27 L90.28,272.21 L90.82,272.14 L91.35,272.08 L91.89,272.01 L92.42,271.94 L92.96,271.86 L93.50,271.78 L94.03,271.70 L94.56,271.62 L95.10,271.53 L95.63,271.43 L96.17,271.34 L96.70,271.23 L97.24,271.13 L97.78,271.02 L98.31,270.90 L98.84,270.78 L99.38,270.65 L99.91,270.52 L100.45,270.38 L100.98,270.24 L101.52,270.09 L102.06,269.93 L102.59,269.77 L103.12,269.60 L103.66,269.42 L104.19,269.23 L104.73,269.04 L105.27,268.84 L105.80,268.63 L106.33,268.41 L106.87,268.18 L107.41,267.94 L107.94,267.69 L108.47,267.43 L109.01,267.16 L109.54,266.88 L110.08,266.58 L110.61,266.28 L111.15,265.96 L111.69,265.63 L112.22,265.28 L112.75,264.92 L113.29,264.55 L113.82,264.16 L114.36,263.75 L114.89,263.33 L115.43,262.89 L115.97,262.44 L116.50,261.96 L117.03,261.47 L117.57,260.96 L118.11,260.43 L118.64,259.88 L119.17,259.31 L119.71,258.71 L120.24,258.10 L120.78,257.46 L121.31,256.80 L121.85,256.11 L122.38,255.40 L122.92,254.67 L123.45,253.91 L123.99,253.13 L124.52,252.32 L125.06,251.48 L125.59,250.61 L126.13,249.72 L126.66,248.80 L127.20,247.85 L127.73,246.88 L128.27,245.87 L128.81,244.84 L129.34,243.77 L129.88,242.68 L130.41,241.56 L130.94,240.41 L131.48,239.23 L132.01,238.03 L132.55,236.80 L133.08,235.54 L133.62,234.26 L134.16,232.95 L134.69,231.61 L135.22,230.26 L135.76,228.88 L136.30,227.48 L136.83,226.06 L137.37,224.63 L137.90,223.18 L138.44,221.72 L138.97,220.25 L139.50,218.77 L140.04,217.28 L140.57,215.79 L141.11,214.30 L141.64,212.82 L142.18,211.34 L142.72,209.87 L143.25,208.41 L143.78,206.97 L144.32,205.55 L144.86,204.15 L145.39,202.78 L145.93,201.44 L146.46,200.14 L147.00,198.87 L147.53,197.65 L148.06,196.48 L148.60,195.36 L149.13,194.29 L149.67,193.28 L150.20,192.34 L150.74,191.45 L151.27,190.64 L151.81,189.90 L152.34,189.23 L152.88,188.64 L153.41,188.13 L153.95,187.70 L154.49,187.35 L155.02,187.09 L155.56,186.91 L156.09,186.81 L156.62,186.81 L157.16,186.89 L157.69,187.06 L158.23,187.32 L158.76,187.67 L159.30,188.11 L159.83,188.63 L160.37,189.23 L160.91,189.91 L161.44,190.67 L161.97,191.51 L162.51,192.41 L163.05,193.39 L163.58,194.42 L164.12,195.52 L164.65,196.68 L165.19,197.88 L165.72,199.14 L166.25,200.44 L166.79,201.78 L167.32,203.15 L167.86,204.56 L168.39,206.00 L168.93,207.46 L169.47,208.93 L170.00,210.43 L170.53,211.93 L171.07,213.45 L171.61,214.97 L172.14,216.49 L172.68,218.01 L173.21,219.52 L173.75,221.03 L174.28,222.53 L174.81,224.01 L175.35,225.48 L175.88,226.94 L176.42,228.37 L176.95,229.79 L177.49,231.18 L178.02,232.55 L178.56,233.89 L179.09,235.21 L179.63,236.50 L180.16,237.77 L180.70,239.00 L181.24,240.21 L181.77,241.39 L182.31,242.54 L182.84,243.66 L183.38,244.74 L183.91,245.80 L184.44,246.83 L184.98,247.83 L185.51,248.80 L186.05,249.74 L186.58,250.65 L187.12,251.53 L187.65,252.39 L188.19,253.21 L188.73,254.01 L189.26,254.78 L189.80,255.53 L190.33,256.25 L190.87,256.94 L191.40,257.61 L191.94,258.26 L192.47,258.88 L193.00,259.48 L193.54,260.05 L194.07,260.61 L194.61,261.15 L195.14,261.66 L195.68,262.16 L196.21,262.63 L196.75,263.09 L197.29,263.53 L197.82,263.95 L198.36,264.36 L198.89,264.75 L199.43,265.12 L199.96,265.48 L200.50,265.83 L201.03,266.16 L201.56,266.47 L202.10,266.78 L202.63,267.07 L203.17,267.35 L203.70,267.62 L204.24,267.88 L204.77,268.12 L205.31,268.36 L205.84,268.59 L206.38,268.80 L206.92,269.01 L207.45,269.21 L207.99,269.40 L208.52,269.58 L209.06,269.76 L209.59,269.92 L210.12,270.09 L210.66,270.24 L211.19,270.39 L211.73,270.53 L212.26,270.66 L212.80,270.79 L213.33,270.91 L213.87,271.03 L214.40,271.14 L214.94,271.25 L215.48,271.35 L216.01,271.45 L216.55,271.55 L217.08,271.64 L217.62,271.72 L218.15,271.81 L218.69,271.89 L219.22,271.96 L219.75,272.03 L220.29,272.10 L220.82,272.17 L221.36,272.23 L221.89,272.29 L222.43,272.35 L222.96,272.41 L223.50,272.46 L224.04,272.51 L224.57,272.56 L225.11,272.60 L225.64,272.65 L226.18,272.69 L226.71,272.73 L227.25,272.77 L227.78,272.81 L228.31,272.84 L228.85,272.87 L229.38,272.91 L229.92,272.94 L230.45,272.97 L230.99,272.99 L231.52,273.02 L232.06,273.05 L232.59,273.07 L233.13,273.10 L233.67,273.12 L234.20,273.14 L234.74,273.16 L235.27,273.18 L235.81,273.20 L236.34,273.22 L236.88,273.23 L237.41,273.25 L237.94,273.26 L238.48,273.28 L239.01,273.29 L239.55,273.31 L240.08,273.32 L240.62,273.33 L241.15,273.34 L241.69,273.36 L242.23,273.37 L242.76,273.38 L243.30,273.39 L243.83,273.40 L244.37,273.41 L244.90,273.41 L245.44,273.42 L245.97,273.43 L246.50,273.44 L247.04,273.45 L247.57,273.45 L248.11,273.46 L248.64,273.46 L249.18,273.47 L249.71,273.48 L250.25,273.48 L250.79,273.49 L251.32,273.49 L251.86,273.50 L252.39,273.50 L252.93,273.51 L253.46,273.51 L254.00,273.51 L254.53,273.52 L255.06,273.52 L255.60,273.53 L256.13,273.53 L256.67,273.53 L257.20,273.53 L257.74,273.54 L258.27,273.54 L258.81,273.54 L259.34,273.55 L259.88,273.55 L260.42,273.55 L260.95,273.55 L261.49,273.55 L262.02,273.56 L262.56,273.56 L263.09,273.56 L263.62,273.56 L264.16,273.56 L264.69,273.57 L265.23,273.57 L265.76,273.57 L266.30,273.57" stroke="#000000"/>
<path d="M52.30,273.47 L52.83,273.47 L53.37,273.46 L53.90,273.46 L54.44,273.45 L54.97,273.44 L55.51,273.44 L56.04,273.43 L56.58,273.42 L57.11,273.41 L57.65,273.41 L58.18,273.40 L58.72,273.39 L59.25,273.38 L59.79,273.37 L60.32,273.36 L60.86,273.35 L61.39,273.34 L61.93,273.33 L62.46,273.32 L63.00,273.31 L63.53,273.30 L64.07,273.28 L64.60,273.27 L65.14,273.26 L65.67,273.24 L66.21,273.23 L66.75,273.21 L67.28,273.20 L67.81,273.18 L68.35,273.16 L68.88,273.14 L69.42,273.12 L69.95,273.10 L70.49,273.08 L71.03,273.06 L71.56,273.04 L72.09,273.02 L72.63,272.99 L73.16,272.97 L73.70,272.94 L74.23,272.91 L74.77,272.88 L75.30,272.85 L75.84,272.82 L76.38,272.79 L76.91,272.75 L77.44,272.72 L77.98,272.68 L78.52,272.64 L79.05,272.60 L79.58,272.56 L80.12,272.52 L80.66,272.47 L81.19,272.43 L81.72,272.38 L82.26,272.33 L82.80,272.27 L83.33,272.22 L83.86,272.16 L84.40,272.10 L84.94,272.04 L85.47,271.98 L86.00,271.91 L86.54,271.84 L87.07,271.76 L87.61,271.69 L88.14,271.61 L88.68,271.53 L89.22,271.44 L89.75,271.35 L90.28,271.26 L90.82,271.16 L91.35,271.06 L91.89,270.96 L92.42,270.85 L92.96,270.73 L93.50,270.61 L94.03,270.49 L94.56,270.36 L95.10,270.23 L95.63,270.09 L96.17,269.95 L96.70,269.80 L97.24,269.64 L97.78,269.48 L98.31,269.31 L98.84,269.14 L99.38,268.96 L99.91,268.77 L100.45,268.57 L100.98,268.37 L101.52,268.16 L102.06,267.94 L102.59,267.71 L103.12,267.47 L103.66,267.22 L104.19,266.97 L104.73,266.70 L105.27,266.42 L105.80,266.14 L106.33,265.84 L106.87,265.53 L107.41,265.21 L107.94,264.88 L108.47,264.53 L109.01,264.18 L109.54,263.81 L110.08,263.42 L110.61,263.02 L111.15,262.61 L111.69,262.19 L112.22,261.74 L112.75,261.29 L113.29,260.81 L113.82,260.32 L114.36,259.82 L114.89,259.29 L115.43,258.75 L115.97,258.19 L116.50,257.62 L117.03,257.02 L117.57,256.41 L118.11,255.77 L118.64,255.12 L119.17,254.44 L119.71,253.75 L120.24,253.03 L120.78,252.29 L121.31,251.53 L121.85,250.75 L122.38,249.95 L122.92,249.13 L123.45,248.28 L123.99,247.42 L124.52,246.53 L125.06,245.62 L125.59,244.68 L126.13,243.73 L126.66,242.75 L127.20,241.75 L127.73,240.73 L128.27,239.69 L128.81,238.63 L129.34,237.55 L129.88,236.46 L130.41,235.34 L130.94,234.21 L131.48,233.06 L132.01,231.89 L132.55,230.72 L133.08,229.52 L133.62,228.32 L134.16,227.11 L134.69,225.89 L135.22,224.66 L135.76,223.43 L136.30,222.19 L136.83,220.95 L137.37,219.72 L137.90,218.49 L138.44,217.26 L138.97,216.04 L139.50,214.83 L140.04,213.63 L140.57,212.45 L141.11,211.29 L141.64,210.15 L142.18,209.03 L142.72,207.94 L143.25,206.87 L143.78,205.84 L144.32,204.84 L144.86,203.88 L145.39,202.96 L145.93,202.09 L146.46,201.26 L147.00,200.47 L147.53,199.74 L148.06,199.06 L148.60,198.43 L149.13,197.86 L149.67,197.35 L150.20,196.89 L150.74,196.50 L151.27,196.18 L151.81,195.91 L152.34,195.71 L152.88,195.58 L153.41,195.51 L153.95,195.51 L154.49,195.57 L155.02,195.69 L155.56,195.88 L156.09,196.13 L156.62,196.44 L157.16,196.82 L157.69,197.25 L158.23,197.74 L158.76,198.29 L159.30,198.89 L159.83,199.54 L160.37,200.25 L160.91,201.00 L161.44,201.80 L161.97,202.65 L162.51,203.53 L163.05,204.46 L163.58,205.42 L164.12,206.42 L164.65,207.45 L165.19,208.51 L165.72,209.60 L166.25,210.71 L166.79,211.84 L167.32,212.99 L167.86,214.15 L168.39,215.33 L168.93,216.52 L169.47,217.72 L170.00,218.93 L170.53,220.14 L171.07,221.35 L171.61,222.57 L172.14,223.78 L172.68,224.99 L173.21,226.19 L173.75,227.39 L174.28,228.57 L174.81,229.75 L175.35,230.92 L175.88,232.07 L176.42,233.21 L176.95,234.34 L177.49,235.45 L178.02,236.54 L178.56,237.62 L179.09,238.68 L179.63,239.71 L180.16,240.73 L180.70,241.73 L181.24,242.71 L181.77,243.67 L182.31,244.61 L182.84,245.53 L183.38,246.43 L183.91,247.30 L184.44,248.16 L184.98,248.99 L185.51,249.80 L186.05,250.59 L186.58,251.36 L187.12,252.11 L187.65,252.84 L188.19,253.55 L188.73,254.23 L189.26,254.90 L189.80,255.55 L190.33,256.18 L190.87,256.79 L191.40,257.38 L191.94,257.96 L192.47,258.51 L193.00,259.05 L193.54,259.57 L194.07,260.08 L194.61,260.57 L195.14,261.04 L195.68,261.50 L196.21,261.94 L196.75,262.36 L197.29,262.78 L197.82,263.18 L198.36,263.56 L198.89,263.93 L199.43,264.29 L199.96,264.64 L200.50,264.97 L201.03,265.30 L201.56,265.61 L202.10,265.91 L202.63,266.20 L203.17,266.48 L203.70,266.75 L204.24,267.00 L204.77,267.26 L205.31,267.50 L205.84,267.73 L206.38,267.95 L206.92,268.17 L207.45,268.38 L207.99,268.58 L208.52,268.77 L209.06,268.95 L209.59,269.13 L210.12,269.30 L210.66,269.47 L211.19,269.63 L211.73,269.78 L212.26,269.93 L212.80,270.07 L213.33,270.21 L213.87,270.34 L214.40,270.47 L214.94,270.59 L215.48,270.70 L216.01,270.82 L216.55,270.93 L217.08,271.03 L217.62,271.13 L218.15,271.23 L218.69,271.32 L219.22,271.41 L219.75,271.49 L220.29,271.58 L220.82,271.65 L221.36,271.73 L221.89,271.80 L222.43,271.87 L222.96,271.94 L223.50,272.01 L224.04,272.07 L224.57,272.13 L225.11,272.19 L225.64,272.24 L226.18,272.30 L226.71,272.35 L227.25,272.40 L227.78,272.44 L228.31,272.49 L228.85,272.53 L229.38,272.57 L229.92,272.61 L230.45,272.65 L230.99,272.69 L231.52,272.73 L232.06,272.76 L232.59,272.79 L233.13,272.83 L233.67,272.86 L234.20,272.89 L234.74,272.91 L235.27,272.94 L235.81,272.97 L236.34,272.99 L236.88,273.02 L237.41,273.04 L237.94,273.06 L238.48,273.08 L239.01,273.10 L239.55,273.12 L240.08,273.14 L240.62,273.16 L241.15,273.18 L241.69,273.19 L242.23,273.21 L242.76,273.22 L243.30,273.24 L243.83,273.25 L244.37,273.27 L244.90,273.28 L245.44,273.29 L245.97,273.31 L246.50,273.32 L247.04,273.33 L247.57,273.34 L248.11,273.35 L248.64,273.36 L249.18,273.37 L249.71,273.38 L250.25,273.39 L250.79,273.39 L251.32,273.40 L251.86,273.41 L252.39,273.42 L252.93,273.43 L253.46,273.43 L254.00,273.44 L254.53,273.45 L255.06,273.45 L255.60,273.46 L256.13,273.46 L256.67,273.47 L257.20,273.47 L257.74,273.48 L258.27,273.48 L258.81,273.49 L259.34,273.49 L259.88,273.50 L260.42,273.50 L260.95,273.50 L261.49,273.51 L262.02,273.51 L262.56,273.52 L263.09,273.52 L263.62,273.52 L264.16,273.53 L264.69,273.53 L265.23,273.53 L265.76,273.53 L266.30,273.54" stroke="#ff0000"/>
<path d="M52.30,273.58 L52.83,273.58 L53.37,273.58 L53.90,273.58 L54.44,273.57 L54.97,273.57 L55.51,273.57 L56.04,273.57 L56.58,273.57 L57.11,273.57 L57.65,273.56 L58.18,273.56 L58.72,273.56 L59.25,273.56 L59.79,273.56 L60.32,273.55 L60.86,273.55 L61.39,273.55 L61.93,273.55 L62.46,273.54 L63.00,273.54 L63.53,273.54 L64.07,273.53 L64.60,273.53 L65.14,273.52 L65.67,273.52 L66.21,273.52 L66.75,273.51 L67.28,273.51 L67.81,273.50 L68.35,273.49 L68.88,273.49 L69.42,273.48 L69.95,273.48 L70.49,273.47 L71.03,273.46 L71.56,273.45 L72.09,273.45 L72.63,273.44 L73.16,273.43 L73.70,273.42 L74.23,273.41 L74.77,273.40 L75.30,273.39 L75.84,273.37 L76.38,273.36 L76.91,273.35 L77.44,273.33 L77.98,273.32 L78.52,273.30 L79.05,273.29 L79.58,273.27 L80.12,273.25 L80.66,273.23 L81.19,273.21 L81.72,273.19 L82.26,273.16 L82.80,273.14 L83.33,273.11 L83.86,273.08 L84.40,273.06 L84.94,273.03 L85.47,272.99 L86.00,272.96 L86.54,272.92 L87.07,272.88 L87.61,272.84 L88.14,272.80 L88.68,272.76 L89.22,272.71 L89.75,272.66 L90.28,272.61 L90.82,272.55 L91.35,272.49 L91.89,272.43 L92.42,272.37 L92.96,272.30 L93.50,272.22 L94.03,272.15 L94.56,272.07 L95.10,271.98 L95.63,271.89 L96.17,271.79 L96.70,271.69 L97.24,271.59 L97.78,271.47 L98.31,271.36 L98.84,271.23 L99.38,271.10 L99.91,270.96 L100.45,270.81 L100.98,270.66 L101.52,270.50 L102.06,270.32 L102.59,270.14 L103.12,269.95 L103.66,269.75 L104.19,269.54 L104.73,269.31 L105.27,269.08 L105.80,268.83 L106.33,268.57 L106.87,268.29 L107.41,268.00 L107.94,267.70 L108.47,267.37 L109.01,267.04 L109.54,266.68 L110.08,266.31 L110.61,265.91 L111.15,265.50 L111.69,265.06 L112.22,264.61 L112.75,264.12 L113.29,263.62 L113.82,263.09 L114.36,262.53 L114.89,261.95 L115.43,261.34 L115.97,260.70 L116.50,260.03 L117.03,259.32 L117.57,258.59 L118.11,257.81 L118.64,257.01 L119.17,256.17 L119.71,255.29 L120.24,254.37 L120.78,253.41 L121.31,252.41 L121.85,251.37 L122.38,250.28 L122.92,249.16 L123.45,247.99 L123.99,246.77 L124.52,245.51 L125.06,244.20 L125.59,242.85 L126.13,241.45 L126.66,240.00 L127.20,238.51 L127.73,236.98 L128.27,235.40 L128.81,233.77 L129.34,232.11 L129.88,230.40 L130.41,228.65 L130.94,226.87 L131.48,225.06 L132.01,223.22 L132.55,221.35 L133.08,219.45 L133.62,217.54 L134.16,215.61 L134.69,213.67 L135.22,211.73 L135.76,209.79 L136.30,207.86 L136.83,205.95 L137.37,204.05 L137.90,202.19 L138.44,200.35 L138.97,198.57 L139.50,196.83 L140.04,195.15 L140.57,193.54 L141.11,192.00 L141.64,190.54 L142.18,189.18 L142.72,187.90 L143.25,186.73 L143.78,185.67 L144.32,184.73 L144.86,183.90 L145.39,183.21 L145.93,182.64 L146.46,182.20 L147.00,181.90 L147.53,181.73 L148.06,181.71 L148.60,181.81 L149.13,182.05 L149.67,182.42 L150.20,182.91 L150.74,183.53 L151.27,184.27 L151.81,185.12 L152.34,186.09 L152.88,187.17 L153.41,188.35 L153.95,189.62 L154.49,190.98 L155.02,192.43 L155.56,193.95 L156.09,195.54 L156.62,197.19 L157.16,198.89 L157.69,200.64 L158.23,202.43 L158.76,204.26 L159.30,206.11 L159.83,207.98 L160.37,209.86 L160.91,211.75 L161.44,213.64 L161.97,215.53 L162.51,217.41 L163.05,219.28 L163.58,221.13 L164.12,222.95 L164.65,224.76 L165.19,226.53 L165.72,228.27 L166.25,229.98 L166.79,231.66 L167.32,233.29 L167.86,234.89 L168.39,236.44 L168.93,237.95 L169.47,239.43 L170.00,240.85 L170.53,242.24 L171.07,243.58 L171.61,244.87 L172.14,246.13 L172.68,247.33 L173.21,248.50 L173.75,249.62 L174.28,250.71 L174.81,251.75 L175.35,252.75 L175.88,253.71 L176.42,254.63 L176.95,255.52 L177.49,256.37 L178.02,257.18 L178.56,257.96 L179.09,258.70 L179.63,259.42 L180.16,260.10 L180.70,260.75 L181.24,261.38 L181.77,261.97 L182.31,262.54 L182.84,263.08 L183.38,263.60 L183.91,264.09 L184.44,264.56 L184.98,265.01 L185.51,265.44 L186.05,265.84 L186.58,266.23 L187.12,266.60 L187.65,266.95 L188.19,267.29 L188.73,267.60 L189.26,267.91 L189.80,268.19 L190.33,268.47 L190.87,268.73 L191.40,268.98 L191.94,269.21 L192.47,269.43 L193.00,269.65 L193.54,269.85 L194.07,270.04 L194.61,270.22 L195.14,270.39 L195.68,270.56 L196.21,270.71 L196.75,270.86 L197.29,271.00 L197.82,271.14 L198.36,271.26 L198.89,271.38 L199.43,271.50 L199.96,271.61 L200.50,271.71 L201.03,271.81 L201.56,271.90 L202.10,271.99 L202.63,272.07 L203.17,272.15 L203.70,272.22 L204.24,272.30 L204.77,272.36 L205.31,272.43 L205.84,272.49 L206.38,272.55 L206.92,272.60 L207.45,272.65 L207.99,272.70 L208.52,272.75 L209.06,272.79 L209.59,272.83 L210.12,272.87 L210.66,272.91 L211.19,272.95 L211.73,272.98 L212.26,273.01 L212.80,273.04 L213.33,273.07 L213.87,273.10 L214.40,273.13 L214.94,273.15 L215.48,273.17 L216.01,273.20 L216.55,273.22 L217.08,273.24 L217.62,273.26 L218.15,273.27 L218.69,273.29 L219.22,273.31 L219.75,273.32 L220.29,273.34 L220.82,273.35 L221.36,273.36 L221.89,273.38 L222.43,273.39 L222.96,273.40 L223.50,273.41 L224.04,273.42 L224.57,273.43 L225.11,273.44 L225.64,273.45 L226.18,273.45 L226.71,273.46 L227.25,273.47 L227.78,273.48 L228.31,273.48 L228.85,273.49 L229.38,273.49 L229.92,273.50 L230.45,273.50 L230.99,273.51 L231.52,273.51 L232.06,273.52 L232.59,273.52 L233.13,273.53 L233.67,273.53 L234.20,273.53 L234.74,273.54 L235.27,273.54 L235.81,273.54 L236.34,273.55 L236.88,273.55 L237.41,273.55 L237.94,273.55 L238.48,273.56 L239.01,273.56 L239.55,273.56 L240.08,273.56 L240.62,273.57 L241.15,273.57 L241.69,273.57 L242.23,273.57 L242.76,273.57 L243.30,273.57 L243.83,273.57 L244.37,273.58 L244.90,273.58 L245.44,273.58 L245.97,273.58 L246.50,273.58 L247.04,273.58 L247.57,273.58 L248.11,273.58 L248.64,273.58 L249.18,273.59 L249.71,273.59 L250.25,273.59 L250.79,273.59 L251.32,273.59 L251.86,273.59 L252.39,273.59 L252.93,273.59 L253.46,273.59 L254.00,273.59 L254.53,273.59 L255.06,273.59 L255.60,273.59 L256.13,273.59 L256.67,273.59 L257.20,273.59 L257.74,273.59 L258.27,273.59 L258.81,273.59 L259.34,273.59 L259.88,273.59 L260.42,273.60 L260.95,273.60 L261.49,273.60 L262.02,273.60 L262.56,273.60 L263.09,273.60 L263.62,273.60 L264.16,273.60 L264.69,273.60 L265.23,273.60 L265.76,273.60 L266.30,273.60" stroke="#0000ff"/>
<path d="M52.30,273.59 L52.83,273.59 L53.37,273.59 L53.90,273.58 L54.44,273.58 L54.97,273.58 L55.51,273.58 L56.04,273.58 L56.58,273.58 L57.11,273.58 L57.65,273.58 L58.18,273.57 L58.72,273.57 L59.25,273.57 L59.79,273.57 L60.32,273.57 L60.86,273.56 L61.39,273.56 L61.93,273.56 L62.46,273.56 L63.00,273.55 L63.53,273.55 L64.07,273.55 L64.60,273.54 L65.14,273.54 L65.67,273.54 L66.21,273.53 L66.75,273.53 L67.28,273.52 L67.81,273.52 L68.35,273.51 L68.88,273.51 L69.42,273.50 L69.95,273.49 L70.49,273.49 L71.03,273.48 L71.56,273.47 L72.09,273.46 L72.63,273.45 L73.16,273.44 L73.70,273.43 L74.23,273.42 L74.77,273.41 L75.30,273.40 L75.84,273.38 L76.38,273.37 L76.91,273.35 L77.44,273.34 L77.98,273.32 L78.52,273.30 L79.05,273.28 L79.58,273.26 L80.12,273.24 L80.66,273.21 L81.19,273.19 L81.72,273.16 L82.26,273.13 L82.80,273.10 L83.33,273.06 L83.86,273.03 L84.40,272.99 L84.94,272.95 L85.47,272.91 L86.00,272.86 L86.54,272.81 L87.07,272.76 L87.61,272.70 L88.14,272.64 L88.68,272.58 L89.22,272.51 L89.75,272.44 L90.28,272.36 L90.82,272.28 L91.35,272.19 L91.89,272.10 L92.42,272.00 L92.96,271.89 L93.50,271.78 L94.03,271.66 L94.56,271.53 L95.10,271.39 L95.63,271.25 L96.17,271.09 L96.70,270.93 L97.24,270.75 L97.78,270.56 L98.31,270.37 L98.84,270.15 L99.38,269.93 L99.91,269.69 L100.45,269.43 L100.98,269.16 L101.52,268.87 L102.06,268.57 L102.59,268.24 L103.12,267.90 L103.66,267.53 L104.19,267.14 L104.73,266.73 L105.27,266.29 L105.80,265.83 L106.33,265.34 L106.87,264.81 L107.41,264.26 L107.94,263.68 L108.47,263.06 L109.01,262.41 L109.54,261.72 L110.08,260.99 L110.61,260.22 L111.15,259.41 L111.69,258.56 L112.22,257.66 L112.75,256.72 L113.29,255.73 L113.82,254.69 L114.36,253.60 L114.89,252.46 L115.43,251.27 L115.97,250.02 L116.50,248.72 L117.03,247.37 L117.57,245.96 L118.11,244.50 L118.64,242.99 L119.17,241.42 L119.71,239.80 L120.24,238.14 L120.78,236.43 L121.31,234.68 L121.85,232.89 L122.38,231.06 L122.92,229.20 L123.45,227.32 L123.99,225.42 L124.52,223.51 L125.06,221.59 L125.59,219.68 L126.13,217.78 L126.66,215.90 L127.20,214.05 L127.73,212.24 L128.27,210.49 L128.81,208.79 L129.34,207.17 L129.88,205.63 L130.41,204.18 L130.94,202.84 L131.48,201.61 L132.01,200.51 L132.55,199.53 L133.08,198.70 L133.62,198.01 L134.16,197.47 L134.69,197.09 L135.22,196.86 L135.76,196.80 L136.30,196.89 L136.83,197.14 L137.37,197.53 L137.90,198.07 L138.44,198.75 L138.97,199.57 L139.50,200.52 L140.04,201.60 L140.57,202.78 L141.11,204.08 L141.64,205.48 L142.18,206.96 L142.72,208.52 L143.25,210.16 L143.78,211.85 L144.32,213.60 L144.86,215.38 L145.39,217.20 L145.93,219.04 L146.46,220.89 L147.00,222.75 L147.53,224.61 L148.06,226.46 L148.60,228.29 L149.13,230.11 L149.67,231.90 L150.20,233.66 L150.74,235.38 L151.27,237.07 L151.81,238.71 L152.34,240.31 L152.88,241.86 L153.41,243.37 L153.95,244.83 L154.49,246.23 L155.02,247.59 L155.56,248.90 L156.09,250.15 L156.62,251.36 L157.16,252.51 L157.69,253.62 L158.23,254.68 L158.76,255.69 L159.30,256.65 L159.83,257.57 L160.37,258.45 L160.91,259.28 L161.44,260.07 L161.97,260.83 L162.51,261.54 L163.05,262.22 L163.58,262.86 L164.12,263.47 L164.65,264.05 L165.19,264.60 L165.72,265.12 L166.25,265.61 L166.79,266.07 L167.32,266.51 L167.86,266.92 L168.39,267.31 L168.93,267.68 L169.47,268.03 L170.00,268.36 L170.53,268.67 L171.07,268.96 L171.61,269.23 L172.14,269.49 L172.68,269.74 L173.21,269.97 L173.75,270.18 L174.28,270.39 L174.81,270.58 L175.35,270.76 L175.88,270.93 L176.42,271.09 L176.95,271.24 L177.49,271.38 L178.02,271.52 L178.56,271.64 L179.09,271.76 L179.63,271.87 L180.16,271.97 L180.70,272.07 L181.24,272.17 L181.77,272.25 L182.31,272.33 L182.84,272.41 L183.38,272.48 L183.91,272.55 L184.44,272.61 L184.98,272.67 L185.51,272.73 L186.05,272.78 L186.58,272.83 L187.12,272.88 L187.65,272.92 L188.19,272.96 L188.73,273.00 L189.26,273.04 L189.80,273.07 L190.33,273.10 L190.87,273.13 L191.40,273.16 L191.94,273.19 L192.47,273.21 L193.00,273.24 L193.54,273.26 L194.07,273.28 L194.61,273.30 L195.14,273.32 L195.68,273.34 L196.21,273.35 L196.75,273.37 L197.29,273.38 L197.82,273.39 L198.36,273.41 L198.89,273.42 L199.43,273.43 L199.96,273.44 L200.50,273.45 L201.03,273.46 L201.56,273.47 L202.10,273.48 L202.63,273.48 L203.17,273.49 L203.70,273.50 L204.24,273.50 L204.77,273.51 L205.31,273.51 L205.84,273.52 L206.38,273.52 L206.92,273.53 L207.45,273.53 L207.99,273.54 L208.52,273.54 L209.06,273.55 L209.59,273.55 L210.12,273.55 L210.66,273.55 L211.19,273.56 L211.73,273.56 L212.26,273.56 L212.80,273.56 L213.33,273.57 L213.87,273.57 L214.40,273.57 L214.94,273.57 L215.48,273.57 L216.01,273.58 L216.55,273.58 L217.08,273.58 L217.62,273.58 L218.15,273.58 L218.69,273.58 L219.22,273.58 L219.75,273.58 L220.29,273.59 L220.82,273.59 L221.36,273.59 L221.89,273.59 L222.43,273.59 L222.96,273.59 L223.50,273.59 L224.04,273.59 L224.57,273.59 L225.11,273.59 L225.64,273.59 L226.18,273.59 L226.71,273.59 L227.25,273.59 L227.78,273.59 L228.31,273.59 L228.85,273.59 L229.38,273.59 L229.92,273.60 L230.45,273.60 L230.99,273.60 L231.52,273.60 L232.06,273.60 L232.59,273.60 L233.13,273.60 L233.67,273.60 L234.20,273.60 L234.74,273.60 L235.27,273.60 L235.81,273.60 L236.34,273.60 L236.88,273.60 L237.41,273.60 L237.94,273.60 L238.48,273.60 L239.01,273.60 L239.55,273.60 L240.08,273.60 L240.62,273.60 L241.15,273.60 L241.69,273.60 L242.23,273.60 L242.76,273.60 L243.30,273.60 L243.83,273.60 L244.37,273.60 L244.90,273.60 L245.44,273.60 L245.97,273.60 L246.50,273.60 L247.04,273.60 L247.57,273.60 L248.11,273.60 L248.64,273.60 L249.18,273.60 L249.71,273.60 L250.25,273.60 L250.79,273.60 L251.32,273.60 L251.86,273.60 L252.39,273.60 L252.93,273.60 L253.46,273.60 L254.00,273.60 L254.53,273.60 L255.06,273.60 L255.60,273.60 L256.13,273.60 L256.67,273.60 L257.20,273.60 L257.74,273.60 L258.27,273.60 L258.81,273.60 L259.34,273.60 L259.88,273.60 L260.42,273.60 L260.95,273.60 L261.49,273.60 L262.02,273.60 L262.56,273.60 L263.09,273.60 L263.62,273.60 L264.16,273.60 L264.69,273.60 L265.23,273.60 L265.76,273.60 L266.30,273.60" stroke="#2a962a"/>
<path d="M52.30,273.60 L52.83,273.60 L53.37,273.60 L53.90,273.60 L54.44,273.60 L54.97,273.60 L55.51,273.59 L56.04,273.59 L56.58,273.59 L57.11,273.59 L57.65,273.59 L58.18,273.59 L58.72,273.59 L59.25,273.59 L59.79,273.59 L60.32,273.59 L60.86,273.59 L61.39,273.59 L61.93,273.59 L62.46,273.59 L63.00,273.58 L63.53,273.58 L64.07,273.58 L64.60,273.58 L65.14,273.58 L65.67,273.58 L66.21,273.58 L66.75,273.57 L67.28,273.57 L67.81,273.57 L68.35,273.57 L68.88,273.56 L69.42,273.56 L69.95,273.56 L70.49,273.55 L71.03,273.55 L71.56,273.55 L72.09,273.54 L72.63,273.54 L73.16,273.53 L73.70,273.52 L74.23,273.52 L74.77,273.51 L75.30,273.50 L75.84,273.50 L76.38,273.49 L76.91,273.48 L77.44,273.47 L77.98,273.46 L78.52,273.45 L79.05,273.43 L79.58,273.42 L80.12,273.41 L80.66,273.39 L81.19,273.37 L81.72,273.35 L82.26,273.33 L82.80,273.31 L83.33,273.29 L83.86,273.26 L84.40,273.23 L84.94,273.20 L85.47,273.17 L86.00,273.13 L86.54,273.10 L87.07,273.06 L87.61,273.01 L88.14,272.96 L88.68,272.91 L89.22,272.85 L89.75,272.79 L90.28,272.73 L90.82,272.65 L91.35,272.58 L91.89,272.49 L92.42,272.40 L92.96,272.30 L93.50,272.20 L94.03,272.08 L94.56,271.96 L95.10,271.83 L95.63,271.68 L96.17,271.53 L96.70,271.36 L97.24,271.18 L97.78,270.98 L98.31,270.77 L98.84,270.54 L99.38,270.29 L99.91,270.03 L100.45,269.74 L100.98,269.43 L101.52,269.10 L102.06,268.74 L102.59,268.36 L103.12,267.94 L103.66,267.50 L104.19,267.02 L104.73,266.50 L105.27,265.95 L105.80,265.35 L106.33,264.72 L106.87,264.04 L107.41,263.31 L107.94,262.53 L108.47,261.69 L109.01,260.80 L109.54,259.85 L110.08,258.84 L110.61,257.77 L111.15,256.63 L111.69,255.42 L112.22,254.14 L112.75,252.79 L113.29,251.37 L113.82,249.87 L114.36,248.30 L114.89,246.65 L115.43,244.93 L115.97,243.14 L116.50,241.28 L117.03,239.35 L117.57,237.37 L118.11,235.33 L118.64,233.25 L119.17,231.12 L119.71,228.97 L120.24,226.81 L120.78,224.63 L121.31,222.47 L121.85,220.34 L122.38,218.24 L122.92,216.20 L123.45,214.24 L123.99,212.37 L124.52,210.61 L125.06,208.99 L125.59,207.50 L126.13,206.19 L126.66,205.05 L127.20,204.10 L127.73,203.35 L128.27,202.81 L128.81,202.50 L129.34,202.40 L129.88,202.53 L130.41,202.87 L130.94,203.42 L131.48,204.17 L132.01,205.12 L132.55,206.26 L133.08,207.57 L133.62,209.04 L134.16,210.64 L134.69,212.38 L135.22,214.22 L135.76,216.15 L136.30,218.15 L136.83,220.22 L137.37,222.32 L137.90,224.45 L138.44,226.59 L138.97,228.73 L139.50,230.85 L140.04,232.94 L140.57,235.00 L141.11,237.02 L141.64,238.99 L142.18,240.89 L142.72,242.74 L143.25,244.52 L143.78,246.23 L144.32,247.88 L144.86,249.44 L145.39,250.94 L145.93,252.37 L146.46,253.72 L147.00,255.00 L147.53,256.22 L148.06,257.37 L148.60,258.45 L149.13,259.47 L149.67,260.42 L150.20,261.32 L150.74,262.17 L151.27,262.96 L151.81,263.70 L152.34,264.40 L152.88,265.05 L153.41,265.65 L153.95,266.22 L154.49,266.74 L155.02,267.24 L155.56,267.69 L156.09,268.12 L156.62,268.52 L157.16,268.89 L157.69,269.23 L158.23,269.55 L158.76,269.84 L159.30,270.12 L159.83,270.37 L160.37,270.61 L160.91,270.83 L161.44,271.04 L161.97,271.23 L162.51,271.40 L163.05,271.56 L163.58,271.71 L164.12,271.85 L164.65,271.98 L165.19,272.10 L165.72,272.22 L166.25,272.32 L166.79,272.41 L167.32,272.50 L167.86,272.58 L168.39,272.66 L168.93,272.73 L169.47,272.80 L170.00,272.86 L170.53,272.91 L171.07,272.96 L171.61,273.01 L172.14,273.05 L172.68,273.10 L173.21,273.13 L173.75,273.17 L174.28,273.20 L174.81,273.23 L175.35,273.26 L175.88,273.28 L176.42,273.31 L176.95,273.33 L177.49,273.35 L178.02,273.37 L178.56,273.39 L179.09,273.40 L179.63,273.42 L180.16,273.43 L180.70,273.44 L181.24,273.45 L181.77,273.47 L182.31,273.48 L182.84,273.49 L183.38,273.49 L183.91,273.50 L184.44,273.51 L184.98,273.52 L185.51,273.52 L186.05,273.53 L186.58,273.53 L187.12,273.54 L187.65,273.54 L188.19,273.55 L188.73,273.55 L189.26,273.56 L189.80,273.56 L190.33,273.56 L190.87,273.56 L191.40,273.57 L191.94,273.57 L192.47,273.57 L193.00,273.57 L193.54,273.58 L194.07,273.58 L194.61,273.58 L195.14,273.58 L195.68,273.58 L196.21,273.58 L196.75,273.58 L197.29,273.59 L197.82,273.59 L198.36,273.59 L198.89,273.59 L199.43,273.59 L199.96,273.59 L200.50,273.59 L201.03,273.59 L201.56,273.59 L202.10,273.59 L202.63,273.59 L203.17,273.59 L203.70,273.59 L204.24,273.59 L204.77,273.60 L205.31,273.60 L205.84,273.60 L206.38,273.60 L206.92,273.60 L207.45,273.60 L207.99,273.60 L208.52,273.60 L209.06,273.60 L209.59,273.60 L210.12,273.60 L210.66,273.60 L211.19,273.60 L211.73,273.60 L212.26,273.60 L212.80,273.60 L213.33,273.60 L213.87,273.60 L214.40,273.60 L214.94,273.60 L215.48,273.60 L216.01,273.60 L216.55,273.60 L217.08,273.60 L217.62,273.60 L218.15,273.60 L218.69,273.60 L219.22,273.60 L219.75,273.60 L220.29,273.60 L220.82,273.60 L221.36,273.60 L221.89,273.60 L222.43,273.60 L222.96,273.60 L223.50,273.60 L224.04,273.60 L224.57,273.60 L225.11,273.60 L225.64,273.60 L226.18,273.60 L226.71,273.60 L227.25,273.60 L227.78,273.60 L228.31,273.60 L228.85,273.60 L229.38,273.60 L229.92,273.60 L230.45,273.60 L230.99,273.60 L231.52,273.60 L232.06,273.60 L232.59,273.60 L233.13,273.60 L233.67,273.60 L234.20,273.60 L234.74,273.60 L235.27,273.60 L235.81,273.60 L236.34,273.60 L236.88,273.60 L237.41,273.60 L237.94,273.60 L238.48,273.60 L239.01,273.60 L239.55,273.60 L240.08,273.60 L240.62,273.60 L241.15,273.60 L241.69,273.60 L242.23,273.60 L242.76,273.60 L243.30,273.60 L243.83,273.60 L244.37,273.60 L244.90,273.60 L245.44,273.60 L245.97,273.60 L246.50,273.60 L247.04,273.60 L247.57,273.60 L248.11,273.60 L248.64,273.60 L249.18,273.60 L249.71,273.60 L250.25,273.60 L250.79,273.60 L251.32,273.60 L251.86,273.60 L252.39,273.60 L252.93,273.60 L253.46,273.60 L254.00,273.60 L254.53,273.60 L255.06,273.60 L255.60,273.60 L256.13,273.60 L256.67,273.60 L257.20,273.60 L257.74,273.60 L258.27,273.60 L258.81,273.60 L259.34,273.60 L259.88,273.60 L260.42,273.60 L260.95,273.60 L261.49,273.60 L262.02,273.60 L262.56,273.60 L263.09,273.60 L263.62,273.60 L264.16,273.60 L264.69,273.60 L265.23,273.60 L265.76,273.60 L266.30,273.60" stroke="#ff00ff"/>
<path d="M52.30,273.60 L52.83,273.60 L53.37,273.60 L53.90,273.60 L54.44,273.60 L54.97,273.60 L55.51,273.60 L56.04,273.60 L56.58,273.60 L57.11,273.60 L57.65,273.60 L58.18,273.60 L58.72,273.60 L59.25,273.60 L59.79,273.60 L60.32,273.60 L60.86,273.60 L61.39,273.60 L61.93,273.60 L62.46,273.60 L63.00,273.60 L63.53,273.60 L64.07,273.60 L64.60,273.59 L65.14,273.59 L65.67,273.59 L66.21,273.59 L66.75,273.59 L67.28,273.59 L67.81,273.59 L68.35,273.59 L68.88,273.59 L69.42,273.59 L69.95,273.59 L70.49,273.59 L71.03,273.59 L71.56,273.59 L72.09,273.58 L72.63,273.58 L73.16,273.58 L73.70,273.58 L74.23,273.58 L74.77,273.58 L75.30,273.57 L75.84,273.57 L76.38,273.57 L76.91,273.57 L77.44,273.56 L77.98,273.56 L78.52,273.56 L79.05,273.55 L79.58,273.55 L80.12,273.54 L80.66,273.54 L81.19,273.53 L81.72,273.53 L82.26,273.52 L82.80,273.52 L83.33,273.51 L83.86,273.50 L84.40,273.49 L84.94,273.48 L85.47,273.47 L86.00,273.46 L86.54,273.45 L87.07,273.44 L87.61,273.42 L88.14,273.41 L88.68,273.39 L89.22,273.37 L89.75,273.35 L90.28,273.33 L90.82,273.31 L91.35,273.29 L91.89,273.26 L92.42,273.23 L92.96,273.20 L93.50,273.16 L94.03,273.13 L94.56,273.09 L95.10,273.04 L95.63,273.00 L96.17,272.94 L96.70,272.89 L97.24,272.83 L97.78,272.76 L98.31,272.69 L98.84,272.61 L99.38,272.53 L99.91,272.44 L100.45,272.34 L100.98,272.24 L101.52,272.12 L102.06,272.00 L102.59,271.86 L103.12,271.72 L103.66,271.56 L104.19,271.39 L104.73,271.21 L105.27,271.01 L105.80,270.80 L106.33,270.57 L106.87,270.32 L107.41,270.05 L107.94,269.76 L108.47,269.45 L109.01,269.11 L109.54,268.75 L110.08,268.36 L110.61,267.95 L111.15,267.50 L111.69,267.03 L112.22,266.51 L112.75,265.97 L113.29,265.39 L113.82,264.77 L114.36,264.11 L114.89,263.41 L115.43,262.66 L115.97,261.88 L116.50,261.05 L117.03,260.18 L117.57,259.26 L118.11,258.30 L118.64,257.29 L119.17,256.25 L119.71,255.16 L120.24,254.04 L120.78,252.89 L121.31,251.71 L121.85,250.50 L122.38,249.28 L122.92,248.04 L123.45,246.80 L123.99,245.57 L124.52,244.35 L125.06,243.16 L125.59,242.00 L126.13,240.88 L126.66,239.82 L127.20,238.83 L127.73,237.92 L128.27,237.10 L128.81,236.38 L129.34,235.76 L129.88,235.26 L130.41,234.88 L130.94,234.63 L131.48,234.51 L132.01,234.52 L132.55,234.67 L133.08,234.94 L133.62,235.34 L134.16,235.86 L134.69,236.50 L135.22,237.24 L135.76,238.08 L136.30,239.01 L136.83,240.01 L137.37,241.08 L137.90,242.20 L138.44,243.37 L138.97,244.57 L139.50,245.79 L140.04,247.02 L140.57,248.26 L141.11,249.50 L141.64,250.72 L142.18,251.92 L142.72,253.10 L143.25,254.25 L143.78,255.36 L144.32,256.44 L144.86,257.48 L145.39,258.47 L145.93,259.43 L146.46,260.33 L147.00,261.20 L147.53,262.02 L148.06,262.80 L148.60,263.53 L149.13,264.23 L149.67,264.88 L150.20,265.49 L150.74,266.07 L151.27,266.61 L151.81,267.11 L152.34,267.58 L152.88,268.02 L153.41,268.43 L153.95,268.82 L154.49,269.17 L155.02,269.50 L155.56,269.81 L156.09,270.10 L156.62,270.36 L157.16,270.61 L157.69,270.84 L158.23,271.05 L158.76,271.24 L159.30,271.42 L159.83,271.59 L160.37,271.75 L160.91,271.89 L161.44,272.02 L161.97,272.14 L162.51,272.26 L163.05,272.36 L163.58,272.46 L164.12,272.55 L164.65,272.63 L165.19,272.70 L165.72,272.77 L166.25,272.84 L166.79,272.90 L167.32,272.95 L167.86,273.00 L168.39,273.05 L168.93,273.09 L169.47,273.13 L170.00,273.17 L170.53,273.20 L171.07,273.24 L171.61,273.26 L172.14,273.29 L172.68,273.31 L173.21,273.34 L173.75,273.36 L174.28,273.38 L174.81,273.39 L175.35,273.41 L175.88,273.43 L176.42,273.44 L176.95,273.45 L177.49,273.46 L178.02,273.47 L178.56,273.48 L179.09,273.49 L179.63,273.50 L180.16,273.51 L180.70,273.52 L181.24,273.52 L181.77,273.53 L182.31,273.54 L182.84,273.54 L183.38,273.54 L183.91,273.55 L184.44,273.55 L184.98,273.56 L185.51,273.56 L186.05,273.56 L186.58,273.57 L187.12,273.57 L187.65,273.57 L188.19,273.57 L188.73,273.58 L189.26,273.58 L189.80,273.58 L190.33,273.58 L190.87,273.58 L191.40,273.58 L191.94,273.59 L192.47,273.59 L193.00,273.59 L193.54,273.59 L194.07,273.59 L194.61,273.59 L195.14,273.59 L195.68,273.59 L196.21,273.59 L196.75,273.59 L197.29,273.59 L197.82,273.59 L198.36,273.59 L198.89,273.59 L199.43,273.60 L199.96,273.60 L200.50,273.60 L201.03,273.60 L201.56,273.60 L202.10,273.60 L202.63,273.60 L203.17,273.60 L203.70,273.60 L204.24,273.60 L204.77,273.60 L205.31,273.60 L205.84,273.60 L206.38,273.60 L206.92,273.60 L207.45,273.60 L207.99,273.60 L208.52,273.60 L209.06,273.60 L209.59,273.60 L210.12,273.60 L210.66,273.60 L211.19,273.60 L211.73,273.60 L212.26,273.60 L212.80,273.60 L213.33,273.60 L213.87,273.60 L214.40,273.60 L214.94,273.60 L215.48,273.60 L216.01,273.60 L216.55,273.60 L217.08,273.60 L217.62,273.60 L218.15,273.60 L218.69,273.60 L219.22,273.60 L219.75,273.60 L220.29,273.60 L220.82,273.60 L221.36,273.60 L221.89,273.60 L222.43,273.60 L222.96,273.60 L223.50,273.60 L224.04,273.60 L224.57,273.60 L225.11,273.60 L225.64,273.60 L226.18,273.60 L226.71,273.60 L227.25,273.60 L227.78,273.60 L228.31,273.60 L228.85,273.60 L229.38,273.60 L229.92,273.60 L230.45,273.60 L230.99,273.60 L231.52,273.60 L232.06,273.60 L232.59,273.60 L233.13,273.60 L233.67,273.60 L234.20,273.60 L234.74,273.60 L235.27,273.60 L235.81,273.60 L236.34,273.60 L236.88,273.60 L237.41,273.60 L237.94,273.60 L238.48,273.60 L239.01,273.60 L239.55,273.60 L240.08,273.60 L240.62,273.60 L241.15,273.60 L241.69,273.60 L242.23,273.60 L242.76,273.60 L243.30,273.60 L243.83,273.60 L244.37,273.60 L244.90,273.60 L245.44,273.60 L245.97,273.60 L246.50,273.60 L247.04,273.60 L247.57,273.60 L248.11,273.60 L248.64,273.60 L249.18,273.60 L249.71,273.60 L250.25,273.60 L250.79,273.60 L251.32,273.60 L251.86,273.60 L252.39,273.60 L252.93,273.60 L253.46,273.60 L254.00,273.60 L254.53,273.60 L255.06,273.60 L255.60,273.60 L256.13,273.60 L256.67,273.60 L257.20,273.60 L257.74,273.60 L258.27,273.60 L258.81,273.60 L259.34,273.60 L259.88,273.60 L260.42,273.60 L260.95,273.60 L261.49,273.60 L262.02,273.60 L262.56,273.60 L263.09,273.60 L263.62,273.60 L264.16,273.60 L264.69,273.60 L265.23,273.60 L265.76,273.60 L266.30,273.60" stroke="#808000"/>
<path d="M52.30,273.58 L52.83,273.58 L53.37,273.58 L53.90,273.57 L54.44,273.57 L54.97,273.57 L55.51,273.57 L56.04,273.57 L56.58,273.57 L57.11,273.56 L57.65,273.56 L58.18,273.56 L58.72,273.56 L59.25,273.55 L59.79,273.55 L60.32,273.55 L60.86,273.54 L61.39,273.54 L61.93,273.54 L62.46,273.53 L63.00,273.53 L63.53,273.53 L64.07,273.52 L64.60,273.52 L65.14,273.51 L65.67,273.51 L66.21,273.50 L66.75,273.49 L67.28,273.49 L67.81,273.48 L68.35,273.47 L68.88,273.47 L69.42,273.46 L69.95,273.45 L70.49,273.44 L71.03,273.43 L71.56,273.42 L72.09,273.41 L72.63,273.40 L73.16,273.39 L73.70,273.37 L74.23,273.36 L74.77,273.35 L75.30,273.33 L75.84,273.31 L76.38,273.30 L76.91,273.28 L77.44,273.26 L77.98,273.24 L78.52,273.22 L79.05,273.20 L79.58,273.17 L80.12,273.15 L80.66,273.12 L81.19,273.09 L81.72,273.06 L82.26,273.03 L82.80,272.99 L83.33,272.96 L83.86,272.92 L84.40,272.88 L84.94,272.84 L85.47,272.79 L86.00,272.74 L86.54,272.69 L87.07,272.64 L87.61,272.58 L88.14,272.52 L88.68,272.46 L89.22,272.39 L89.75,272.32 L90.28,272.25 L90.82,272.17 L91.35,272.08 L91.89,272.00 L92.42,271.90 L92.96,271.81 L93.50,271.70 L94.03,271.60 L94.56,271.48 L95.10,271.36 L95.63,271.23 L96.17,271.10 L96.70,270.96 L97.24,270.81 L97.78,270.66 L98.31,270.50 L98.84,270.33 L99.38,270.15 L99.91,269.96 L100.45,269.76 L100.98,269.56 L101.52,269.34 L102.06,269.12 L102.59,268.89 L103.12,268.64 L103.66,268.39 L104.19,268.12 L104.73,267.85 L105.27,267.56 L105.80,267.27 L106.33,266.96 L106.87,266.64 L107.41,266.31 L107.94,265.98 L108.47,265.63 L109.01,265.27 L109.54,264.90 L110.08,264.53 L110.61,264.14 L111.15,263.75 L111.69,263.35 L112.22,262.95 L112.75,262.54 L113.29,262.13 L113.82,261.72 L114.36,261.30 L114.89,260.88 L115.43,260.47 L115.97,260.06 L116.50,259.65 L117.03,259.25 L117.57,258.86 L118.11,258.48 L118.64,258.11 L119.17,257.76 L119.71,257.42 L120.24,257.10 L120.78,256.79 L121.31,256.51 L121.85,256.26 L122.38,256.03 L122.92,255.82 L123.45,255.64 L123.99,255.49 L124.52,255.37 L125.06,255.29 L125.59,255.23 L126.13,255.20 L126.66,255.21 L127.20,255.25 L127.73,255.32 L128.27,255.42 L128.81,255.55 L129.34,255.72 L129.88,255.91 L130.41,256.13 L130.94,256.37 L131.48,256.64 L132.01,256.94 L132.55,257.25 L133.08,257.59 L133.62,257.94 L134.16,258.30 L134.69,258.68 L135.22,259.07 L135.76,259.47 L136.30,259.88 L136.83,260.30 L137.37,260.71 L137.90,261.13 L138.44,261.56 L138.97,261.98 L139.50,262.39 L140.04,262.81 L140.57,263.22 L141.11,263.62 L141.64,264.02 L142.18,264.41 L142.72,264.79 L143.25,265.17 L143.78,265.53 L144.32,265.89 L144.86,266.23 L145.39,266.56 L145.93,266.89 L146.46,267.20 L147.00,267.50 L147.53,267.79 L148.06,268.07 L148.60,268.34 L149.13,268.60 L149.67,268.85 L150.20,269.09 L150.74,269.32 L151.27,269.53 L151.81,269.74 L152.34,269.94 L152.88,270.13 L153.41,270.31 L153.95,270.49 L154.49,270.65 L155.02,270.81 L155.56,270.96 L156.09,271.10 L156.62,271.23 L157.16,271.36 L157.69,271.48 L158.23,271.60 L158.76,271.71 L159.30,271.81 L159.83,271.91 L160.37,272.00 L160.91,272.09 L161.44,272.17 L161.97,272.25 L162.51,272.33 L163.05,272.40 L163.58,272.47 L164.12,272.53 L164.65,272.59 L165.19,272.65 L165.72,272.70 L166.25,272.75 L166.79,272.80 L167.32,272.84 L167.86,272.89 L168.39,272.93 L168.93,272.97 L169.47,273.00 L170.00,273.04 L170.53,273.07 L171.07,273.10 L171.61,273.13 L172.14,273.15 L172.68,273.18 L173.21,273.20 L173.75,273.23 L174.28,273.25 L174.81,273.27 L175.35,273.29 L175.88,273.30 L176.42,273.32 L176.95,273.34 L177.49,273.35 L178.02,273.37 L178.56,273.38 L179.09,273.39 L179.63,273.40 L180.16,273.42 L180.70,273.43 L181.24,273.44 L181.77,273.45 L182.31,273.45 L182.84,273.46 L183.38,273.47 L183.91,273.48 L184.44,273.49 L184.98,273.49 L185.51,273.50 L186.05,273.50 L186.58,273.51 L187.12,273.51 L187.65,273.52 L188.19,273.52 L188.73,273.53 L189.26,273.53 L189.80,273.54 L190.33,273.54 L190.87,273.54 L191.40,273.55 L191.94,273.55 L192.47,273.55 L193.00,273.56 L193.54,273.56 L194.07,273.56 L194.61,273.56 L195.14,273.56 L195.68,273.57 L196.21,273.57 L196.75,273.57 L197.29,273.57 L197.82,273.57 L198.36,273.58 L198.89,273.58 L199.43,273.58 L199.96,273.58 L200.50,273.58 L201.03,273.58 L201.56,273.58 L202.10,273.58 L202.63,273.58 L203.17,273.59 L203.70,273.59 L204.24,273.59 L204.77,273.59 L205.31,273.59 L205.84,273.59 L206.38,273.59 L206.92,273.59 L207.45,273.59 L207.99,273.59 L208.52,273.59 L209.06,273.59 L209.59,273.59 L210.12,273.59 L210.66,273.59 L211.19,273.59 L211.73,273.59 L212.26,273.59 L212.80,273.60 L213.33,273.60 L213.87,273.60 L214.40,273.60 L214.94,273.60 L215.48,273.60 L216.01,273.60 L216.55,273.60 L217.08,273.60 L217.62,273.60 L218.15,273.60 L218.69,273.60 L219.22,273.60 L219.75,273.60 L220.29,273.60 L220.82,273.60 L221.36,273.60 L221.89,273.60 L222.43,273.60 L222.96,273.60 L223.50,273.60 L224.04,273.60 L224.57,273.60 L225.11,273.60 L225.64,273.60 L226.18,273.60 L226.71,273.60 L227.25,273.60 L227.78,273.60 L228.31,273.60 L228.85,273.60 L229.38,273.60 L229.92,273.60 L230.45,273.60 L230.99,273.60 L231.52,273.60 L232.06,273.60 L232.59,273.60 L233.13,273.60 L233.67,273.60 L234.20,273.60 L234.74,273.60 L235.27,273.60 L235.81,273.60 L236.34,273.60 L236.88,273.60 L237.41,273.60 L237.94,273.60 L238.48,273.60 L239.01,273.60 L239.55,273.60 L240.08,273.60 L240.62,273.60 L241.15,273.60 L241.69,273.60 L242.23,273.60 L242.76,273.60 L243.30,273.60 L243.83,273.60 L244.37,273.60 L244.90,273.60 L245.44,273.60 L245.97,273.60 L246.50,273.60 L247.04,273.60 L247.57,273.60 L248.11,273.60 L248.64,273.60 L249.18,273.60 L249.71,273.60 L250.25,273.60 L250.79,273.60 L251.32,273.60 L251.86,273.60 L252.39,273.60 L252.93,273.60 L253.46,273.60 L254.00,273.60 L254.53,273.60 L255.06,273.60 L255.60,273.60 L256.13,273.60 L256.67,273.60 L257.20,273.60 L257.74,273.60 L258.27,273.60 L258.81,273.60 L259.34,273.60 L259.88,273.60 L260.42,273.60 L260.95,273.60 L261.49,273.60 L262.02,273.60 L262.56,273.60 L263.09,273.60 L263.62,273.60 L264.16,273.60 L264.69,273.60 L265.23,273.60 L265.76,273.60 L266.30,273.60" stroke="#ffff00"/>
<path d="M52.30,273.60 L52.83,273.60 L53.37,273.60 L53.90,273.60 L54.44,273.60 L54.97,273.60 L55.51,273.60 L56.04,273.60 L56.58,273.60 L57.11,273.60 L57.65,273.60 L58.18,273.60 L58.72,273.60 L59.25,273.60 L59.79,273.60 L60.32,273.60 L60.86,273.60 L61.39,273.60 L61.93,273.60 L62.46,273.60 L63.00,273.60 L63.53,273.60 L64.07,273.60 L64.60,273.60 L65.14,273.60 L65.67,273.60 L66.21,273.60 L66.75,273.60 L67.28,273.60 L67.81,273.60 L68.35,273.60 L68.88,273.60 L69.42,273.60 L69.95,273.60 L70.49,273.60 L71.03,273.60 L71.56,273.60 L72.09,273.60 L72.63,273.60 L73.16,273.60 L73.70,273.60 L74.23,273.60 L74.77,273.60 L75.30,273.60 L75.84,273.60 L76.38,273.60 L76.91,273.60 L77.44,273.60 L77.98,273.60 L78.52,273.60 L79.05,273.60 L79.58,273.60 L80.12,273.60 L80.66,273.60 L81.19,273.60 L81.72,273.60 L82.26,273.60 L82.80,273.60 L83.33,273.60 L83.86,273.60 L84.40,273.60 L84.94,273.60 L85.47,273.60 L86.00,273.60 L86.54,273.60 L87.07,273.60 L87.61,273.60 L88.14,273.60 L88.68,273.60 L89.22,273.60 L89.75,273.60 L90.28,273.60 L90.82,273.60 L91.35,273.60 L91.89,273.60 L92.42,273.60 L92.96,273.60 L93.50,273.60 L94.03,273.60 L94.56,273.60 L95.10,273.60 L95.63,273.60 L96.17,273.60 L96.70,273.60 L97.24,273.60 L97.78,273.60 L98.31,273.60 L98.84,273.60 L99.38,273.60 L99.91,273.60 L100.45,273.60 L100.98,273.60 L101.52,273.60 L102.06,273.60 L102.59,273.60 L103.12,273.60 L103.66,273.60 L104.19,273.60 L104.73,273.60 L105.27,273.60 L105.80,273.60 L106.33,273.60 L106.87,273.60 L107.41,273.60 L107.94,273.60 L108.47,273.60 L109.01,273.60 L109.54,273.60 L110.08,273.60 L110.61,273.60 L111.15,273.60 L111.69,273.60 L112.22,273.60 L112.75,273.60 L113.29,273.60 L113.82,273.60 L114.36,273.60 L114.89,273.60 L115.43,273.60 L115.97,273.60 L116.50,273.60 L117.03,273.60 L117.57,273.60 L118.11,273.60 L118.64,273.60 L119.17,273.60 L119.71,273.60 L120.24,273.60 L120.78,273.60 L121.31,273.60 L121.85,273.60 L122.38,273.60 L122.92,273.60 L123.45,273.60 L123.99,273.60 L124.52,273.60 L125.06,273.60 L125.59,273.60 L126.13,273.60 L126.66,273.60 L127.20,273.60 L127.73,273.60 L128.27,273.60 L128.81,273.60 L129.34,273.60 L129.88,273.60 L130.41,273.60 L130.94,273.60 L131.48,273.60 L132.01,273.60 L132.55,273.60 L133.08,273.60 L133.62,273.60 L134.16,273.60 L134.69,273.60 L135.22,273.60 L135.76,273.60 L136.30,273.60 L136.83,273.60 L137.37,273.60 L137.90,273.60 L138.44,273.60 L138.97,273.60 L139.50,273.60 L140.04,273.60 L140.57,273.60 L141.11,273.60 L141.64,273.60 L142.18,273.60 L142.72,273.60 L143.25,273.60 L143.78,273.60 L144.32,273.60 L144.86,273.60 L145.39,273.60 L145.93,273.60 L146.46,273.60 L147.00,273.60 L147.53,273.60 L148.06,273.60 L148.60,273.60 L149.13,273.61 L149.67,273.61 L150.20,273.61 L150.74,273.61 L151.27,273.61 L151.81,273.61 L152.34,273.61 L152.88,273.61 L153.41,273.62 L153.95,273.62 L154.49,273.62 L155.02,273.62 L155.56,273.63 L156.09,273.63 L156.62,273.63 L157.16,273.64 L157.69,273.64 L158.23,273.65 L158.76,273.66 L159.30,273.67 L159.83,273.67 L160.37,273.69 L160.91,273.70 L161.44,273.71 L161.97,273.73 L162.51,273.74 L163.05,273.76 L163.58,273.79 L164.12,273.81 L164.65,273.84 L165.19,273.88 L165.72,273.92 L166.25,273.96 L166.79,274.01 L167.32,274.07 L167.86,274.14 L168.39,274.21 L168.93,274.30 L169.47,274.40 L170.00,274.51 L170.53,274.63 L171.07,274.78 L171.61,274.94 L172.14,275.13 L172.68,275.34 L173.21,275.58 L173.75,275.85 L174.28,276.15 L174.81,276.50 L175.35,276.89 L175.88,277.33 L176.42,277.83 L176.95,278.39 L177.49,279.01 L178.02,279.71 L178.56,280.49 L179.09,281.36 L179.63,282.31 L180.16,283.37 L180.70,284.53 L181.24,285.80 L181.77,287.17 L182.31,288.66 L182.84,290.24 L183.38,291.92 L183.91,293.69 L184.44,295.52 L184.98,297.39 L185.51,299.28 L186.05,301.15 L186.58,302.97 L187.12,304.70 L187.65,306.29 L188.19,307.69 L188.73,308.88 L189.26,309.80 L189.80,310.43 L190.33,310.76 L190.87,310.76 L191.40,310.41 L191.94,309.73 L192.47,308.74 L193.00,307.48 L193.54,305.98 L194.07,304.29 L194.61,302.47 L195.14,300.56 L195.68,298.61 L196.21,296.65 L196.75,294.72 L197.29,292.85 L197.82,291.05 L198.36,289.36 L198.89,287.77 L199.43,286.30 L199.96,284.95 L200.50,283.71 L201.03,282.58 L201.56,281.56 L202.10,280.64 L202.63,279.82 L203.17,279.08 L203.70,278.43 L204.24,277.84 L204.77,277.33 L205.31,276.87 L205.84,276.47 L206.38,276.11 L206.92,275.80 L207.45,275.53 L207.99,275.29 L208.52,275.07 L209.06,274.89 L209.59,274.73 L210.12,274.58 L210.66,274.46 L211.19,274.35 L211.73,274.25 L212.26,274.17 L212.80,274.10 L213.33,274.03 L213.87,273.98 L214.40,273.93 L214.94,273.89 L215.48,273.85 L216.01,273.82 L216.55,273.79 L217.08,273.77 L217.62,273.75 L218.15,273.73 L218.69,273.71 L219.22,273.70 L219.75,273.68 L220.29,273.67 L220.82,273.66 L221.36,273.66 L221.89,273.65 L222.43,273.64 L222.96,273.64 L223.50,273.63 L224.04,273.63 L224.57,273.62 L225.11,273.62 L225.64,273.62 L226.18,273.62 L226.71,273.61 L227.25,273.61 L227.78,273.61 L228.31,273.61 L228.85,273.61 L229.38,273.61 L229.92,273.61 L230.45,273.61 L230.99,273.60 L231.52,273.60 L232.06,273.60 L232.59,273.60 L233.13,273.60 L233.67,273.60 L234.20,273.60 L234.74,273.60 L235.27,273.60 L235.81,273.60 L236.34,273.60 L236.88,273.60 L237.41,273.60 L237.94,273.60 L238.48,273.60 L239.01,273.60 L239.55,273.60 L240.08,273.60 L240.62,273.60 L241.15,273.60 L241.69,273.60 L242.23,273.60 L242.76,273.60 L243.30,273.60 L243.83,273.60 L244.37,273.60 L244.90,273.60 L245.44,273.60 L245.97,273.60 L246.50,273.60 L247.04,273.60 L247.57,273.60 L248.11,273.60 L248.64,273.60 L249.18,273.60 L249.71,273.60 L250.25,273.60 L250.79,273.60 L251.32,273.60 L251.86,273.60 L252.39,273.60 L252.93,273.60 L253.46,273.60 L254.00,273.60 L254.53,273.60 L255.06,273.60 L255.60,273.60 L256.13,273.60 L256.67,273.60 L257.20,273.60 L257.74,273.60 L258.27,273.60 L258.81,273.60 L259.34,273.60 L259.88,273.60 L260.42,273.60 L260.95,273.60 L261.49,273.60 L262.02,273.60 L262.56,273.60 L263.09,273.60 L263.62,273.60 L264.16,273.60 L264.69,273.60 L265.23,273.60 L265.76,273.60 L266.30,273.60" stroke="#800080"/>
<path d="M52.30,273.60 L52.83,273.60 L53.37,273.60 L53.90,273.60 L54.44,273.60 L54.97,273.60 L55.51,273.60 L56.04,273.60 L56.58,273.60 L57.11,273.60 L57.65,273.60 L58.18,273.60 L58.72,273.60 L59.25,273.60 L59.79,273.60 L60.32,273.60 L60.86,273.60 L61.39,273.60 L61.93,273.60 L62.46,273.60 L63.00,273.60 L63.53,273.60 L64.07,273.60 L64.60,273.60 L65.14,273.60 L65.67,273.60 L66.21,273.60 L66.75,273.60 L67.28,273.60 L67.81,273.60 L68.35,273.60 L68.88,273.60 L69.42,273.60 L69.95,273.60 L70.49,273.60 L71.03,273.60 L71.56,273.60 L72.09,273.60 L72.63,273.60 L73.16,273.60 L73.70,273.60 L74.23,273.60 L74.77,273.60 L75.30,273.60 L75.84,273.60 L76.38,273.60 L76.91,273.60 L77.44,273.60 L77.98,273.60 L78.52,273.60 L79.05,273.60 L79.58,273.60 L80.12,273.60 L80.66,273.60 L81.19,273.60 L81.72,273.60 L82.26,273.60 L82.80,273.60 L83.33,273.60 L83.86,273.60 L84.40,273.60 L84.94,273.60 L85.47,273.60 L86.00,273.60 L86.54,273.60 L87.07,273.60 L87.61,273.60 L88.14,273.60 L88.68,273.60 L89.22,273.60 L89.75,273.60 L90.28,273.60 L90.82,273.60 L91.35,273.60 L91.89,273.60 L92.42,273.60 L92.96,273.60 L93.50,273.60 L94.03,273.60 L94.56,273.60 L95.10,273.60 L95.63,273.60 L96.17,273.60 L96.70,273.60 L97.24,273.60 L97.78,273.60 L98.31,273.60 L98.84,273.60 L99.38,273.60 L99.91,273.60 L100.45,273.60 L100.98,273.60 L101.52,273.60 L102.06,273.60 L102.59,273.60 L103.12,273.60 L103.66,273.60 L104.19,273.60 L104.73,273.60 L105.27,273.60 L105.80,273.60 L106.33,273.60 L106.87,273.60 L107.41,273.60 L107.94,273.60 L108.47,273.60 L109.01,273.60 L109.54,273.60 L110.08,273.60 L110.61,273.60 L111.15,273.60 L111.69,273.60 L112.22,273.60 L112.75,273.60 L113.29,273.60 L113.82,273.60 L114.36,273.60 L114.89,273.60 L115.43,273.60 L115.97,273.60 L116.50,273.60 L117.03,273.60 L117.57,273.60 L118.11,273.60 L118.64,273.60 L119.17,273.60 L119.71,273.60 L120.24,273.60 L120.78,273.60 L121.31,273.60 L121.85,273.60 L122.38,273.60 L122.92,273.60 L123.45,273.60 L123.99,273.60 L124.52,273.60 L125.06,273.60 L125.59,273.60 L126.13,273.60 L126.66,273.60 L127.20,273.61 L127.73,273.61 L128.27,273.61 L128.81,273.61 L129.34,273.61 L129.88,273.61 L130.41,273.61 L130.94,273.61 L131.48,273.61 L132.01,273.61 L132.55,273.61 L133.08,273.61 L133.62,273.61 L134.16,273.62 L134.69,273.62 L135.22,273.62 L135.76,273.62 L136.30,273.62 L136.83,273.63 L137.37,273.63 L137.90,273.63 L138.44,273.63 L138.97,273.64 L139.50,273.64 L140.04,273.64 L140.57,273.65 L141.11,273.65 L141.64,273.66 L142.18,273.66 L142.72,273.67 L143.25,273.67 L143.78,273.68 L144.32,273.69 L144.86,273.70 L145.39,273.71 L145.93,273.72 L146.46,273.73 L147.00,273.74 L147.53,273.75 L148.06,273.76 L148.60,273.78 L149.13,273.80 L149.67,273.82 L150.20,273.84 L150.74,273.86 L151.27,273.88 L151.81,273.91 L152.34,273.94 L152.88,273.97 L153.41,274.00 L153.95,274.04 L154.49,274.08 L155.02,274.12 L155.56,274.17 L156.09,274.22 L156.62,274.28 L157.16,274.34 L157.69,274.41 L158.23,274.49 L158.76,274.57 L159.30,274.66 L159.83,274.75 L160.37,274.86 L160.91,274.97 L161.44,275.10 L161.97,275.24 L162.51,275.38 L163.05,275.54 L163.58,275.72 L164.12,275.91 L164.65,276.12 L165.19,276.34 L165.72,276.59 L166.25,276.85 L166.79,277.13 L167.32,277.44 L167.86,277.78 L168.39,278.14 L168.93,278.53 L169.47,278.95 L170.00,279.40 L170.53,279.89 L171.07,280.41 L171.61,280.96 L172.14,281.56 L172.68,282.20 L173.21,282.87 L173.75,283.59 L174.28,284.35 L174.81,285.15 L175.35,286.00 L175.88,286.89 L176.42,287.81 L176.95,288.78 L177.49,289.78 L178.02,290.81 L178.56,291.86 L179.09,292.94 L179.63,294.04 L180.16,295.14 L180.70,296.24 L181.24,297.33 L181.77,298.39 L182.31,299.43 L182.84,300.43 L183.38,301.37 L183.91,302.24 L184.44,303.04 L184.98,303.75 L185.51,304.36 L186.05,304.87 L186.58,305.26 L187.12,305.53 L187.65,305.67 L188.19,305.69 L188.73,305.55 L189.26,305.24 L189.80,304.78 L190.33,304.17 L190.87,303.42 L191.40,302.56 L191.94,301.58 L192.47,300.52 L193.00,299.38 L193.54,298.19 L194.07,296.97 L194.61,295.72 L195.14,294.46 L195.68,293.20 L196.21,291.97 L196.75,290.76 L197.29,289.58 L197.82,288.45 L198.36,287.37 L198.89,286.33 L199.43,285.35 L199.96,284.43 L200.50,283.56 L201.03,282.74 L201.56,281.98 L202.10,281.27 L202.63,280.61 L203.17,280.01 L203.70,279.45 L204.24,278.93 L204.77,278.45 L205.31,278.02 L205.84,277.62 L206.38,277.25 L206.92,276.92 L207.45,276.61 L207.99,276.33 L208.52,276.08 L209.06,275.85 L209.59,275.63 L210.12,275.44 L210.66,275.27 L211.19,275.11 L211.73,274.97 L212.26,274.84 L212.80,274.72 L213.33,274.61 L213.87,274.52 L214.40,274.43 L214.94,274.35 L215.48,274.28 L216.01,274.21 L216.55,274.15 L217.08,274.10 L217.62,274.05 L218.15,274.01 L218.69,273.97 L219.22,273.93 L219.75,273.90 L220.29,273.87 L220.82,273.85 L221.36,273.82 L221.89,273.80 L222.43,273.78 L222.96,273.76 L223.50,273.75 L224.04,273.73 L224.57,273.72 L225.11,273.71 L225.64,273.70 L226.18,273.69 L226.71,273.68 L227.25,273.67 L227.78,273.67 L228.31,273.66 L228.85,273.65 L229.38,273.65 L229.92,273.64 L230.45,273.64 L230.99,273.64 L231.52,273.63 L232.06,273.63 L232.59,273.63 L233.13,273.62 L233.67,273.62 L234.20,273.62 L234.74,273.62 L235.27,273.62 L235.81,273.61 L236.34,273.61 L236.88,273.61 L237.41,273.61 L237.94,273.61 L238.48,273.61 L239.01,273.61 L239.55,273.61 L240.08,273.61 L240.62,273.61 L241.15,273.61 L241.69,273.60 L242.23,273.60 L242.76,273.60 L243.30,273.60 L243.83,273.60 L244.37,273.60 L244.90,273.60 L245.44,273.60 L245.97,273.60 L246.50,273.60 L247.04,273.60 L247.57,273.60 L248.11,273.60 L248.64,273.60 L249.18,273.60 L249.71,273.60 L250.25,273.60 L250.79,273.60 L251.32,273.60 L251.86,273.60 L252.39,273.60 L252.93,273.60 L253.46,273.60 L254.00,273.60 L254.53,273.60 L255.06,273.60 L255.60,273.60 L256.13,273.60 L256.67,273.60 L257.20,273.60 L257.74,273.60 L258.27,273.60 L258.81,273.60 L259.34,273.60 L259.88,273.60 L260.42,273.60 L260.95,273.60 L261.49,273.60 L262.02,273.60 L262.56,273.60 L263.09,273.60 L263.62,273.60 L264.16,273.60 L264.69,273.60 L265.23,273.60 L265.76,273.60 L266.30,273.60" stroke="#ff8000"/>
<path d="M52.30,273.60 L52.83,273.60 L53.37,273.60 L53.90,273.60 L54.44,273.60 L54.97,273.60 L55.51,273.60 L56.04,273.60 L56.58,273.60 L57.11,273.60 L57.65,273.60 L58.18,273.60 L58.72,273.60 L59.25,273.60 L59.79,273.60 L60.32,273.60 L60.86,273.60 L61.39,273.60 L61.93,273.60 L62.46,273.60 L63.00,273.60 L63.53,273.60 L64.07,273.60 L64.60,273.60 L65.14,273.60 L65.67,273.60 L66.21,273.60 L66.75,273.60 L67.28,273.60 L67.81,273.60 L68.35,273.60 L68.88,273.60 L69.42,273.60 L69.95,273.60 L70.49,273.60 L71.03,273.60 L71.56,273.60 L72.09,273.60 L72.63,273.60 L73.16,273.60 L73.70,273.60 L74.23,273.60 L74.77,273.60 L75.30,273.60 L75.84,273.60 L76.38,273.60 L76.91,273.60 L77.44,273.60 L77.98,273.60 L78.52,273.60 L79.05,273.60 L79.58,273.60 L80.12,273.60 L80.66,273.60 L81.19,273.60 L81.72,273.60 L82.26,273.60 L82.80,273.60 L83.33,273.60 L83.86,273.60 L84.40,273.60 L84.94,273.60 L85.47,273.60 L86.00,273.60 L86.54,273.60 L87.07,273.60 L87.61,273.60 L88.14,273.60 L88.68,273.60 L89.22,273.60 L89.75,273.61 L90.28,273.61 L90.82,273.61 L91.35,273.61 L91.89,273.61 L92.42,273.61 L92.96,273.61 L93.50,273.61 L94.03,273.61 L94.56,273.61 L95.10,273.61 L95.63,273.61 L96.17,273.61 L96.70,273.61 L97.24,273.61 L97.78,273.61 L98.31,273.61 L98.84,273.61 L99.38,273.61 L99.91,273.61 L100.45,273.61 L100.98,273.62 L101.52,273.62 L102.06,273.62 L102.59,273.62 L103.12,273.62 L103.66,273.62 L104.19,273.62 L104.73,273.62 L105.27,273.62 L105.80,273.62 L106.33,273.63 L106.87,273.63 L107.41,273.63 L107.94,273.63 L108.47,273.63 L109.01,273.63 L109.54,273.63 L110.08,273.64 L110.61,273.64 L111.15,273.64 L111.69,273.64 L112.22,273.64 L112.75,273.65 L113.29,273.65 L113.82,273.65 L114.36,273.65 L114.89,273.66 L115.43,273.66 L115.97,273.66 L116.50,273.67 L117.03,273.67 L117.57,273.67 L118.11,273.68 L118.64,273.68 L119.17,273.69 L119.71,273.69 L120.24,273.70 L120.78,273.70 L121.31,273.71 L121.85,273.71 L122.38,273.72 L122.92,273.72 L123.45,273.73 L123.99,273.74 L124.52,273.74 L125.06,273.75 L125.59,273.76 L126.13,273.77 L126.66,273.77 L127.20,273.78 L127.73,273.79 L128.27,273.80 L128.81,273.81 L129.34,273.83 L129.88,273.84 L130.41,273.85 L130.94,273.86 L131.48,273.88 L132.01,273.89 L132.55,273.91 L133.08,273.92 L133.62,273.94 L134.16,273.96 L134.69,273.97 L135.22,273.99 L135.76,274.01 L136.30,274.03 L136.83,274.06 L137.37,274.08 L137.90,274.11 L138.44,274.13 L138.97,274.16 L139.50,274.19 L140.04,274.22 L140.57,274.25 L141.11,274.28 L141.64,274.32 L142.18,274.36 L142.72,274.39 L143.25,274.43 L143.78,274.48 L144.32,274.52 L144.86,274.57 L145.39,274.62 L145.93,274.67 L146.46,274.72 L147.00,274.78 L147.53,274.84 L148.06,274.90 L148.60,274.97 L149.13,275.04 L149.67,275.11 L150.20,275.19 L150.74,275.27 L151.27,275.35 L151.81,275.44 L152.34,275.53 L152.88,275.63 L153.41,275.73 L153.95,275.83 L154.49,275.94 L155.02,276.06 L155.56,276.18 L156.09,276.30 L156.62,276.43 L157.16,276.57 L157.69,276.71 L158.23,276.86 L158.76,277.02 L159.30,277.18 L159.83,277.35 L160.37,277.52 L160.91,277.71 L161.44,277.90 L161.97,278.10 L162.51,278.30 L163.05,278.52 L163.58,278.74 L164.12,278.97 L164.65,279.21 L165.19,279.46 L165.72,279.72 L166.25,279.98 L166.79,280.25 L167.32,280.54 L167.86,280.83 L168.39,281.13 L168.93,281.44 L169.47,281.76 L170.00,282.09 L170.53,282.42 L171.07,282.76 L171.61,283.11 L172.14,283.47 L172.68,283.84 L173.21,284.21 L173.75,284.59 L174.28,284.97 L174.81,285.36 L175.35,285.76 L175.88,286.15 L176.42,286.55 L176.95,286.95 L177.49,287.36 L178.02,287.76 L178.56,288.16 L179.09,288.56 L179.63,288.95 L180.16,289.34 L180.70,289.72 L181.24,290.10 L181.77,290.46 L182.31,290.82 L182.84,291.17 L183.38,291.50 L183.91,291.82 L184.44,292.12 L184.98,292.40 L185.51,292.67 L186.05,292.91 L186.58,293.14 L187.12,293.35 L187.65,293.53 L188.19,293.68 L188.73,293.82 L189.26,293.93 L189.80,294.01 L190.33,294.06 L190.87,294.09 L191.40,294.10 L191.94,294.05 L192.47,293.96 L193.00,293.82 L193.54,293.64 L194.07,293.41 L194.61,293.14 L195.14,292.83 L195.68,292.48 L196.21,292.10 L196.75,291.68 L197.29,291.24 L197.82,290.77 L198.36,290.28 L198.89,289.78 L199.43,289.26 L199.96,288.73 L200.50,288.19 L201.03,287.65 L201.56,287.11 L202.10,286.56 L202.63,286.02 L203.17,285.49 L203.70,284.96 L204.24,284.44 L204.77,283.93 L205.31,283.43 L205.84,282.95 L206.38,282.48 L206.92,282.03 L207.45,281.59 L207.99,281.17 L208.52,280.76 L209.06,280.37 L209.59,280.00 L210.12,279.64 L210.66,279.30 L211.19,278.97 L211.73,278.66 L212.26,278.36 L212.80,278.08 L213.33,277.82 L213.87,277.56 L214.40,277.32 L214.94,277.10 L215.48,276.88 L216.01,276.68 L216.55,276.49 L217.08,276.31 L217.62,276.14 L218.15,275.98 L218.69,275.83 L219.22,275.69 L219.75,275.56 L220.29,275.43 L220.82,275.32 L221.36,275.21 L221.89,275.10 L222.43,275.01 L222.96,274.92 L223.50,274.83 L224.04,274.75 L224.57,274.68 L225.11,274.61 L225.64,274.54 L226.18,274.48 L226.71,274.42 L227.25,274.37 L227.78,274.32 L228.31,274.27 L228.85,274.23 L229.38,274.19 L229.92,274.15 L230.45,274.11 L230.99,274.08 L231.52,274.05 L232.06,274.02 L232.59,273.99 L233.13,273.96 L233.67,273.94 L234.20,273.92 L234.74,273.90 L235.27,273.88 L235.81,273.86 L236.34,273.84 L236.88,273.82 L237.41,273.81 L237.94,273.80 L238.48,273.78 L239.01,273.77 L239.55,273.76 L240.08,273.75 L240.62,273.74 L241.15,273.73 L241.69,273.72 L242.23,273.71 L242.76,273.71 L243.30,273.70 L243.83,273.69 L244.37,273.69 L244.90,273.68 L245.44,273.67 L245.97,273.67 L246.50,273.67 L247.04,273.66 L247.57,273.66 L248.11,273.65 L248.64,273.65 L249.18,273.65 L249.71,273.64 L250.25,273.64 L250.79,273.64 L251.32,273.64 L251.86,273.63 L252.39,273.63 L252.93,273.63 L253.46,273.63 L254.00,273.62 L254.53,273.62 L255.06,273.62 L255.60,273.62 L256.13,273.62 L256.67,273.62 L257.20,273.62 L257.74,273.62 L258.27,273.61 L258.81,273.61 L259.34,273.61 L259.88,273.61 L260.42,273.61 L260.95,273.61 L261.49,273.61 L262.02,273.61 L262.56,273.61 L263.09,273.61 L263.62,273.61 L264.16,273.61 L264.69,273.61 L265.23,273.61 L265.76,273.61 L266.30,273.61" stroke="#00ff00"/>
<path d="M52.30,273.60 L52.83,273.60 L53.37,273.60 L53.90,273.60 L54.44,273.60 L54.97,273.60 L55.51,273.60 L56.04,273.60 L56.58,273.60 L57.11,273.60 L57.65,273.60 L58.18,273.60 L58.72,273.60 L59.25,273.60 L59.79,273.60 L60.32,273.60 L60.86,273.60 L61.39,273.60 L61.93,273.60 L62.46,273.60 L63.00,273.60 L63.53,273.60 L64.07,273.60 L64.60,273.60 L65.14,273.60 L65.67,273.60 L66.21,273.60 L66.75,273.60 L67.28,273.60 L67.81,273.60 L68.35,273.60 L68.88,273.60 L69.42,273.60 L69.95,273.60 L70.49,273.60 L71.03,273.60 L71.56,273.60 L72.09,273.60 L72.63,273.60 L73.16,273.60 L73.70,273.60 L74.23,273.60 L74.77,273.60 L75.30,273.60 L75.84,273.60 L76.38,273.60 L76.91,273.60 L77.44,273.60 L77.98,273.60 L78.52,273.60 L79.05,273.60 L79.58,273.60 L80.12,273.60 L80.66,273.60 L81.19,273.60 L81.72,273.60 L82.26,273.60 L82.80,273.60 L83.33,273.60 L83.86,273.60 L84.40,273.60 L84.94,273.61 L85.47,273.61 L86.00,273.61 L86.54,273.61 L87.07,273.61 L87.61,273.61 L88.14,273.61 L88.68,273.61 L89.22,273.61 L89.75,273.61 L90.28,273.61 L90.82,273.61 L91.35,273.61 L91.89,273.61 L92.42,273.61 L92.96,273.61 L93.50,273.61 L94.03,273.61 L94.56,273.61 L95.10,273.61 L95.63,273.61 L96.17,273.61 L96.70,273.62 L97.24,273.62 L97.78,273.62 L98.31,273.62 L98.84,273.62 L99.38,273.62 L99.91,273.62 L100.45,273.62 L100.98,273.62 L101.52,273.62 L102.06,273.63 L102.59,273.63 L103.12,273.63 L103.66,273.63 L104.19,273.63 L104.73,273.63 L105.27,273.64 L105.80,273.64 L106.33,273.64 L106.87,273.64 L107.41,273.64 L107.94,273.64 L108.47,273.65 L109.01,273.65 L109.54,273.65 L110.08,273.65 L110.61,273.66 L111.15,273.66 L111.69,273.66 L112.22,273.67 L112.75,273.67 L113.29,273.67 L113.82,273.68 L114.36,273.68 L114.89,273.69 L115.43,273.69 L115.97,273.70 L116.50,273.70 L117.03,273.71 L117.57,273.71 L118.11,273.72 L118.64,273.72 L119.17,273.73 L119.71,273.74 L120.24,273.74 L120.78,273.75 L121.31,273.76 L121.85,273.77 L122.38,273.77 L122.92,273.78 L123.45,273.79 L123.99,273.80 L124.52,273.81 L125.06,273.82 L125.59,273.83 L126.13,273.85 L126.66,273.86 L127.20,273.87 L127.73,273.89 L128.27,273.90 L128.81,273.92 L129.34,273.93 L129.88,273.95 L130.41,273.97 L130.94,273.99 L131.48,274.01 L132.01,274.03 L132.55,274.05 L133.08,274.07 L133.62,274.10 L134.16,274.12 L134.69,274.15 L135.22,274.18 L135.76,274.20 L136.30,274.23 L136.83,274.27 L137.37,274.30 L137.90,274.34 L138.44,274.37 L138.97,274.41 L139.50,274.45 L140.04,274.50 L140.57,274.54 L141.11,274.59 L141.64,274.64 L142.18,274.69 L142.72,274.74 L143.25,274.80 L143.78,274.86 L144.32,274.92 L144.86,274.99 L145.39,275.06 L145.93,275.13 L146.46,275.21 L147.00,275.29 L147.53,275.37 L148.06,275.46 L148.60,275.55 L149.13,275.64 L149.67,275.74 L150.20,275.84 L150.74,275.95 L151.27,276.06 L151.81,276.18 L152.34,276.31 L152.88,276.44 L153.41,276.57 L153.95,276.71 L154.49,276.86 L155.02,277.01 L155.56,277.17 L156.09,277.33 L156.62,277.50 L157.16,277.68 L157.69,277.87 L158.23,278.06 L158.76,278.26 L159.30,278.47 L159.83,278.69 L160.37,278.91 L160.91,279.14 L161.44,279.38 L161.97,279.63 L162.51,279.88 L163.05,280.15 L163.58,280.42 L164.12,280.70 L164.65,280.99 L165.19,281.28 L165.72,281.59 L166.25,281.90 L166.79,282.22 L167.32,282.54 L167.86,282.88 L168.39,283.22 L168.93,283.56 L169.47,283.91 L170.00,284.27 L170.53,284.63 L171.07,285.00 L171.61,285.37 L172.14,285.74 L172.68,286.11 L173.21,286.49 L173.75,286.86 L174.28,287.24 L174.81,287.61 L175.35,287.98 L175.88,288.34 L176.42,288.70 L176.95,289.06 L177.49,289.40 L178.02,289.74 L178.56,290.07 L179.09,290.38 L179.63,290.69 L180.16,290.98 L180.70,291.25 L181.24,291.51 L181.77,291.75 L182.31,291.97 L182.84,292.17 L183.38,292.36 L183.91,292.52 L184.44,292.66 L184.98,292.77 L185.51,292.86 L186.05,292.93 L186.58,292.98 L187.12,293.00 L187.65,292.99 L188.19,292.96 L188.73,292.91 L189.26,292.82 L189.80,292.71 L190.33,292.58 L190.87,292.42 L191.40,292.24 L191.94,292.03 L192.47,291.81 L193.00,291.56 L193.54,291.29 L194.07,291.01 L194.61,290.71 L195.14,290.39 L195.68,290.06 L196.21,289.72 L196.75,289.37 L197.29,289.01 L197.82,288.63 L198.36,288.26 L198.89,287.87 L199.43,287.49 L199.96,287.10 L200.50,286.71 L201.03,286.32 L201.56,285.92 L202.10,285.54 L202.63,285.15 L203.17,284.77 L203.70,284.39 L204.24,284.01 L204.77,283.64 L205.31,283.28 L205.84,282.92 L206.38,282.58 L206.92,282.23 L207.45,281.90 L207.99,281.58 L208.52,281.26 L209.06,280.95 L209.59,280.65 L210.12,280.36 L210.66,280.08 L211.19,279.81 L211.73,279.54 L212.26,279.29 L212.80,279.04 L213.33,278.80 L213.87,278.57 L214.40,278.35 L214.94,278.14 L215.48,277.94 L216.01,277.74 L216.55,277.55 L217.08,277.37 L217.62,277.20 L218.15,277.03 L218.69,276.87 L219.22,276.72 L219.75,276.57 L220.29,276.43 L220.82,276.30 L221.36,276.17 L221.89,276.04 L222.43,275.93 L222.96,275.82 L223.50,275.71 L224.04,275.61 L224.57,275.51 L225.11,275.42 L225.64,275.33 L226.18,275.24 L226.71,275.16 L227.25,275.09 L227.78,275.01 L228.31,274.94 L228.85,274.88 L229.38,274.81 L229.92,274.75 L230.45,274.70 L230.99,274.64 L231.52,274.59 L232.06,274.54 L232.59,274.49 L233.13,274.45 L233.67,274.41 L234.20,274.37 L234.74,274.33 L235.27,274.29 L235.81,274.26 L236.34,274.22 L236.88,274.19 L237.41,274.16 L237.94,274.13 L238.48,274.11 L239.01,274.08 L239.55,274.06 L240.08,274.03 L240.62,274.01 L241.15,273.99 L241.69,273.97 L242.23,273.95 L242.76,273.93 L243.30,273.92 L243.83,273.90 L244.37,273.89 L244.90,273.87 L245.44,273.86 L245.97,273.84 L246.50,273.83 L247.04,273.82 L247.57,273.81 L248.11,273.80 L248.64,273.79 L249.18,273.78 L249.71,273.77 L250.25,273.76 L250.79,273.75 L251.32,273.75 L251.86,273.74 L252.39,273.73 L252.93,273.72 L253.46,273.72 L254.00,273.71 L254.53,273.71 L255.06,273.70 L255.60,273.70 L256.13,273.69 L256.67,273.69 L257.20,273.68 L257.74,273.68 L258.27,273.67 L258.81,273.67 L259.34,273.67 L259.88,273.66 L260.42,273.66 L260.95,273.66 L261.49,273.65 L262.02,273.65 L262.56,273.65 L263.09,273.65 L263.62,273.64 L264.16,273.64 L264.69,273.64 L265.23,273.64 L265.76,273.64 L266.30,273.63" stroke="#000099"/>
</g>
<rect x="52.3" y="161.8" width="214.0" height="154.39999999999998" fill="none" stroke="#000" stroke-width="1.3"/>
<line x1="52.3" y1="170.4" x2="54.9" y2="170.4" stroke="#000" stroke-width="1.1"/>
<line x1="52.3" y1="204.85" x2="54.9" y2="204.85" stroke="#000" stroke-width="1.1"/>
<line x1="52.3" y1="239.3" x2="54.9" y2="239.3" stroke="#000" stroke-width="1.1"/>
<line x1="52.3" y1="273.75" x2="54.9" y2="273.75" stroke="#000" stroke-width="1.1"/>
<line x1="52.3" y1="308.1" x2="54.9" y2="308.1" stroke="#000" stroke-width="1.1"/>
<line x1="98.1" y1="316.2" x2="98.1" y2="313.4" stroke="#000" stroke-width="1.1"/>
<line x1="174.8" y1="316.2" x2="174.8" y2="313.4" stroke="#000" stroke-width="1.1"/>
<line x1="251.2" y1="316.2" x2="251.2" y2="313.4" stroke="#000" stroke-width="1.1"/>
<text x="56.2" y="173.8" font-size="13.5" text-anchor="start" >(d)</text>
<text x="49.099999999999994" y="174.5" font-size="16" text-anchor="end" >6</text>
<text x="49.099999999999994" y="208.95" font-size="16" text-anchor="end" >4</text>
<text x="49.099999999999994" y="243.4" font-size="16" text-anchor="end" >2</text>
<text x="49.099999999999994" y="277.85" font-size="16" text-anchor="end" >0</text>
<text x="49.099999999999994" y="312.20000000000005" font-size="16" text-anchor="end" >-2</text>
<text x="0" y="0" font-size="16.4" text-anchor="middle" transform="translate(11.8,242.5) rotate(-90)" >Built-in Electric Field</text>
<text x="0" y="0" font-size="16.4" text-anchor="middle" transform="translate(34.5,240.9) rotate(-90)" >(×10<tspan font-size="10.5" dy="-7.8">5</tspan><tspan dy="7.8"> V/cm)</tspan></text>
<line x1="57" y1="193.5" x2="79" y2="193.5" stroke="#000000" stroke-width="1.5"/>
<text x="81.0" y="197.2" font-size="10" text-anchor="start" >305K</text>
<line x1="57" y1="205.3" x2="79" y2="205.3" stroke="#ff0000" stroke-width="1.5"/>
<text x="81.0" y="209.0" font-size="10" text-anchor="start" >315K</text>
<line x1="57" y1="216.8" x2="79" y2="216.8" stroke="#0000ff" stroke-width="1.5"/>
<text x="81.0" y="220.5" font-size="10" text-anchor="start" >325K</text>
<line x1="57" y1="228.5" x2="79" y2="228.5" stroke="#2a962a" stroke-width="1.5"/>
<text x="81.0" y="232.2" font-size="10" text-anchor="start" >335K</text>
<line x1="57" y1="240.5" x2="79" y2="240.5" stroke="#ff00ff" stroke-width="1.5"/>
<text x="81.0" y="244.2" font-size="10" text-anchor="start" >345K</text>
<line x1="57" y1="252.2" x2="79" y2="252.2" stroke="#808000" stroke-width="1.5"/>
<text x="81.0" y="255.89999999999998" font-size="10" text-anchor="start" >355K</text>
<line x1="218.1" y1="193.5" x2="240.2" y2="193.5" stroke="#ffff00" stroke-width="1.5"/>
<text x="242.1" y="197.2" font-size="10" text-anchor="start" >365K</text>
<line x1="218.1" y1="205.3" x2="240.2" y2="205.3" stroke="#800080" stroke-width="1.5"/>
<text x="242.1" y="209.0" font-size="10" text-anchor="start" >375K</text>
<line x1="218.1" y1="216.8" x2="240.2" y2="216.8" stroke="#ff8000" stroke-width="1.5"/>
<text x="242.1" y="220.5" font-size="10" text-anchor="start" >385K</text>
<line x1="218.1" y1="228.5" x2="240.2" y2="228.5" stroke="#00ff00" stroke-width="1.5"/>
<text x="242.1" y="232.2" font-size="10" text-anchor="start" >395K</text>
<line x1="218.1" y1="240.5" x2="240.2" y2="240.5" stroke="#000099" stroke-width="1.5"/>
<text x="242.1" y="244.2" font-size="10" text-anchor="start" >405K</text>
<text x="0" y="0" font-size="13.7" transform="translate(75.0,306.9) scale(0.92,1)">WSe<tspan font-size="9.6" dy="5.2">2</tspan></text>
<text x="0" y="0" font-size="13.7" transform="translate(221.3,306.9) scale(0.92,1)">WS<tspan font-size="9.6" dy="5.2">2</tspan></text>
<text x="98.1" y="332.4" font-size="16" text-anchor="middle" >5</text>
<text x="174.8" y="332.4" font-size="16" text-anchor="middle" >10</text>
<text x="251.2" y="332.4" font-size="16" text-anchor="middle" >15</text>
<text x="111.8" y="350.7" font-size="16.4" text-anchor="start" >Distance (μm)</text>
<rect x="430" y="161.85" width="14.8" height="154.35" fill="url(#hatch)" stroke="#999" stroke-width="0.7"/>
<line x1="328" y1="239.15" x2="505.75" y2="239.15" stroke="#9a9a9a" stroke-width="0.9" stroke-dasharray="1,1"/>
<line x1="347.7" y1="194.3" x2="347.7" y2="206.3" stroke="#666" stroke-width="0.9"/>
<line x1="345.9" y1="194.3" x2="349.5" y2="194.3" stroke="#666" stroke-width="0.9"/>
<line x1="345.9" y1="206.3" x2="349.5" y2="206.3" stroke="#666" stroke-width="0.9"/>
<polygon points="347.70,197.30 350.74,199.51 349.58,203.09 345.82,203.09 344.66,199.51" fill="#000"/>
<line x1="361.4" y1="197.9" x2="361.4" y2="210.2" stroke="#666" stroke-width="0.9"/>
<line x1="359.59999999999997" y1="197.9" x2="363.2" y2="197.9" stroke="#666" stroke-width="0.9"/>
<line x1="359.59999999999997" y1="210.2" x2="363.2" y2="210.2" stroke="#666" stroke-width="0.9"/>
<polygon points="361.40,201.10 364.44,203.31 363.28,206.89 359.52,206.89 358.36,203.31" fill="#000"/>
<line x1="375.2" y1="191.5" x2="375.2" y2="204.1" stroke="#666" stroke-width="0.9"/>
<line x1="373.4" y1="191.5" x2="377.0" y2="191.5" stroke="#666" stroke-width="0.9"/>
<line x1="373.4" y1="204.1" x2="377.0" y2="204.1" stroke="#666" stroke-width="0.9"/>
<polygon points="375.20,194.90 378.24,197.11 377.08,200.69 373.32,200.69 372.16,197.11" fill="#000"/>
<line x1="389" y1="198.5" x2="389" y2="210.2" stroke="#666" stroke-width="0.9"/>
<line x1="387.2" y1="198.5" x2="390.8" y2="198.5" stroke="#666" stroke-width="0.9"/>
<line x1="387.2" y1="210.2" x2="390.8" y2="210.2" stroke="#666" stroke-width="0.9"/>
<polygon points="389.00,201.70 392.04,203.91 390.88,207.49 387.12,207.49 385.96,203.91" fill="#000"/>
<line x1="402.6" y1="201.2" x2="402.6" y2="213.2" stroke="#666" stroke-width="0.9"/>
<line x1="400.8" y1="201.2" x2="404.40000000000003" y2="201.2" stroke="#666" stroke-width="0.9"/>
<line x1="400.8" y1="213.2" x2="404.40000000000003" y2="213.2" stroke="#666" stroke-width="0.9"/>
<polygon points="402.60,204.20 405.64,206.41 404.48,209.99 400.72,209.99 399.56,206.41" fill="#000"/>
<line x1="416.1" y1="215.4" x2="416.1" y2="227.9" stroke="#666" stroke-width="0.9"/>
<line x1="414.3" y1="215.4" x2="417.90000000000003" y2="215.4" stroke="#666" stroke-width="0.9"/>
<line x1="414.3" y1="227.9" x2="417.90000000000003" y2="227.9" stroke="#666" stroke-width="0.9"/>
<polygon points="416.10,218.30 419.14,220.51 417.98,224.09 414.22,224.09 413.06,220.51" fill="#000"/>
<line x1="430" y1="224.8" x2="430" y2="236.7" stroke="#666" stroke-width="0.9"/>
<line x1="428.2" y1="224.8" x2="431.8" y2="224.8" stroke="#666" stroke-width="0.9"/>
<line x1="428.2" y1="236.7" x2="431.8" y2="236.7" stroke="#666" stroke-width="0.9"/>
<polygon points="430.00,227.50 433.04,229.71 431.88,233.29 428.12,233.29 426.96,229.71" fill="#000"/>
<line x1="443.9" y1="249.7" x2="443.9" y2="262" stroke="#666" stroke-width="0.9"/>
<line x1="442.09999999999997" y1="249.7" x2="445.7" y2="249.7" stroke="#666" stroke-width="0.9"/>
<line x1="442.09999999999997" y1="262" x2="445.7" y2="262" stroke="#666" stroke-width="0.9"/>
<polygon points="443.90,253.00 446.94,255.21 445.78,258.79 442.02,258.79 440.86,255.21" fill="#000"/>
<line x1="457.8" y1="247.3" x2="457.8" y2="259.4" stroke="#666" stroke-width="0.9"/>
<line x1="456.0" y1="247.3" x2="459.6" y2="247.3" stroke="#666" stroke-width="0.9"/>
<line x1="456.0" y1="259.4" x2="459.6" y2="259.4" stroke="#666" stroke-width="0.9"/>
<polygon points="457.80,250.30 460.84,252.51 459.68,256.09 455.92,256.09 454.76,252.51" fill="#000"/>
<line x1="471.5" y1="242.5" x2="471.5" y2="254.5" stroke="#666" stroke-width="0.9"/>
<line x1="469.7" y1="242.5" x2="473.3" y2="242.5" stroke="#666" stroke-width="0.9"/>
<line x1="469.7" y1="254.5" x2="473.3" y2="254.5" stroke="#666" stroke-width="0.9"/>
<polygon points="471.50,245.70 474.54,247.91 473.38,251.49 469.62,251.49 468.46,247.91" fill="#000"/>
<line x1="485.1" y1="241.6" x2="485.1" y2="254" stroke="#666" stroke-width="0.9"/>
<line x1="483.3" y1="241.6" x2="486.90000000000003" y2="241.6" stroke="#666" stroke-width="0.9"/>
<line x1="483.3" y1="254" x2="486.90000000000003" y2="254" stroke="#666" stroke-width="0.9"/>
<polygon points="485.10,245.20 488.14,247.41 486.98,250.99 483.22,250.99 482.06,247.41" fill="#000"/>
<rect x="327.2" y="161.85" width="178.55" height="154.35" fill="none" stroke="#000" stroke-width="1.3"/>
<line x1="327.2" y1="192.7" x2="332.0" y2="192.7" stroke="#000" stroke-width="1.1"/>
<line x1="327.2" y1="239.05" x2="332.0" y2="239.05" stroke="#000" stroke-width="1.1"/>
<line x1="327.2" y1="285.4" x2="332.0" y2="285.4" stroke="#000" stroke-width="1.1"/>
<line x1="368.4" y1="316.2" x2="368.4" y2="311.5" stroke="#000" stroke-width="1.1"/>
<line x1="423.3" y1="316.2" x2="423.3" y2="311.5" stroke="#000" stroke-width="1.1"/>
<line x1="478.2" y1="316.2" x2="478.2" y2="311.5" stroke="#000" stroke-width="1.1"/>
<text x="333.4" y="173.5" font-size="13" text-anchor="start" >(e)</text>
<text x="324.0" y="197.39999999999998" font-size="16" text-anchor="end" >6</text>
<text x="324.0" y="243.75" font-size="16" text-anchor="end" >0</text>
<text x="324.0" y="290.09999999999997" font-size="16" text-anchor="end" >-6</text>
<text x="0" y="0" font-size="16.4" text-anchor="middle" transform="translate(284.8,240.6) rotate(-90)" >Maximum Electric Field</text>
<text x="0" y="0" font-size="16.4" text-anchor="middle" transform="translate(306.4,242.0) rotate(-90)" >(× 10<tspan font-size="10.5" dy="-7.8">5</tspan><tspan dy="7.8"> V/cm)</tspan></text>
<text x="368.4" y="334.2" font-size="16" text-anchor="middle" >320</text>
<text x="423.3" y="334.2" font-size="16" text-anchor="middle" >360</text>
<text x="478.0" y="334.2" font-size="16" text-anchor="middle" >400</text>
<text x="454.8" y="175.4" font-size="13" text-anchor="start" >Electric</text>
<text x="454.8" y="191.2" font-size="13" text-anchor="start" >Field</text>
<text x="454.8" y="207.4" font-size="13" text-anchor="start" >Reversal</text>
<line x1="458.7" y1="212.0" x2="441.07" y2="232.75" stroke="#000" stroke-width="1.2"/>
<path d="M435.50,239.30 L439.42,228.20 L441.07,232.75 L445.82,233.64 Z" fill="#000"/>
<text x="393.2" y="295.4" font-size="13" text-anchor="start" >T<tspan font-size="9" dy="4.4">c</tspan></text>
<line x1="408.9" y1="295.4" x2="425.87" y2="307.35" stroke="#000" stroke-width="1.2"/>
<path d="M432.90,312.30 L421.49,309.40 L425.87,307.35 L426.32,302.53 Z" fill="#000"/>
<line x1="531.8" y1="204.4" x2="531.8" y2="237.7" stroke="#888" stroke-width="0.9"/>
<line x1="530.0" y1="204.4" x2="533.5999999999999" y2="204.4" stroke="#888" stroke-width="0.9"/>
<line x1="530.0" y1="237.7" x2="533.5999999999999" y2="237.7" stroke="#888" stroke-width="0.9"/>
<line x1="546" y1="193.3" x2="546" y2="226.4" stroke="#888" stroke-width="0.9"/>
<line x1="544.2" y1="193.3" x2="547.8" y2="193.3" stroke="#888" stroke-width="0.9"/>
<line x1="544.2" y1="226.4" x2="547.8" y2="226.4" stroke="#888" stroke-width="0.9"/>
<line x1="559.7" y1="217.9" x2="559.7" y2="250.4" stroke="#888" stroke-width="0.9"/>
<line x1="557.9000000000001" y1="217.9" x2="561.5" y2="217.9" stroke="#888" stroke-width="0.9"/>
<line x1="557.9000000000001" y1="250.4" x2="561.5" y2="250.4" stroke="#888" stroke-width="0.9"/>
<line x1="573.4" y1="241.8" x2="573.4" y2="275.1" stroke="#888" stroke-width="0.9"/>
<line x1="571.6" y1="241.8" x2="575.1999999999999" y2="241.8" stroke="#888" stroke-width="0.9"/>
<line x1="571.6" y1="275.1" x2="575.1999999999999" y2="275.1" stroke="#888" stroke-width="0.9"/>
<line x1="586.9" y1="245.4" x2="586.9" y2="279.3" stroke="#888" stroke-width="0.9"/>
<line x1="585.1" y1="245.4" x2="588.6999999999999" y2="245.4" stroke="#888" stroke-width="0.9"/>
<line x1="585.1" y1="279.3" x2="588.6999999999999" y2="279.3" stroke="#888" stroke-width="0.9"/>
<line x1="601" y1="252.5" x2="601" y2="285.5" stroke="#888" stroke-width="0.9"/>
<line x1="599.2" y1="252.5" x2="602.8" y2="252.5" stroke="#888" stroke-width="0.9"/>
<line x1="599.2" y1="285.5" x2="602.8" y2="285.5" stroke="#888" stroke-width="0.9"/>
<line x1="614.5" y1="233.6" x2="614.5" y2="266.6" stroke="#888" stroke-width="0.9"/>
<line x1="612.7" y1="233.6" x2="616.3" y2="233.6" stroke="#888" stroke-width="0.9"/>
<line x1="612.7" y1="266.6" x2="616.3" y2="266.6" stroke="#888" stroke-width="0.9"/>
<line x1="628.4" y1="273.1" x2="628.4" y2="306.2" stroke="#888" stroke-width="0.9"/>
<line x1="626.6" y1="273.1" x2="630.1999999999999" y2="273.1" stroke="#888" stroke-width="0.9"/>
<line x1="626.6" y1="306.2" x2="630.1999999999999" y2="306.2" stroke="#888" stroke-width="0.9"/>
<line x1="641.9" y1="256.2" x2="641.9" y2="289.2" stroke="#888" stroke-width="0.9"/>
<line x1="640.1" y1="256.2" x2="643.6999999999999" y2="256.2" stroke="#888" stroke-width="0.9"/>
<line x1="640.1" y1="289.2" x2="643.6999999999999" y2="289.2" stroke="#888" stroke-width="0.9"/>
<line x1="655.7" y1="221.5" x2="655.7" y2="254.6" stroke="#888" stroke-width="0.9"/>
<line x1="653.9000000000001" y1="221.5" x2="657.5" y2="221.5" stroke="#888" stroke-width="0.9"/>
<line x1="653.9000000000001" y1="254.6" x2="657.5" y2="254.6" stroke="#888" stroke-width="0.9"/>
<line x1="669.6" y1="214.2" x2="669.6" y2="247.6" stroke="#888" stroke-width="0.9"/>
<line x1="667.8000000000001" y1="214.2" x2="671.4" y2="214.2" stroke="#888" stroke-width="0.9"/>
<line x1="667.8000000000001" y1="247.6" x2="671.4" y2="247.6" stroke="#888" stroke-width="0.9"/>
<polyline points="531.8,220.2 546,209.4 559.7,233.8 573.4,257.7 586.9,261.8 601,268.6 614.5,249.7 628.4,289.2 641.9,272.3 655.7,237.6 669.6,230" fill="none" stroke="#000" stroke-width="1.4"/>
<polygon points="531.8,216.6 535.0999999999999,222.39999999999998 528.5,222.39999999999998" fill="#000"/>
<polygon points="546,205.8 549.3,211.6 542.7,211.6" fill="#000"/>
<polygon points="559.7,230.20000000000002 563.0,236.0 556.4000000000001,236.0" fill="#000"/>
<polygon points="573.4,254.1 576.6999999999999,259.9 570.1,259.9" fill="#000"/>
<polygon points="586.9,258.2 590.1999999999999,264.0 583.6,264.0" fill="#000"/>
<polygon points="601,265.0 604.3,270.8 597.7,270.8" fill="#000"/>
<polygon points="614.5,246.1 617.8,251.89999999999998 611.2,251.89999999999998" fill="#000"/>
<polygon points="628.4,285.59999999999997 631.6999999999999,291.4 625.1,291.4" fill="#000"/>
<polygon points="641.9,268.7 645.1999999999999,274.5 638.6,274.5" fill="#000"/>
<polygon points="655.7,234.0 659.0,239.79999999999998 652.4000000000001,239.79999999999998" fill="#000"/>
<polygon points="669.6,226.4 672.9,232.2 666.3000000000001,232.2" fill="#000"/>
<rect x="511.8" y="161.85" width="178.49999999999994" height="154.35" fill="none" stroke="#000" stroke-width="1.3"/>
<line x1="690.3" y1="185.45" x2="688.0999999999999" y2="185.45" stroke="#000" stroke-width="1.1"/>
<line x1="690.3" y1="233.1" x2="688.0999999999999" y2="233.1" stroke="#000" stroke-width="1.1"/>
<line x1="690.3" y1="280.7" x2="688.0999999999999" y2="280.7" stroke="#000" stroke-width="1.1"/>
<line x1="552.5" y1="316.2" x2="552.5" y2="311.4" stroke="#000" stroke-width="1.1"/>
<line x1="607.6" y1="316.2" x2="607.6" y2="311.4" stroke="#000" stroke-width="1.1"/>
<line x1="662.6" y1="316.2" x2="662.6" y2="311.4" stroke="#000" stroke-width="1.1"/>
<text x="514.7" y="173.3" font-size="13" text-anchor="start" >(f)</text>
<text x="693.0999999999999" y="189.85" font-size="16" text-anchor="start" >3</text>
<text x="693.0999999999999" y="237.5" font-size="16" text-anchor="start" >2</text>
<text x="693.0999999999999" y="285.09999999999997" font-size="16" text-anchor="start" >1</text>
<text x="0" y="0" font-size="16.4" text-anchor="middle" transform="translate(720.6,241.3) rotate(-90)" >Depletion Width (μm)</text>
<text x="552.3" y="333.8" font-size="16" text-anchor="middle" >320</text>
<text x="607.2" y="333.8" font-size="16" text-anchor="middle" >360</text>
<text x="662.6" y="333.8" font-size="16" text-anchor="middle" >400</text>
<text x="464.3" y="350.5" font-size="16.4" text-anchor="start" >Temperature (K)</text>
</svg></body></html>
